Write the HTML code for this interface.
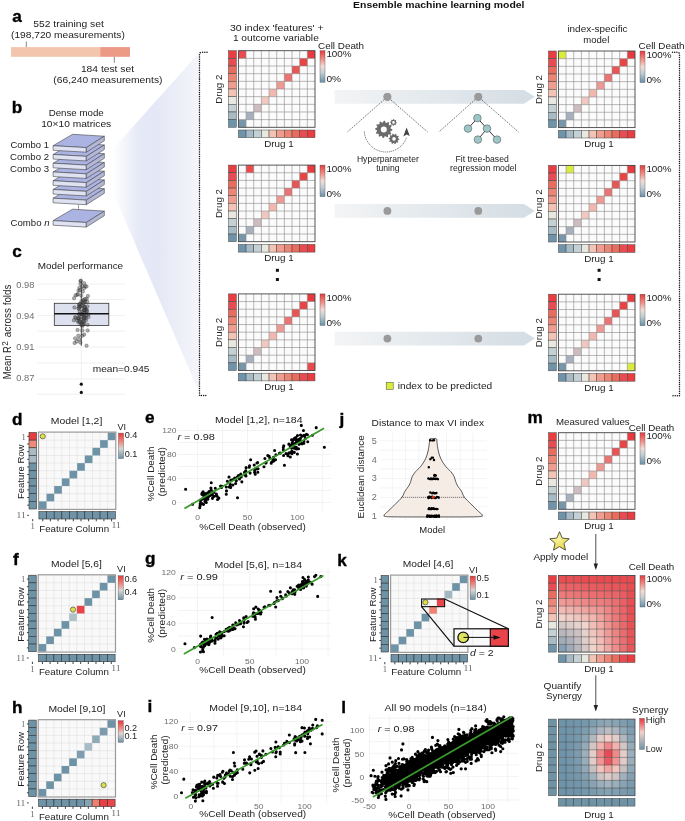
<!DOCTYPE html>
<html><head><meta charset="utf-8"><style>
html,body{margin:0;padding:0;background:#fff;}
svg{display:block;filter:blur(0.35px);}
text{font-family:"Liberation Sans", sans-serif;}
</style></head><body>
<svg width="685" height="821" viewBox="0 0 685 821" font-family="Liberation Sans, sans-serif" fill="#222">
<defs>
<linearGradient id="cbar" x1="0" y1="0" x2="0" y2="1">
<stop offset="0" stop-color="#e8383c"/><stop offset="0.25" stop-color="#ef8a80"/><stop offset="0.5" stop-color="#f1dcd6"/>
<stop offset="0.7" stop-color="#c3ced3"/><stop offset="1" stop-color="#6a91a8"/></linearGradient>
<linearGradient id="vibar" x1="0" y1="0" x2="0" y2="1">
<stop offset="0" stop-color="#e8383c"/><stop offset="0.35" stop-color="#ef8a80"/><stop offset="0.6" stop-color="#d8d6d4"/>
<stop offset="1" stop-color="#6a91a8"/></linearGradient>
<linearGradient id="fan" x1="0" y1="0" x2="1" y2="0">
<stop offset="0" stop-color="#ffffff"/><stop offset="0.12" stop-color="#f6f7fc"/><stop offset="0.3" stop-color="#e6e9f6"/><stop offset="0.5" stop-color="#e4e7f5"/><stop offset="0.75" stop-color="#eceef8"/><stop offset="1" stop-color="#f5f6fb"/></linearGradient>
<linearGradient id="arr" x1="0" y1="0" x2="1" y2="0">
<stop offset="0" stop-color="#f3f4f5"/><stop offset="1" stop-color="#d3dde4"/></linearGradient>
<radialGradient id="star" cx="0.4" cy="0.35" r="0.7">
<stop offset="0" stop-color="#fbf6a8"/><stop offset="1" stop-color="#e4d23a"/></radialGradient>
</defs>
<rect width="685" height="821" fill="#fff"/>
<text x="12.2" y="21.6" font-size="17.2" font-weight="bold" fill="#000" stroke="#000" stroke-width="0.35">a</text>
<text x="11.8" y="113.4" font-size="17.2" font-weight="bold" fill="#000" stroke="#000" stroke-width="0.35">b</text>
<text x="12.2" y="256.9" font-size="17.2" font-weight="bold" fill="#000" stroke="#000" stroke-width="0.35">c</text>
<text x="12" y="424.9" font-size="17.2" font-weight="bold" fill="#000" stroke="#000" stroke-width="0.35">d</text>
<text x="145" y="422.9" font-size="17.2" font-weight="bold" fill="#000" stroke="#000" stroke-width="0.35">e</text>
<text x="13" y="565.3" font-size="17.2" font-weight="bold" fill="#000" stroke="#000" stroke-width="0.35">f</text>
<text x="145" y="564.1" font-size="17.2" font-weight="bold" fill="#000" stroke="#000" stroke-width="0.35">g</text>
<text x="12" y="713.1" font-size="17.2" font-weight="bold" fill="#000" stroke="#000" stroke-width="0.35">h</text>
<text x="147.6" y="712.3" font-size="17.2" font-weight="bold" fill="#000" stroke="#000" stroke-width="0.35">i</text>
<text x="339.6" y="424.7" font-size="17.2" font-weight="bold" fill="#000" stroke="#000" stroke-width="0.35">j</text>
<text x="337.3" y="566.1" font-size="17.2" font-weight="bold" fill="#000" stroke="#000" stroke-width="0.35">k</text>
<text x="341.2" y="712.5" font-size="17.2" font-weight="bold" fill="#000" stroke="#000" stroke-width="0.35">l</text>
<text x="527.6" y="423.2" font-size="17.2" font-weight="bold" fill="#000" stroke="#000" stroke-width="0.35">m</text>
<text x="33.3" y="27.2" font-size="9.8" textLength="70.5" lengthAdjust="spacingAndGlyphs">552 training set</text>
<text x="11" y="38.4" font-size="9.8" textLength="113.8" lengthAdjust="spacingAndGlyphs">(198,720 measurements)</text>
<line x1="26.3" y1="41.5" x2="26.3" y2="47.2" stroke="#555" stroke-width="0.7" />
<rect x="11" y="47.1" width="89.2" height="9.7" fill="#f3c5ad" />
<rect x="100.2" y="47.1" width="29.8" height="9.7" fill="#ec9a86" />
<line x1="114.3" y1="56.8" x2="114.3" y2="62.8" stroke="#555" stroke-width="0.7" />
<text x="80.9" y="72" font-size="9.8" textLength="53.1" lengthAdjust="spacingAndGlyphs">184 test set</text>
<text x="53.3" y="83.3" font-size="9.8" textLength="109.2" lengthAdjust="spacingAndGlyphs">(66,240 measurements)</text>
<polygon points="112,150 199,53 199,392 112,190" fill="url(#fan)"/>
<path d="M207,52.3 H201.5 Q199.5,52.3 199.5,54.3 V395.5 H206" fill="none" stroke="#111" stroke-width="1.5" stroke-dasharray="0.01,2.2" stroke-linecap="round"/>
<path d="M672.5,52.3 H677.5 Q679.5,52.3 679.5,54.3 V395.8 H671.6" fill="none" stroke="#111" stroke-width="1.5" stroke-dasharray="0.01,2.2" stroke-linecap="round"/>
<text x="48.7" y="115.7" font-size="9.8" textLength="55" lengthAdjust="spacingAndGlyphs">Dense mode</text>
<text x="41.2" y="126.7" font-size="9.8" textLength="70" lengthAdjust="spacingAndGlyphs">10×10 matrices</text>
<path d="M53.1,198.2 L72.5,186.8 L104.3,188.7 L86.3,200.1 Z" fill="#abb3e2" stroke="#444" stroke-width="0.6"/>
<path d="M53.1,198.2 L86.3,200.1 L86.3,204.7 L53.1,202.8 Z" fill="#dfe2f3" stroke="#444" stroke-width="0.6"/>
<path d="M86.3,200.1 L104.3,188.7 L104.3,193.3 L86.3,204.7 Z" fill="#b4b8d6" stroke="#444" stroke-width="0.6"/>
<path d="M53.1,189.45 L72.5,178.05 L104.3,179.95 L86.3,191.35 Z" fill="#abb3e2" stroke="#444" stroke-width="0.6"/>
<path d="M53.1,189.45 L86.3,191.35 L86.3,195.95 L53.1,194.05 Z" fill="#dfe2f3" stroke="#444" stroke-width="0.6"/>
<path d="M86.3,191.35 L104.3,179.95 L104.3,184.55 L86.3,195.95 Z" fill="#b4b8d6" stroke="#444" stroke-width="0.6"/>
<path d="M53.1,180.7 L72.5,169.3 L104.3,171.2 L86.3,182.6 Z" fill="#abb3e2" stroke="#444" stroke-width="0.6"/>
<path d="M53.1,180.7 L86.3,182.6 L86.3,187.2 L53.1,185.3 Z" fill="#dfe2f3" stroke="#444" stroke-width="0.6"/>
<path d="M86.3,182.6 L104.3,171.2 L104.3,175.8 L86.3,187.2 Z" fill="#b4b8d6" stroke="#444" stroke-width="0.6"/>
<path d="M53.1,171.95 L72.5,160.55 L104.3,162.45 L86.3,173.85 Z" fill="#abb3e2" stroke="#444" stroke-width="0.6"/>
<path d="M53.1,171.95 L86.3,173.85 L86.3,178.45 L53.1,176.55 Z" fill="#dfe2f3" stroke="#444" stroke-width="0.6"/>
<path d="M86.3,173.85 L104.3,162.45 L104.3,167.05 L86.3,178.45 Z" fill="#b4b8d6" stroke="#444" stroke-width="0.6"/>
<path d="M53.1,163.2 L72.5,151.8 L104.3,153.7 L86.3,165.1 Z" fill="#abb3e2" stroke="#444" stroke-width="0.6"/>
<path d="M53.1,163.2 L86.3,165.1 L86.3,169.7 L53.1,167.8 Z" fill="#dfe2f3" stroke="#444" stroke-width="0.6"/>
<path d="M86.3,165.1 L104.3,153.7 L104.3,158.3 L86.3,169.7 Z" fill="#b4b8d6" stroke="#444" stroke-width="0.6"/>
<path d="M53.1,154.45 L72.5,143.05 L104.3,144.95 L86.3,156.35 Z" fill="#abb3e2" stroke="#444" stroke-width="0.6"/>
<path d="M53.1,154.45 L86.3,156.35 L86.3,160.95 L53.1,159.05 Z" fill="#dfe2f3" stroke="#444" stroke-width="0.6"/>
<path d="M86.3,156.35 L104.3,144.95 L104.3,149.55 L86.3,160.95 Z" fill="#b4b8d6" stroke="#444" stroke-width="0.6"/>
<path d="M53.1,145.7 L72.5,134.3 L104.3,136.2 L86.3,147.6 Z" fill="#abb3e2" stroke="#444" stroke-width="0.6"/>
<path d="M53.1,145.7 L86.3,147.6 L86.3,152.2 L53.1,150.3 Z" fill="#dfe2f3" stroke="#444" stroke-width="0.6"/>
<path d="M86.3,147.6 L104.3,136.2 L104.3,140.8 L86.3,152.2 Z" fill="#b4b8d6" stroke="#444" stroke-width="0.6"/>
<line x1="78.5" y1="205.5" x2="78.5" y2="216" stroke="#222" stroke-width="0.9" stroke-dasharray="1,0.9"/>
<path d="M53.1,220.6 L72.5,209.2 L104.3,211.1 L86.3,222.5 Z" fill="#abb3e2" stroke="#444" stroke-width="0.6"/>
<path d="M53.1,220.6 L86.3,222.5 L86.3,227.1 L53.1,225.2 Z" fill="#dfe2f3" stroke="#444" stroke-width="0.6"/>
<path d="M86.3,222.5 L104.3,211.1 L104.3,215.7 L86.3,227.1 Z" fill="#b4b8d6" stroke="#444" stroke-width="0.6"/>
<text x="10.5" y="148.4" font-size="9.8" textLength="38.5" lengthAdjust="spacingAndGlyphs">Combo 1</text>
<text x="10" y="160.2" font-size="9.8" textLength="39" lengthAdjust="spacingAndGlyphs">Combo 2</text>
<text x="10" y="172" font-size="9.8" textLength="39" lengthAdjust="spacingAndGlyphs">Combo 3</text>
<text x="10.5" y="226.4" font-size="9.8" fill="#222" textLength="39" lengthAdjust="spacingAndGlyphs">Combo <tspan font-style="italic">n</tspan></text>
<text x="37.8" y="268.9" font-size="9.8" textLength="85.3" lengthAdjust="spacingAndGlyphs">Model performance</text>
<line x1="37.4" y1="284.1" x2="125" y2="284.1" stroke="#e6e6e6" stroke-width="0.6" />
<line x1="37.4" y1="299.5" x2="125" y2="299.5" stroke="#e6e6e6" stroke-width="0.6" />
<line x1="37.4" y1="315.6" x2="125" y2="315.6" stroke="#e6e6e6" stroke-width="0.6" />
<line x1="37.4" y1="331.2" x2="125" y2="331.2" stroke="#e6e6e6" stroke-width="0.6" />
<line x1="37.4" y1="347.1" x2="125" y2="347.1" stroke="#e6e6e6" stroke-width="0.6" />
<line x1="37.4" y1="363" x2="125" y2="363" stroke="#e6e6e6" stroke-width="0.6" />
<line x1="37.4" y1="379" x2="125" y2="379" stroke="#e6e6e6" stroke-width="0.6" />
<line x1="37.4" y1="394.2" x2="125" y2="394.2" stroke="#e6e6e6" stroke-width="0.6" />
<line x1="81.3" y1="276" x2="81.3" y2="397" stroke="#e6e6e6" stroke-width="0.6" />
<text x="34.4" y="287.7" font-size="8.2" text-anchor="end" fill="#6e6e6e" textLength="18.07" lengthAdjust="spacingAndGlyphs">0.98</text>
<text x="34.4" y="318.9" font-size="8.2" text-anchor="end" fill="#6e6e6e" textLength="18.07" lengthAdjust="spacingAndGlyphs">0.94</text>
<text x="34.4" y="350.2" font-size="8.2" text-anchor="end" fill="#6e6e6e" textLength="18.07" lengthAdjust="spacingAndGlyphs">0.91</text>
<text x="34.4" y="381" font-size="8.2" text-anchor="end" fill="#6e6e6e" textLength="18.07" lengthAdjust="spacingAndGlyphs">0.87</text>
<line x1="81.3" y1="280.7" x2="81.3" y2="345.7" stroke="#222" stroke-width="0.8" />
<rect x="54.3" y="303.3" width="54.5" height="22.2" fill="#dde0ee" stroke="#333" stroke-width="0.8" />
<circle cx="79.35" cy="314.78" r="1.7" fill="#555" fill-opacity="0.45" stroke="#222" stroke-opacity="0.7" stroke-width="0.45"/>
<circle cx="82.43" cy="330.38" r="1.7" fill="#555" fill-opacity="0.45" stroke="#222" stroke-opacity="0.7" stroke-width="0.45"/>
<circle cx="79.13" cy="339.15" r="1.7" fill="#555" fill-opacity="0.45" stroke="#222" stroke-opacity="0.7" stroke-width="0.45"/>
<circle cx="85.76" cy="315.63" r="1.7" fill="#555" fill-opacity="0.45" stroke="#222" stroke-opacity="0.7" stroke-width="0.45"/>
<circle cx="82.55" cy="321.44" r="1.7" fill="#555" fill-opacity="0.45" stroke="#222" stroke-opacity="0.7" stroke-width="0.45"/>
<circle cx="83.32" cy="300.35" r="1.7" fill="#555" fill-opacity="0.45" stroke="#222" stroke-opacity="0.7" stroke-width="0.45"/>
<circle cx="82.84" cy="291.54" r="1.7" fill="#555" fill-opacity="0.45" stroke="#222" stroke-opacity="0.7" stroke-width="0.45"/>
<circle cx="85.17" cy="310.28" r="1.7" fill="#555" fill-opacity="0.45" stroke="#222" stroke-opacity="0.7" stroke-width="0.45"/>
<circle cx="84.59" cy="312.43" r="1.7" fill="#555" fill-opacity="0.45" stroke="#222" stroke-opacity="0.7" stroke-width="0.45"/>
<circle cx="84.58" cy="316.71" r="1.7" fill="#555" fill-opacity="0.45" stroke="#222" stroke-opacity="0.7" stroke-width="0.45"/>
<circle cx="79.72" cy="306.7" r="1.7" fill="#555" fill-opacity="0.45" stroke="#222" stroke-opacity="0.7" stroke-width="0.45"/>
<circle cx="80.47" cy="283.84" r="1.7" fill="#555" fill-opacity="0.45" stroke="#222" stroke-opacity="0.7" stroke-width="0.45"/>
<circle cx="78.02" cy="317.93" r="1.7" fill="#555" fill-opacity="0.45" stroke="#222" stroke-opacity="0.7" stroke-width="0.45"/>
<circle cx="85.49" cy="309.28" r="1.7" fill="#555" fill-opacity="0.45" stroke="#222" stroke-opacity="0.7" stroke-width="0.45"/>
<circle cx="81.37" cy="305.51" r="1.7" fill="#555" fill-opacity="0.45" stroke="#222" stroke-opacity="0.7" stroke-width="0.45"/>
<circle cx="79.06" cy="305.34" r="1.7" fill="#555" fill-opacity="0.45" stroke="#222" stroke-opacity="0.7" stroke-width="0.45"/>
<circle cx="84.03" cy="288.26" r="1.7" fill="#555" fill-opacity="0.45" stroke="#222" stroke-opacity="0.7" stroke-width="0.45"/>
<circle cx="86.65" cy="298.73" r="1.7" fill="#555" fill-opacity="0.45" stroke="#222" stroke-opacity="0.7" stroke-width="0.45"/>
<circle cx="86.71" cy="309.68" r="1.7" fill="#555" fill-opacity="0.45" stroke="#222" stroke-opacity="0.7" stroke-width="0.45"/>
<circle cx="87.37" cy="306.41" r="1.7" fill="#555" fill-opacity="0.45" stroke="#222" stroke-opacity="0.7" stroke-width="0.45"/>
<circle cx="86.27" cy="311.4" r="1.7" fill="#555" fill-opacity="0.45" stroke="#222" stroke-opacity="0.7" stroke-width="0.45"/>
<circle cx="79.36" cy="304.44" r="1.7" fill="#555" fill-opacity="0.45" stroke="#222" stroke-opacity="0.7" stroke-width="0.45"/>
<circle cx="75.13" cy="338.34" r="1.7" fill="#555" fill-opacity="0.45" stroke="#222" stroke-opacity="0.7" stroke-width="0.45"/>
<circle cx="80.49" cy="281.03" r="1.7" fill="#555" fill-opacity="0.45" stroke="#222" stroke-opacity="0.7" stroke-width="0.45"/>
<circle cx="84.65" cy="307.21" r="1.7" fill="#555" fill-opacity="0.45" stroke="#222" stroke-opacity="0.7" stroke-width="0.45"/>
<circle cx="82.33" cy="335.73" r="1.7" fill="#555" fill-opacity="0.45" stroke="#222" stroke-opacity="0.7" stroke-width="0.45"/>
<circle cx="87.01" cy="311.12" r="1.7" fill="#555" fill-opacity="0.45" stroke="#222" stroke-opacity="0.7" stroke-width="0.45"/>
<circle cx="81.38" cy="301.63" r="1.7" fill="#555" fill-opacity="0.45" stroke="#222" stroke-opacity="0.7" stroke-width="0.45"/>
<circle cx="82.2" cy="311.52" r="1.7" fill="#555" fill-opacity="0.45" stroke="#222" stroke-opacity="0.7" stroke-width="0.45"/>
<circle cx="78.58" cy="318.53" r="1.7" fill="#555" fill-opacity="0.45" stroke="#222" stroke-opacity="0.7" stroke-width="0.45"/>
<circle cx="74.44" cy="307.45" r="1.7" fill="#555" fill-opacity="0.45" stroke="#222" stroke-opacity="0.7" stroke-width="0.45"/>
<circle cx="78.51" cy="308.47" r="1.7" fill="#555" fill-opacity="0.45" stroke="#222" stroke-opacity="0.7" stroke-width="0.45"/>
<circle cx="80.71" cy="323.97" r="1.7" fill="#555" fill-opacity="0.45" stroke="#222" stroke-opacity="0.7" stroke-width="0.45"/>
<circle cx="83.46" cy="305.55" r="1.7" fill="#555" fill-opacity="0.45" stroke="#222" stroke-opacity="0.7" stroke-width="0.45"/>
<circle cx="87.91" cy="296" r="1.7" fill="#555" fill-opacity="0.45" stroke="#222" stroke-opacity="0.7" stroke-width="0.45"/>
<circle cx="80.27" cy="306.67" r="1.7" fill="#555" fill-opacity="0.45" stroke="#222" stroke-opacity="0.7" stroke-width="0.45"/>
<circle cx="88.47" cy="314.39" r="1.7" fill="#555" fill-opacity="0.45" stroke="#222" stroke-opacity="0.7" stroke-width="0.45"/>
<circle cx="81.74" cy="324.89" r="1.7" fill="#555" fill-opacity="0.45" stroke="#222" stroke-opacity="0.7" stroke-width="0.45"/>
<circle cx="74.1" cy="298.18" r="1.7" fill="#555" fill-opacity="0.45" stroke="#222" stroke-opacity="0.7" stroke-width="0.45"/>
<circle cx="82.49" cy="322.53" r="1.7" fill="#555" fill-opacity="0.45" stroke="#222" stroke-opacity="0.7" stroke-width="0.45"/>
<circle cx="82.91" cy="302.96" r="1.7" fill="#555" fill-opacity="0.45" stroke="#222" stroke-opacity="0.7" stroke-width="0.45"/>
<circle cx="84.4" cy="302.65" r="1.7" fill="#555" fill-opacity="0.45" stroke="#222" stroke-opacity="0.7" stroke-width="0.45"/>
<circle cx="83.94" cy="318.23" r="1.7" fill="#555" fill-opacity="0.45" stroke="#222" stroke-opacity="0.7" stroke-width="0.45"/>
<circle cx="79.06" cy="314.16" r="1.7" fill="#555" fill-opacity="0.45" stroke="#222" stroke-opacity="0.7" stroke-width="0.45"/>
<circle cx="80.08" cy="303.6" r="1.7" fill="#555" fill-opacity="0.45" stroke="#222" stroke-opacity="0.7" stroke-width="0.45"/>
<circle cx="79.34" cy="306.98" r="1.7" fill="#555" fill-opacity="0.45" stroke="#222" stroke-opacity="0.7" stroke-width="0.45"/>
<circle cx="83.75" cy="309.41" r="1.7" fill="#555" fill-opacity="0.45" stroke="#222" stroke-opacity="0.7" stroke-width="0.45"/>
<circle cx="82.34" cy="325.98" r="1.7" fill="#555" fill-opacity="0.45" stroke="#222" stroke-opacity="0.7" stroke-width="0.45"/>
<circle cx="84.03" cy="309.97" r="1.7" fill="#555" fill-opacity="0.45" stroke="#222" stroke-opacity="0.7" stroke-width="0.45"/>
<circle cx="78.49" cy="322.41" r="1.7" fill="#555" fill-opacity="0.45" stroke="#222" stroke-opacity="0.7" stroke-width="0.45"/>
<circle cx="79.7" cy="311.49" r="1.7" fill="#555" fill-opacity="0.45" stroke="#222" stroke-opacity="0.7" stroke-width="0.45"/>
<circle cx="84.3" cy="307.57" r="1.7" fill="#555" fill-opacity="0.45" stroke="#222" stroke-opacity="0.7" stroke-width="0.45"/>
<circle cx="78.85" cy="318.56" r="1.7" fill="#555" fill-opacity="0.45" stroke="#222" stroke-opacity="0.7" stroke-width="0.45"/>
<circle cx="84.76" cy="307.02" r="1.7" fill="#555" fill-opacity="0.45" stroke="#222" stroke-opacity="0.7" stroke-width="0.45"/>
<circle cx="81.57" cy="314.57" r="1.7" fill="#555" fill-opacity="0.45" stroke="#222" stroke-opacity="0.7" stroke-width="0.45"/>
<circle cx="85.9" cy="320.27" r="1.7" fill="#555" fill-opacity="0.45" stroke="#222" stroke-opacity="0.7" stroke-width="0.45"/>
<circle cx="85.91" cy="317.92" r="1.7" fill="#555" fill-opacity="0.45" stroke="#222" stroke-opacity="0.7" stroke-width="0.45"/>
<circle cx="84.06" cy="323.47" r="1.7" fill="#555" fill-opacity="0.45" stroke="#222" stroke-opacity="0.7" stroke-width="0.45"/>
<circle cx="83.94" cy="321.19" r="1.7" fill="#555" fill-opacity="0.45" stroke="#222" stroke-opacity="0.7" stroke-width="0.45"/>
<circle cx="79.92" cy="321.66" r="1.7" fill="#555" fill-opacity="0.45" stroke="#222" stroke-opacity="0.7" stroke-width="0.45"/>
<circle cx="85.09" cy="301.37" r="1.7" fill="#555" fill-opacity="0.45" stroke="#222" stroke-opacity="0.7" stroke-width="0.45"/>
<circle cx="73.87" cy="320.19" r="1.7" fill="#555" fill-opacity="0.45" stroke="#222" stroke-opacity="0.7" stroke-width="0.45"/>
<circle cx="80.32" cy="342.48" r="1.7" fill="#555" fill-opacity="0.45" stroke="#222" stroke-opacity="0.7" stroke-width="0.45"/>
<circle cx="85.15" cy="286.28" r="1.7" fill="#555" fill-opacity="0.45" stroke="#222" stroke-opacity="0.7" stroke-width="0.45"/>
<circle cx="83.74" cy="312.78" r="1.7" fill="#555" fill-opacity="0.45" stroke="#222" stroke-opacity="0.7" stroke-width="0.45"/>
<circle cx="79.4" cy="287.81" r="1.7" fill="#555" fill-opacity="0.45" stroke="#222" stroke-opacity="0.7" stroke-width="0.45"/>
<circle cx="82.1" cy="314.22" r="1.7" fill="#555" fill-opacity="0.45" stroke="#222" stroke-opacity="0.7" stroke-width="0.45"/>
<circle cx="84.09" cy="318.52" r="1.7" fill="#555" fill-opacity="0.45" stroke="#222" stroke-opacity="0.7" stroke-width="0.45"/>
<circle cx="87.66" cy="330.57" r="1.7" fill="#555" fill-opacity="0.45" stroke="#222" stroke-opacity="0.7" stroke-width="0.45"/>
<circle cx="87.3" cy="301.68" r="1.7" fill="#555" fill-opacity="0.45" stroke="#222" stroke-opacity="0.7" stroke-width="0.45"/>
<circle cx="78.35" cy="335.75" r="1.7" fill="#555" fill-opacity="0.45" stroke="#222" stroke-opacity="0.7" stroke-width="0.45"/>
<circle cx="83.74" cy="315.34" r="1.7" fill="#555" fill-opacity="0.45" stroke="#222" stroke-opacity="0.7" stroke-width="0.45"/>
<circle cx="82.31" cy="286.14" r="1.7" fill="#555" fill-opacity="0.45" stroke="#222" stroke-opacity="0.7" stroke-width="0.45"/>
<circle cx="77.59" cy="329.97" r="1.7" fill="#555" fill-opacity="0.45" stroke="#222" stroke-opacity="0.7" stroke-width="0.45"/>
<circle cx="79.97" cy="290.17" r="1.7" fill="#555" fill-opacity="0.45" stroke="#222" stroke-opacity="0.7" stroke-width="0.45"/>
<circle cx="81.82" cy="316.87" r="1.7" fill="#555" fill-opacity="0.45" stroke="#222" stroke-opacity="0.7" stroke-width="0.45"/>
<circle cx="87.63" cy="324.85" r="1.7" fill="#555" fill-opacity="0.45" stroke="#222" stroke-opacity="0.7" stroke-width="0.45"/>
<circle cx="84.21" cy="334.55" r="1.7" fill="#555" fill-opacity="0.45" stroke="#222" stroke-opacity="0.7" stroke-width="0.45"/>
<circle cx="77.25" cy="294.92" r="1.7" fill="#555" fill-opacity="0.45" stroke="#222" stroke-opacity="0.7" stroke-width="0.45"/>
<circle cx="77.83" cy="294.06" r="1.7" fill="#555" fill-opacity="0.45" stroke="#222" stroke-opacity="0.7" stroke-width="0.45"/>
<circle cx="83.79" cy="299.98" r="1.7" fill="#555" fill-opacity="0.45" stroke="#222" stroke-opacity="0.7" stroke-width="0.45"/>
<circle cx="77.29" cy="320.61" r="1.7" fill="#555" fill-opacity="0.45" stroke="#222" stroke-opacity="0.7" stroke-width="0.45"/>
<circle cx="88.42" cy="317.1" r="1.7" fill="#555" fill-opacity="0.45" stroke="#222" stroke-opacity="0.7" stroke-width="0.45"/>
<circle cx="75.09" cy="317.09" r="1.7" fill="#555" fill-opacity="0.45" stroke="#222" stroke-opacity="0.7" stroke-width="0.45"/>
<circle cx="79.07" cy="308.78" r="1.7" fill="#555" fill-opacity="0.45" stroke="#222" stroke-opacity="0.7" stroke-width="0.45"/>
<circle cx="82.08" cy="324.24" r="1.7" fill="#555" fill-opacity="0.45" stroke="#222" stroke-opacity="0.7" stroke-width="0.45"/>
<circle cx="75.66" cy="317.86" r="1.7" fill="#555" fill-opacity="0.45" stroke="#222" stroke-opacity="0.7" stroke-width="0.45"/>
<circle cx="83.24" cy="324.74" r="1.7" fill="#555" fill-opacity="0.45" stroke="#222" stroke-opacity="0.7" stroke-width="0.45"/>
<circle cx="79.4" cy="320.92" r="1.7" fill="#555" fill-opacity="0.45" stroke="#222" stroke-opacity="0.7" stroke-width="0.45"/>
<circle cx="83.84" cy="317.57" r="1.7" fill="#555" fill-opacity="0.45" stroke="#222" stroke-opacity="0.7" stroke-width="0.45"/>
<circle cx="80.68" cy="319.46" r="1.7" fill="#555" fill-opacity="0.45" stroke="#222" stroke-opacity="0.7" stroke-width="0.45"/>
<circle cx="81.24" cy="295.61" r="1.7" fill="#555" fill-opacity="0.45" stroke="#222" stroke-opacity="0.7" stroke-width="0.45"/>
<circle cx="81" cy="280.8" r="1.7" fill="#555" fill-opacity="0.45" stroke="#222" stroke-opacity="0.7" stroke-width="0.45"/>
<circle cx="84.2" cy="283.3" r="1.7" fill="#555" fill-opacity="0.45" stroke="#222" stroke-opacity="0.7" stroke-width="0.45"/>
<circle cx="86.5" cy="286.5" r="1.7" fill="#555" fill-opacity="0.45" stroke="#222" stroke-opacity="0.7" stroke-width="0.45"/>
<circle cx="78.5" cy="290.5" r="1.7" fill="#555" fill-opacity="0.45" stroke="#222" stroke-opacity="0.7" stroke-width="0.45"/>
<circle cx="75.6" cy="295.2" r="1.7" fill="#555" fill-opacity="0.45" stroke="#222" stroke-opacity="0.7" stroke-width="0.45"/>
<circle cx="85" cy="299" r="1.7" fill="#555" fill-opacity="0.45" stroke="#222" stroke-opacity="0.7" stroke-width="0.45"/>
<circle cx="74.6" cy="343" r="1.7" fill="#555" fill-opacity="0.45" stroke="#222" stroke-opacity="0.7" stroke-width="0.45"/>
<circle cx="86.6" cy="345.7" r="1.7" fill="#555" fill-opacity="0.45" stroke="#222" stroke-opacity="0.7" stroke-width="0.45"/>
<circle cx="76.7" cy="341.5" r="1.7" fill="#555" fill-opacity="0.45" stroke="#222" stroke-opacity="0.7" stroke-width="0.45"/>
<line x1="54.2" y1="313.7" x2="108.9" y2="313.7" stroke="#111" stroke-width="1.5" />
<circle cx="81.3" cy="384.2" r="1.6" fill="#111"/>
<circle cx="81.3" cy="392.4" r="1.6" fill="#111"/>
<text x="92.7" y="372" font-size="9.8" textLength="56.8" lengthAdjust="spacingAndGlyphs">mean=0.945</text>
<text x="11" y="379.2" font-size="10.2" textLength="33" lengthAdjust="spacingAndGlyphs" transform="rotate(-90 11 379.2)">Mean R</text>
<text x="11" y="337.2" font-size="10.2" textLength="52.7" lengthAdjust="spacingAndGlyphs" transform="rotate(-90 11 337.2)">across folds</text>
<text x="7.6" y="345.8" font-size="9" textLength="4.6" lengthAdjust="spacingAndGlyphs" transform="rotate(-90 7.6 345.8)">2</text>
<rect x="228.5" y="50.7" width="7.8" height="7.66" fill="#e83e42" stroke="#444" stroke-width="0.5" />
<rect x="228.5" y="58.36" width="7.8" height="7.66" fill="#e84c52" stroke="#444" stroke-width="0.5" />
<rect x="228.5" y="66.02" width="7.8" height="7.66" fill="#ea6c5c" stroke="#444" stroke-width="0.5" />
<rect x="228.5" y="73.68" width="7.8" height="7.66" fill="#ee8474" stroke="#444" stroke-width="0.5" />
<rect x="228.5" y="81.34" width="7.8" height="7.66" fill="#f09c8e" stroke="#444" stroke-width="0.5" />
<rect x="228.5" y="89" width="7.8" height="7.66" fill="#f3c4b4" stroke="#444" stroke-width="0.5" />
<rect x="228.5" y="96.66" width="7.8" height="7.66" fill="#e8e8e1" stroke="#444" stroke-width="0.5" />
<rect x="228.5" y="104.32" width="7.8" height="7.66" fill="#c3d0d4" stroke="#444" stroke-width="0.5" />
<rect x="228.5" y="111.98" width="7.8" height="7.66" fill="#a6bbc5" stroke="#444" stroke-width="0.5" />
<rect x="228.5" y="119.64" width="7.8" height="7.66" fill="#6f94aa" stroke="#444" stroke-width="0.5" />
<rect x="238.4" y="130" width="7.66" height="7.7" fill="#6f94aa" stroke="#444" stroke-width="0.5" />
<rect x="246.06" y="130" width="7.66" height="7.7" fill="#a6bbc5" stroke="#444" stroke-width="0.5" />
<rect x="253.72" y="130" width="7.66" height="7.7" fill="#c3d0d4" stroke="#444" stroke-width="0.5" />
<rect x="261.38" y="130" width="7.66" height="7.7" fill="#e8e8e1" stroke="#444" stroke-width="0.5" />
<rect x="269.04" y="130" width="7.66" height="7.7" fill="#f3c4b4" stroke="#444" stroke-width="0.5" />
<rect x="276.7" y="130" width="7.66" height="7.7" fill="#f09c8e" stroke="#444" stroke-width="0.5" />
<rect x="284.36" y="130" width="7.66" height="7.7" fill="#ee8474" stroke="#444" stroke-width="0.5" />
<rect x="292.02" y="130" width="7.66" height="7.7" fill="#ea6c5c" stroke="#444" stroke-width="0.5" />
<rect x="299.68" y="130" width="7.66" height="7.7" fill="#e84c52" stroke="#444" stroke-width="0.5" />
<rect x="307.34" y="130" width="7.66" height="7.7" fill="#e83e42" stroke="#444" stroke-width="0.5" />
<rect x="238.4" y="50.7" width="76.6" height="76.6" fill="#fbfbfb" />
<rect x="238.4" y="50.7" width="7.66" height="7.66" fill="#e84a4e" />
<rect x="307.34" y="50.7" width="7.66" height="7.66" fill="#e83a3e" />
<rect x="299.68" y="58.36" width="7.66" height="7.66" fill="#e84444" />
<rect x="292.02" y="66.02" width="7.66" height="7.66" fill="#e85555" />
<rect x="284.36" y="73.68" width="7.66" height="7.66" fill="#ea7474" />
<rect x="276.7" y="81.34" width="7.66" height="7.66" fill="#ee9a94" />
<rect x="269.04" y="89" width="7.66" height="7.66" fill="#f2b8b0" />
<rect x="261.38" y="96.66" width="7.66" height="7.66" fill="#f0c8c0" />
<rect x="253.72" y="104.32" width="7.66" height="7.66" fill="#cfbcc0" />
<rect x="246.06" y="111.98" width="7.66" height="7.66" fill="#a7b0bd" />
<rect x="238.4" y="119.64" width="7.66" height="7.66" fill="#7896aa" />
<path d="M246.06,50.7v76.6M238.4,58.36h76.6M253.72,50.7v76.6M238.4,66.02h76.6M261.38,50.7v76.6M238.4,73.68h76.6M269.04,50.7v76.6M238.4,81.34h76.6M276.7,50.7v76.6M238.4,89h76.6M284.36,50.7v76.6M238.4,96.66h76.6M292.02,50.7v76.6M238.4,104.32h76.6M299.68,50.7v76.6M238.4,111.98h76.6M307.34,50.7v76.6M238.4,119.64h76.6" stroke="#8a8a8a" stroke-width="0.6" fill="none"/>
<rect x="238.4" y="50.7" width="76.6" height="76.6" fill="none" stroke="#444" stroke-width="0.9" />
<text x="221.9" y="89.2" font-size="9.8" text-anchor="middle" textLength="29" lengthAdjust="spacingAndGlyphs" transform="rotate(-90 221.9 89.2)">Drug 2</text>
<text x="278.9" y="147" font-size="9.8" text-anchor="middle" textLength="29.5" lengthAdjust="spacingAndGlyphs">Drug 1</text>
<rect x="320" y="50.7" width="5" height="31.5" fill="url(#cbar)" stroke="#555" stroke-width="0.4" />
<text x="326.4" y="57.3" font-size="9.8" textLength="25.2" lengthAdjust="spacingAndGlyphs">100%</text>
<text x="326.4" y="82.3" font-size="9.8" textLength="14.7" lengthAdjust="spacingAndGlyphs">0%</text>
<rect x="228.5" y="165.1" width="7.8" height="7.66" fill="#e83e42" stroke="#444" stroke-width="0.5" />
<rect x="228.5" y="172.76" width="7.8" height="7.66" fill="#e84c52" stroke="#444" stroke-width="0.5" />
<rect x="228.5" y="180.42" width="7.8" height="7.66" fill="#ea6c5c" stroke="#444" stroke-width="0.5" />
<rect x="228.5" y="188.08" width="7.8" height="7.66" fill="#ee8474" stroke="#444" stroke-width="0.5" />
<rect x="228.5" y="195.74" width="7.8" height="7.66" fill="#f09c8e" stroke="#444" stroke-width="0.5" />
<rect x="228.5" y="203.4" width="7.8" height="7.66" fill="#f3c4b4" stroke="#444" stroke-width="0.5" />
<rect x="228.5" y="211.06" width="7.8" height="7.66" fill="#e8e8e1" stroke="#444" stroke-width="0.5" />
<rect x="228.5" y="218.72" width="7.8" height="7.66" fill="#c3d0d4" stroke="#444" stroke-width="0.5" />
<rect x="228.5" y="226.38" width="7.8" height="7.66" fill="#a6bbc5" stroke="#444" stroke-width="0.5" />
<rect x="228.5" y="234.04" width="7.8" height="7.66" fill="#6f94aa" stroke="#444" stroke-width="0.5" />
<rect x="238.4" y="244.4" width="7.66" height="7.7" fill="#6f94aa" stroke="#444" stroke-width="0.5" />
<rect x="246.06" y="244.4" width="7.66" height="7.7" fill="#a6bbc5" stroke="#444" stroke-width="0.5" />
<rect x="253.72" y="244.4" width="7.66" height="7.7" fill="#c3d0d4" stroke="#444" stroke-width="0.5" />
<rect x="261.38" y="244.4" width="7.66" height="7.7" fill="#e8e8e1" stroke="#444" stroke-width="0.5" />
<rect x="269.04" y="244.4" width="7.66" height="7.7" fill="#f3c4b4" stroke="#444" stroke-width="0.5" />
<rect x="276.7" y="244.4" width="7.66" height="7.7" fill="#f09c8e" stroke="#444" stroke-width="0.5" />
<rect x="284.36" y="244.4" width="7.66" height="7.7" fill="#ee8474" stroke="#444" stroke-width="0.5" />
<rect x="292.02" y="244.4" width="7.66" height="7.7" fill="#ea6c5c" stroke="#444" stroke-width="0.5" />
<rect x="299.68" y="244.4" width="7.66" height="7.7" fill="#e84c52" stroke="#444" stroke-width="0.5" />
<rect x="307.34" y="244.4" width="7.66" height="7.7" fill="#e83e42" stroke="#444" stroke-width="0.5" />
<rect x="238.4" y="165.1" width="76.6" height="76.6" fill="#fbfbfb" />
<rect x="246.06" y="165.1" width="7.66" height="7.66" fill="#e84a4e" />
<rect x="307.34" y="165.1" width="7.66" height="7.66" fill="#e83a3e" />
<rect x="299.68" y="172.76" width="7.66" height="7.66" fill="#e84444" />
<rect x="292.02" y="180.42" width="7.66" height="7.66" fill="#e85555" />
<rect x="284.36" y="188.08" width="7.66" height="7.66" fill="#ea7474" />
<rect x="276.7" y="195.74" width="7.66" height="7.66" fill="#ee9a94" />
<rect x="269.04" y="203.4" width="7.66" height="7.66" fill="#f2b8b0" />
<rect x="261.38" y="211.06" width="7.66" height="7.66" fill="#f0c8c0" />
<rect x="253.72" y="218.72" width="7.66" height="7.66" fill="#cfbcc0" />
<rect x="246.06" y="226.38" width="7.66" height="7.66" fill="#a7b0bd" />
<rect x="238.4" y="234.04" width="7.66" height="7.66" fill="#7896aa" />
<path d="M246.06,165.1v76.6M238.4,172.76h76.6M253.72,165.1v76.6M238.4,180.42h76.6M261.38,165.1v76.6M238.4,188.08h76.6M269.04,165.1v76.6M238.4,195.74h76.6M276.7,165.1v76.6M238.4,203.4h76.6M284.36,165.1v76.6M238.4,211.06h76.6M292.02,165.1v76.6M238.4,218.72h76.6M299.68,165.1v76.6M238.4,226.38h76.6M307.34,165.1v76.6M238.4,234.04h76.6" stroke="#8a8a8a" stroke-width="0.6" fill="none"/>
<rect x="238.4" y="165.1" width="76.6" height="76.6" fill="none" stroke="#444" stroke-width="0.9" />
<text x="221.9" y="203.6" font-size="9.8" text-anchor="middle" textLength="29" lengthAdjust="spacingAndGlyphs" transform="rotate(-90 221.9 203.6)">Drug 2</text>
<text x="278.9" y="261.4" font-size="9.8" text-anchor="middle" textLength="29.5" lengthAdjust="spacingAndGlyphs">Drug 1</text>
<rect x="320" y="165.1" width="5" height="31.5" fill="url(#cbar)" stroke="#555" stroke-width="0.4" />
<text x="326.4" y="171.7" font-size="9.8" textLength="25.2" lengthAdjust="spacingAndGlyphs">100%</text>
<text x="326.4" y="196.7" font-size="9.8" textLength="14.7" lengthAdjust="spacingAndGlyphs">0%</text>
<rect x="228.5" y="293.9" width="7.8" height="7.66" fill="#e83e42" stroke="#444" stroke-width="0.5" />
<rect x="228.5" y="301.56" width="7.8" height="7.66" fill="#e84c52" stroke="#444" stroke-width="0.5" />
<rect x="228.5" y="309.22" width="7.8" height="7.66" fill="#ea6c5c" stroke="#444" stroke-width="0.5" />
<rect x="228.5" y="316.88" width="7.8" height="7.66" fill="#ee8474" stroke="#444" stroke-width="0.5" />
<rect x="228.5" y="324.54" width="7.8" height="7.66" fill="#f09c8e" stroke="#444" stroke-width="0.5" />
<rect x="228.5" y="332.2" width="7.8" height="7.66" fill="#f3c4b4" stroke="#444" stroke-width="0.5" />
<rect x="228.5" y="339.86" width="7.8" height="7.66" fill="#e8e8e1" stroke="#444" stroke-width="0.5" />
<rect x="228.5" y="347.52" width="7.8" height="7.66" fill="#c3d0d4" stroke="#444" stroke-width="0.5" />
<rect x="228.5" y="355.18" width="7.8" height="7.66" fill="#a6bbc5" stroke="#444" stroke-width="0.5" />
<rect x="228.5" y="362.84" width="7.8" height="7.66" fill="#6f94aa" stroke="#444" stroke-width="0.5" />
<rect x="238.4" y="373.2" width="7.66" height="7.7" fill="#6f94aa" stroke="#444" stroke-width="0.5" />
<rect x="246.06" y="373.2" width="7.66" height="7.7" fill="#a6bbc5" stroke="#444" stroke-width="0.5" />
<rect x="253.72" y="373.2" width="7.66" height="7.7" fill="#c3d0d4" stroke="#444" stroke-width="0.5" />
<rect x="261.38" y="373.2" width="7.66" height="7.7" fill="#e8e8e1" stroke="#444" stroke-width="0.5" />
<rect x="269.04" y="373.2" width="7.66" height="7.7" fill="#f3c4b4" stroke="#444" stroke-width="0.5" />
<rect x="276.7" y="373.2" width="7.66" height="7.7" fill="#f09c8e" stroke="#444" stroke-width="0.5" />
<rect x="284.36" y="373.2" width="7.66" height="7.7" fill="#ee8474" stroke="#444" stroke-width="0.5" />
<rect x="292.02" y="373.2" width="7.66" height="7.7" fill="#ea6c5c" stroke="#444" stroke-width="0.5" />
<rect x="299.68" y="373.2" width="7.66" height="7.7" fill="#e84c52" stroke="#444" stroke-width="0.5" />
<rect x="307.34" y="373.2" width="7.66" height="7.7" fill="#e83e42" stroke="#444" stroke-width="0.5" />
<rect x="238.4" y="293.9" width="76.6" height="76.6" fill="#fbfbfb" />
<rect x="307.34" y="293.9" width="7.66" height="7.66" fill="#e83a3e" />
<rect x="299.68" y="301.56" width="7.66" height="7.66" fill="#e84444" />
<rect x="292.02" y="309.22" width="7.66" height="7.66" fill="#e85555" />
<rect x="284.36" y="316.88" width="7.66" height="7.66" fill="#ea7474" />
<rect x="276.7" y="324.54" width="7.66" height="7.66" fill="#ee9a94" />
<rect x="269.04" y="332.2" width="7.66" height="7.66" fill="#f2b8b0" />
<rect x="261.38" y="339.86" width="7.66" height="7.66" fill="#f0c8c0" />
<rect x="253.72" y="347.52" width="7.66" height="7.66" fill="#cfbcc0" />
<rect x="246.06" y="355.18" width="7.66" height="7.66" fill="#a7b0bd" />
<rect x="238.4" y="362.84" width="7.66" height="7.66" fill="#7896aa" />
<rect x="307.34" y="362.84" width="7.66" height="7.66" fill="#e84a4e" />
<path d="M246.06,293.9v76.6M238.4,301.56h76.6M253.72,293.9v76.6M238.4,309.22h76.6M261.38,293.9v76.6M238.4,316.88h76.6M269.04,293.9v76.6M238.4,324.54h76.6M276.7,293.9v76.6M238.4,332.2h76.6M284.36,293.9v76.6M238.4,339.86h76.6M292.02,293.9v76.6M238.4,347.52h76.6M299.68,293.9v76.6M238.4,355.18h76.6M307.34,293.9v76.6M238.4,362.84h76.6" stroke="#8a8a8a" stroke-width="0.6" fill="none"/>
<rect x="238.4" y="293.9" width="76.6" height="76.6" fill="none" stroke="#444" stroke-width="0.9" />
<text x="221.9" y="332.4" font-size="9.8" text-anchor="middle" textLength="29" lengthAdjust="spacingAndGlyphs" transform="rotate(-90 221.9 332.4)">Drug 2</text>
<text x="278.9" y="390.2" font-size="9.8" text-anchor="middle" textLength="29.5" lengthAdjust="spacingAndGlyphs">Drug 1</text>
<rect x="320" y="293.9" width="5" height="31.5" fill="url(#cbar)" stroke="#555" stroke-width="0.4" />
<text x="326.4" y="300.5" font-size="9.8" textLength="25.2" lengthAdjust="spacingAndGlyphs">100%</text>
<text x="326.4" y="325.5" font-size="9.8" textLength="14.7" lengthAdjust="spacingAndGlyphs">0%</text>
<rect x="548.5" y="51" width="7.8" height="7.66" fill="#e83e42" stroke="#444" stroke-width="0.5" />
<rect x="548.5" y="58.66" width="7.8" height="7.66" fill="#e84c52" stroke="#444" stroke-width="0.5" />
<rect x="548.5" y="66.32" width="7.8" height="7.66" fill="#ea6c5c" stroke="#444" stroke-width="0.5" />
<rect x="548.5" y="73.98" width="7.8" height="7.66" fill="#ee8474" stroke="#444" stroke-width="0.5" />
<rect x="548.5" y="81.64" width="7.8" height="7.66" fill="#f09c8e" stroke="#444" stroke-width="0.5" />
<rect x="548.5" y="89.3" width="7.8" height="7.66" fill="#f3c4b4" stroke="#444" stroke-width="0.5" />
<rect x="548.5" y="96.96" width="7.8" height="7.66" fill="#e8e8e1" stroke="#444" stroke-width="0.5" />
<rect x="548.5" y="104.62" width="7.8" height="7.66" fill="#c3d0d4" stroke="#444" stroke-width="0.5" />
<rect x="548.5" y="112.28" width="7.8" height="7.66" fill="#a6bbc5" stroke="#444" stroke-width="0.5" />
<rect x="548.5" y="119.94" width="7.8" height="7.66" fill="#6f94aa" stroke="#444" stroke-width="0.5" />
<rect x="558.4" y="130.3" width="7.66" height="7.7" fill="#6f94aa" stroke="#444" stroke-width="0.5" />
<rect x="566.06" y="130.3" width="7.66" height="7.7" fill="#a6bbc5" stroke="#444" stroke-width="0.5" />
<rect x="573.72" y="130.3" width="7.66" height="7.7" fill="#c3d0d4" stroke="#444" stroke-width="0.5" />
<rect x="581.38" y="130.3" width="7.66" height="7.7" fill="#e8e8e1" stroke="#444" stroke-width="0.5" />
<rect x="589.04" y="130.3" width="7.66" height="7.7" fill="#f3c4b4" stroke="#444" stroke-width="0.5" />
<rect x="596.7" y="130.3" width="7.66" height="7.7" fill="#f09c8e" stroke="#444" stroke-width="0.5" />
<rect x="604.36" y="130.3" width="7.66" height="7.7" fill="#ee8474" stroke="#444" stroke-width="0.5" />
<rect x="612.02" y="130.3" width="7.66" height="7.7" fill="#ea6c5c" stroke="#444" stroke-width="0.5" />
<rect x="619.68" y="130.3" width="7.66" height="7.7" fill="#e84c52" stroke="#444" stroke-width="0.5" />
<rect x="627.34" y="130.3" width="7.66" height="7.7" fill="#e83e42" stroke="#444" stroke-width="0.5" />
<rect x="558.4" y="51" width="76.6" height="76.6" fill="#fbfbfb" />
<rect x="558.4" y="51" width="7.66" height="7.66" fill="#d9ec3c" />
<rect x="627.34" y="51" width="7.66" height="7.66" fill="#e83a3e" />
<rect x="619.68" y="58.66" width="7.66" height="7.66" fill="#e84444" />
<rect x="612.02" y="66.32" width="7.66" height="7.66" fill="#e85555" />
<rect x="604.36" y="73.98" width="7.66" height="7.66" fill="#ea7474" />
<rect x="596.7" y="81.64" width="7.66" height="7.66" fill="#ee9a94" />
<rect x="589.04" y="89.3" width="7.66" height="7.66" fill="#f2b8b0" />
<rect x="581.38" y="96.96" width="7.66" height="7.66" fill="#f0c8c0" />
<rect x="573.72" y="104.62" width="7.66" height="7.66" fill="#cfbcc0" />
<rect x="566.06" y="112.28" width="7.66" height="7.66" fill="#a7b0bd" />
<rect x="558.4" y="119.94" width="7.66" height="7.66" fill="#7896aa" />
<path d="M566.06,51v76.6M558.4,58.66h76.6M573.72,51v76.6M558.4,66.32h76.6M581.38,51v76.6M558.4,73.98h76.6M589.04,51v76.6M558.4,81.64h76.6M596.7,51v76.6M558.4,89.3h76.6M604.36,51v76.6M558.4,96.96h76.6M612.02,51v76.6M558.4,104.62h76.6M619.68,51v76.6M558.4,112.28h76.6M627.34,51v76.6M558.4,119.94h76.6" stroke="#8a8a8a" stroke-width="0.6" fill="none"/>
<rect x="558.4" y="51" width="76.6" height="76.6" fill="none" stroke="#444" stroke-width="0.9" />
<text x="541.9" y="89.5" font-size="9.8" text-anchor="middle" textLength="29" lengthAdjust="spacingAndGlyphs" transform="rotate(-90 541.9 89.5)">Drug 2</text>
<text x="598.9" y="147.3" font-size="9.8" text-anchor="middle" textLength="29.5" lengthAdjust="spacingAndGlyphs">Drug 1</text>
<rect x="640" y="51" width="5" height="31.5" fill="url(#cbar)" stroke="#555" stroke-width="0.4" />
<text x="646.4" y="57.6" font-size="9.8" textLength="25.2" lengthAdjust="spacingAndGlyphs">100%</text>
<text x="646.4" y="82.6" font-size="9.8" textLength="14.7" lengthAdjust="spacingAndGlyphs">0%</text>
<rect x="548.5" y="165.4" width="7.8" height="7.66" fill="#e83e42" stroke="#444" stroke-width="0.5" />
<rect x="548.5" y="173.06" width="7.8" height="7.66" fill="#e84c52" stroke="#444" stroke-width="0.5" />
<rect x="548.5" y="180.72" width="7.8" height="7.66" fill="#ea6c5c" stroke="#444" stroke-width="0.5" />
<rect x="548.5" y="188.38" width="7.8" height="7.66" fill="#ee8474" stroke="#444" stroke-width="0.5" />
<rect x="548.5" y="196.04" width="7.8" height="7.66" fill="#f09c8e" stroke="#444" stroke-width="0.5" />
<rect x="548.5" y="203.7" width="7.8" height="7.66" fill="#f3c4b4" stroke="#444" stroke-width="0.5" />
<rect x="548.5" y="211.36" width="7.8" height="7.66" fill="#e8e8e1" stroke="#444" stroke-width="0.5" />
<rect x="548.5" y="219.02" width="7.8" height="7.66" fill="#c3d0d4" stroke="#444" stroke-width="0.5" />
<rect x="548.5" y="226.68" width="7.8" height="7.66" fill="#a6bbc5" stroke="#444" stroke-width="0.5" />
<rect x="548.5" y="234.34" width="7.8" height="7.66" fill="#6f94aa" stroke="#444" stroke-width="0.5" />
<rect x="558.4" y="244.7" width="7.66" height="7.7" fill="#6f94aa" stroke="#444" stroke-width="0.5" />
<rect x="566.06" y="244.7" width="7.66" height="7.7" fill="#a6bbc5" stroke="#444" stroke-width="0.5" />
<rect x="573.72" y="244.7" width="7.66" height="7.7" fill="#c3d0d4" stroke="#444" stroke-width="0.5" />
<rect x="581.38" y="244.7" width="7.66" height="7.7" fill="#e8e8e1" stroke="#444" stroke-width="0.5" />
<rect x="589.04" y="244.7" width="7.66" height="7.7" fill="#f3c4b4" stroke="#444" stroke-width="0.5" />
<rect x="596.7" y="244.7" width="7.66" height="7.7" fill="#f09c8e" stroke="#444" stroke-width="0.5" />
<rect x="604.36" y="244.7" width="7.66" height="7.7" fill="#ee8474" stroke="#444" stroke-width="0.5" />
<rect x="612.02" y="244.7" width="7.66" height="7.7" fill="#ea6c5c" stroke="#444" stroke-width="0.5" />
<rect x="619.68" y="244.7" width="7.66" height="7.7" fill="#e84c52" stroke="#444" stroke-width="0.5" />
<rect x="627.34" y="244.7" width="7.66" height="7.7" fill="#e83e42" stroke="#444" stroke-width="0.5" />
<rect x="558.4" y="165.4" width="76.6" height="76.6" fill="#fbfbfb" />
<rect x="566.06" y="165.4" width="7.66" height="7.66" fill="#d9ec3c" />
<rect x="627.34" y="165.4" width="7.66" height="7.66" fill="#e83a3e" />
<rect x="619.68" y="173.06" width="7.66" height="7.66" fill="#e84444" />
<rect x="612.02" y="180.72" width="7.66" height="7.66" fill="#e85555" />
<rect x="604.36" y="188.38" width="7.66" height="7.66" fill="#ea7474" />
<rect x="596.7" y="196.04" width="7.66" height="7.66" fill="#ee9a94" />
<rect x="589.04" y="203.7" width="7.66" height="7.66" fill="#f2b8b0" />
<rect x="581.38" y="211.36" width="7.66" height="7.66" fill="#f0c8c0" />
<rect x="573.72" y="219.02" width="7.66" height="7.66" fill="#cfbcc0" />
<rect x="566.06" y="226.68" width="7.66" height="7.66" fill="#a7b0bd" />
<rect x="558.4" y="234.34" width="7.66" height="7.66" fill="#7896aa" />
<path d="M566.06,165.4v76.6M558.4,173.06h76.6M573.72,165.4v76.6M558.4,180.72h76.6M581.38,165.4v76.6M558.4,188.38h76.6M589.04,165.4v76.6M558.4,196.04h76.6M596.7,165.4v76.6M558.4,203.7h76.6M604.36,165.4v76.6M558.4,211.36h76.6M612.02,165.4v76.6M558.4,219.02h76.6M619.68,165.4v76.6M558.4,226.68h76.6M627.34,165.4v76.6M558.4,234.34h76.6" stroke="#8a8a8a" stroke-width="0.6" fill="none"/>
<rect x="558.4" y="165.4" width="76.6" height="76.6" fill="none" stroke="#444" stroke-width="0.9" />
<text x="541.9" y="203.9" font-size="9.8" text-anchor="middle" textLength="29" lengthAdjust="spacingAndGlyphs" transform="rotate(-90 541.9 203.9)">Drug 2</text>
<text x="598.9" y="261.7" font-size="9.8" text-anchor="middle" textLength="29.5" lengthAdjust="spacingAndGlyphs">Drug 1</text>
<rect x="640" y="165.4" width="5" height="31.5" fill="url(#cbar)" stroke="#555" stroke-width="0.4" />
<text x="646.4" y="172" font-size="9.8" textLength="25.2" lengthAdjust="spacingAndGlyphs">100%</text>
<text x="646.4" y="197" font-size="9.8" textLength="14.7" lengthAdjust="spacingAndGlyphs">0%</text>
<rect x="548.5" y="294.2" width="7.8" height="7.66" fill="#e83e42" stroke="#444" stroke-width="0.5" />
<rect x="548.5" y="301.86" width="7.8" height="7.66" fill="#e84c52" stroke="#444" stroke-width="0.5" />
<rect x="548.5" y="309.52" width="7.8" height="7.66" fill="#ea6c5c" stroke="#444" stroke-width="0.5" />
<rect x="548.5" y="317.18" width="7.8" height="7.66" fill="#ee8474" stroke="#444" stroke-width="0.5" />
<rect x="548.5" y="324.84" width="7.8" height="7.66" fill="#f09c8e" stroke="#444" stroke-width="0.5" />
<rect x="548.5" y="332.5" width="7.8" height="7.66" fill="#f3c4b4" stroke="#444" stroke-width="0.5" />
<rect x="548.5" y="340.16" width="7.8" height="7.66" fill="#e8e8e1" stroke="#444" stroke-width="0.5" />
<rect x="548.5" y="347.82" width="7.8" height="7.66" fill="#c3d0d4" stroke="#444" stroke-width="0.5" />
<rect x="548.5" y="355.48" width="7.8" height="7.66" fill="#a6bbc5" stroke="#444" stroke-width="0.5" />
<rect x="548.5" y="363.14" width="7.8" height="7.66" fill="#6f94aa" stroke="#444" stroke-width="0.5" />
<rect x="558.4" y="373.5" width="7.66" height="7.7" fill="#6f94aa" stroke="#444" stroke-width="0.5" />
<rect x="566.06" y="373.5" width="7.66" height="7.7" fill="#a6bbc5" stroke="#444" stroke-width="0.5" />
<rect x="573.72" y="373.5" width="7.66" height="7.7" fill="#c3d0d4" stroke="#444" stroke-width="0.5" />
<rect x="581.38" y="373.5" width="7.66" height="7.7" fill="#e8e8e1" stroke="#444" stroke-width="0.5" />
<rect x="589.04" y="373.5" width="7.66" height="7.7" fill="#f3c4b4" stroke="#444" stroke-width="0.5" />
<rect x="596.7" y="373.5" width="7.66" height="7.7" fill="#f09c8e" stroke="#444" stroke-width="0.5" />
<rect x="604.36" y="373.5" width="7.66" height="7.7" fill="#ee8474" stroke="#444" stroke-width="0.5" />
<rect x="612.02" y="373.5" width="7.66" height="7.7" fill="#ea6c5c" stroke="#444" stroke-width="0.5" />
<rect x="619.68" y="373.5" width="7.66" height="7.7" fill="#e84c52" stroke="#444" stroke-width="0.5" />
<rect x="627.34" y="373.5" width="7.66" height="7.7" fill="#e83e42" stroke="#444" stroke-width="0.5" />
<rect x="558.4" y="294.2" width="76.6" height="76.6" fill="#fbfbfb" />
<rect x="627.34" y="294.2" width="7.66" height="7.66" fill="#e83a3e" />
<rect x="619.68" y="301.86" width="7.66" height="7.66" fill="#e84444" />
<rect x="612.02" y="309.52" width="7.66" height="7.66" fill="#e85555" />
<rect x="604.36" y="317.18" width="7.66" height="7.66" fill="#ea7474" />
<rect x="596.7" y="324.84" width="7.66" height="7.66" fill="#ee9a94" />
<rect x="589.04" y="332.5" width="7.66" height="7.66" fill="#f2b8b0" />
<rect x="581.38" y="340.16" width="7.66" height="7.66" fill="#f0c8c0" />
<rect x="573.72" y="347.82" width="7.66" height="7.66" fill="#cfbcc0" />
<rect x="566.06" y="355.48" width="7.66" height="7.66" fill="#a7b0bd" />
<rect x="558.4" y="363.14" width="7.66" height="7.66" fill="#7896aa" />
<rect x="627.34" y="363.14" width="7.66" height="7.66" fill="#d9ec3c" />
<path d="M566.06,294.2v76.6M558.4,301.86h76.6M573.72,294.2v76.6M558.4,309.52h76.6M581.38,294.2v76.6M558.4,317.18h76.6M589.04,294.2v76.6M558.4,324.84h76.6M596.7,294.2v76.6M558.4,332.5h76.6M604.36,294.2v76.6M558.4,340.16h76.6M612.02,294.2v76.6M558.4,347.82h76.6M619.68,294.2v76.6M558.4,355.48h76.6M627.34,294.2v76.6M558.4,363.14h76.6" stroke="#8a8a8a" stroke-width="0.6" fill="none"/>
<rect x="558.4" y="294.2" width="76.6" height="76.6" fill="none" stroke="#444" stroke-width="0.9" />
<text x="541.9" y="332.7" font-size="9.8" text-anchor="middle" textLength="29" lengthAdjust="spacingAndGlyphs" transform="rotate(-90 541.9 332.7)">Drug 2</text>
<text x="598.9" y="390.5" font-size="9.8" text-anchor="middle" textLength="29.5" lengthAdjust="spacingAndGlyphs">Drug 1</text>
<rect x="640" y="294.2" width="5" height="31.5" fill="url(#cbar)" stroke="#555" stroke-width="0.4" />
<text x="646.4" y="300.8" font-size="9.8" textLength="25.2" lengthAdjust="spacingAndGlyphs">100%</text>
<text x="646.4" y="325.8" font-size="9.8" textLength="14.7" lengthAdjust="spacingAndGlyphs">0%</text>
<text x="318.1" y="49" font-size="9.8" textLength="46" lengthAdjust="spacingAndGlyphs">Cell Death</text>
<text x="638.6" y="48.5" font-size="9.8" textLength="46" lengthAdjust="spacingAndGlyphs">Cell Death</text>
<text x="229.9" y="30.7" font-size="9.8" textLength="93.8" lengthAdjust="spacingAndGlyphs">30 index 'features' +</text>
<text x="232.9" y="41.4" font-size="9.8" textLength="85.9" lengthAdjust="spacingAndGlyphs">1 outcome variable</text>
<text x="567.4" y="32.3" font-size="9.8" textLength="60.2" lengthAdjust="spacingAndGlyphs">index-specific</text>
<text x="583.3" y="42.5" font-size="9.8" textLength="26" lengthAdjust="spacingAndGlyphs">model</text>
<text x="353.1" y="7.5" font-size="9" font-weight="bold" fill="#111" textLength="171.4" lengthAdjust="spacingAndGlyphs">Ensemble machine learning model</text>
<rect x="275.9" y="268.8" width="3" height="3" fill="#111" />
<rect x="275.9" y="278" width="3" height="3" fill="#111" />
<rect x="597.6" y="268.8" width="3" height="3" fill="#111" />
<rect x="597.6" y="278" width="3" height="3" fill="#111" />
<path d="M334.5,89.9 H524 L534.8,96.8 L524,103.7 H334.5 Z" fill="url(#arr)"/>
<circle cx="387.4" cy="96.8" r="3.9" fill="#9a9a9a"/>
<circle cx="478.3" cy="96.8" r="3.9" fill="#9a9a9a"/>
<path d="M334.5,204 H524 L534.8,210.9 L524,217.8 H334.5 Z" fill="url(#arr)"/>
<circle cx="387.4" cy="210.9" r="3.9" fill="#9a9a9a"/>
<circle cx="478.3" cy="210.9" r="3.9" fill="#9a9a9a"/>
<path d="M334.5,331.7 H524 L534.8,338.6 L524,345.5 H334.5 Z" fill="url(#arr)"/>
<circle cx="387.4" cy="338.6" r="3.9" fill="#9a9a9a"/>
<circle cx="478.3" cy="338.6" r="3.9" fill="#9a9a9a"/>
<line x1="387.4" y1="96.8" x2="347.3" y2="132" stroke="#444" stroke-width="0.85" stroke-dasharray="1.2,1.2"/>
<line x1="387.4" y1="96.8" x2="427.6" y2="132" stroke="#444" stroke-width="0.85" stroke-dasharray="1.2,1.2"/>
<line x1="478.3" y1="96.8" x2="438.8" y2="132" stroke="#444" stroke-width="0.85" stroke-dasharray="1.2,1.2"/>
<line x1="478.3" y1="96.8" x2="518.5" y2="132" stroke="#444" stroke-width="0.85" stroke-dasharray="1.2,1.2"/>
<circle cx="387.4" cy="96.8" r="3.9" fill="#9a9a9a"/>
<circle cx="478.3" cy="96.8" r="3.9" fill="#9a9a9a"/>
<path d="M392.4,129.4 L392.33,130.52 L390.56,131.21 L390.27,132.08 L391.25,133.7 L390.62,134.64 L388.75,134.35 L388.06,134.95 L388.1,136.85 L387.09,137.35 L385.61,136.16 L384.71,136.34 L383.8,138 L382.68,137.93 L381.99,136.16 L381.12,135.87 L379.5,136.85 L378.56,136.22 L378.85,134.35 L378.25,133.66 L376.35,133.7 L375.85,132.69 L377.04,131.21 L376.86,130.31 L375.2,129.4 L375.27,128.28 L377.04,127.59 L377.33,126.72 L376.35,125.1 L376.98,124.16 L378.85,124.45 L379.54,123.85 L379.5,121.95 L380.51,121.45 L381.99,122.64 L382.89,122.46 L383.8,120.8 L384.92,120.87 L385.61,122.64 L386.48,122.93 L388.1,121.95 L389.04,122.58 L388.75,124.45 L389.35,125.14 L391.25,125.1 L391.75,126.11 L390.56,127.59 L390.74,128.49Z M380.8,129.4 a3,3 0 1,0 6,0 a3,3 0 1,0 -6,0Z" fill="#6b6b6b" fill-rule="evenodd"/>
<path d="M399.3,138.9 L399.23,139.73 L397.99,140.2 L397.74,140.81 L398.29,142.02 L397.75,142.65 L396.47,142.3 L395.91,142.64 L395.64,143.94 L394.83,144.13 L394,143.1 L393.34,143.05 L392.36,143.94 L391.59,143.62 L391.53,142.3 L391.03,141.87 L389.71,142.02 L389.28,141.31 L390.01,140.2 L389.85,139.56 L388.7,138.9 L388.77,138.07 L390.01,137.6 L390.26,136.99 L389.71,135.78 L390.25,135.15 L391.53,135.5 L392.09,135.16 L392.36,133.86 L393.17,133.67 L394,134.7 L394.66,134.75 L395.64,133.86 L396.41,134.18 L396.47,135.5 L396.97,135.93 L398.29,135.78 L398.72,136.49 L397.99,137.6 L398.15,138.24Z M392.2,138.9 a1.8,1.8 0 1,0 3.6,0 a1.8,1.8 0 1,0 -3.6,0Z" fill="#6b6b6b" fill-rule="evenodd"/>
<path d="M396.8,122.4 L396.74,123.04 L395.9,123.39 L395.66,123.84 L395.83,124.73 L395.33,125.14 L394.49,124.8 L394.01,124.95 L393.5,125.7 L392.86,125.64 L392.51,124.8 L392.06,124.56 L391.17,124.73 L390.76,124.23 L391.1,123.39 L390.95,122.91 L390.2,122.4 L390.26,121.76 L391.1,121.41 L391.34,120.96 L391.17,120.07 L391.67,119.66 L392.51,120 L392.99,119.85 L393.5,119.1 L394.14,119.16 L394.49,120 L394.94,120.24 L395.83,120.07 L396.24,120.57 L395.9,121.41 L396.05,121.89Z M392.2,122.4 a1.3,1.3 0 1,0 2.6,0 a1.3,1.3 0 1,0 -2.6,0Z" fill="#6b6b6b" fill-rule="evenodd"/>
<path d="M364.3,131.5 A21.8,21.8 0 0,0 406.6,137.5" fill="none" stroke="#444" stroke-width="0.9" stroke-dasharray="1,1"/>
<path d="M406.6,127.6 L409.8,136.0 L406.6,134.4 L403.3,136.4 Z" fill="#444"/>
<line x1="477.4" y1="118.1" x2="468" y2="128.6" stroke="#333" stroke-width="1" />
<line x1="477.4" y1="118.1" x2="487" y2="128.6" stroke="#333" stroke-width="1" />
<line x1="487" y1="128.6" x2="477.9" y2="139.6" stroke="#333" stroke-width="1" />
<line x1="487" y1="128.6" x2="497" y2="139.6" stroke="#333" stroke-width="1" />
<circle cx="477.4" cy="118.1" r="3.8" fill="#9dc6c8" stroke="#444" stroke-width="0.5"/>
<circle cx="468" cy="128.6" r="3.8" fill="#9dc6c8" stroke="#444" stroke-width="0.5"/>
<circle cx="487" cy="128.6" r="3.8" fill="#9dc6c8" stroke="#444" stroke-width="0.5"/>
<circle cx="477.9" cy="139.6" r="3.8" fill="#9dc6c8" stroke="#444" stroke-width="0.5"/>
<circle cx="497" cy="139.6" r="3.8" fill="#9dc6c8" stroke="#444" stroke-width="0.5"/>
<text x="356.9" y="162" font-size="9.8" textLength="62" lengthAdjust="spacingAndGlyphs">Hyperparameter</text>
<text x="376.2" y="170.9" font-size="9.8" textLength="23.4" lengthAdjust="spacingAndGlyphs">tuning</text>
<text x="455.5" y="162" font-size="9.8" textLength="53.3" lengthAdjust="spacingAndGlyphs">Fit tree-based</text>
<text x="450" y="170.9" font-size="9.8" textLength="66.5" lengthAdjust="spacingAndGlyphs">regression model</text>
<rect x="386.2" y="382.4" width="7" height="7" fill="#d9ec3c" stroke="#444" stroke-width="0.5" />
<text x="397.8" y="389.1" font-size="9.8" textLength="94.4" lengthAdjust="spacingAndGlyphs">index to be predicted</text>
<rect x="29" y="432.5" width="7.5" height="7.65" fill="#e83e42" stroke="#333" stroke-width="0.6" />
<rect x="29" y="440.15" width="7.5" height="7.65" fill="#ef8a7a" stroke="#333" stroke-width="0.6" />
<rect x="29" y="447.8" width="7.5" height="7.65" fill="#a9bcc6" stroke="#333" stroke-width="0.6" />
<rect x="29" y="455.45" width="7.5" height="7.65" fill="#a9bcc6" stroke="#333" stroke-width="0.6" />
<rect x="29" y="463.1" width="7.5" height="7.65" fill="#6e93a7" stroke="#333" stroke-width="0.6" />
<rect x="29" y="470.75" width="7.5" height="7.65" fill="#6e93a7" stroke="#333" stroke-width="0.6" />
<rect x="29" y="478.4" width="7.5" height="7.65" fill="#6e93a7" stroke="#333" stroke-width="0.6" />
<rect x="29" y="486.05" width="7.5" height="7.65" fill="#6e93a7" stroke="#333" stroke-width="0.6" />
<rect x="29" y="493.7" width="7.5" height="7.65" fill="#6e93a7" stroke="#333" stroke-width="0.6" />
<rect x="29" y="501.35" width="7.5" height="7.65" fill="#6e93a7" stroke="#333" stroke-width="0.6" />
<rect x="38.9" y="511.6" width="7.65" height="7.4" fill="#6e93a7" stroke="#333" stroke-width="0.6" />
<rect x="46.55" y="511.6" width="7.65" height="7.4" fill="#6e93a7" stroke="#333" stroke-width="0.6" />
<rect x="54.2" y="511.6" width="7.65" height="7.4" fill="#6e93a7" stroke="#333" stroke-width="0.6" />
<rect x="61.85" y="511.6" width="7.65" height="7.4" fill="#6e93a7" stroke="#333" stroke-width="0.6" />
<rect x="69.5" y="511.6" width="7.65" height="7.4" fill="#6e93a7" stroke="#333" stroke-width="0.6" />
<rect x="77.15" y="511.6" width="7.65" height="7.4" fill="#6e93a7" stroke="#333" stroke-width="0.6" />
<rect x="84.8" y="511.6" width="7.65" height="7.4" fill="#6e93a7" stroke="#333" stroke-width="0.6" />
<rect x="92.45" y="511.6" width="7.65" height="7.4" fill="#6e93a7" stroke="#333" stroke-width="0.6" />
<rect x="100.1" y="511.6" width="7.65" height="7.4" fill="#6e93a7" stroke="#333" stroke-width="0.6" />
<rect x="107.75" y="511.6" width="7.65" height="7.4" fill="#6e93a7" stroke="#333" stroke-width="0.6" />
<rect x="38.9" y="432.5" width="76.5" height="76.5" fill="#f9f9f9" />
<path d="M46.55,432.5v76.5M38.9,440.15h76.5M54.2,432.5v76.5M38.9,447.8h76.5M61.85,432.5v76.5M38.9,455.45h76.5M69.5,432.5v76.5M38.9,463.1h76.5M77.15,432.5v76.5M38.9,470.75h76.5M84.8,432.5v76.5M38.9,478.4h76.5M92.45,432.5v76.5M38.9,486.05h76.5M100.1,432.5v76.5M38.9,493.7h76.5M107.75,432.5v76.5M38.9,501.35h76.5" stroke="#e0e0e0" stroke-width="0.6" fill="none"/>
<rect x="107.75" y="432.5" width="7.65" height="7.65" fill="#6e93a7" />
<rect x="100.1" y="440.15" width="7.65" height="7.65" fill="#6e93a7" />
<rect x="92.45" y="447.8" width="7.65" height="7.65" fill="#6e93a7" />
<rect x="84.8" y="455.45" width="7.65" height="7.65" fill="#6e93a7" />
<rect x="77.15" y="463.1" width="7.65" height="7.65" fill="#6e93a7" />
<rect x="69.5" y="470.75" width="7.65" height="7.65" fill="#6e93a7" />
<rect x="61.85" y="478.4" width="7.65" height="7.65" fill="#6e93a7" />
<rect x="54.2" y="486.05" width="7.65" height="7.65" fill="#6e93a7" />
<rect x="46.55" y="493.7" width="7.65" height="7.65" fill="#6e93a7" />
<rect x="38.9" y="501.35" width="7.65" height="7.65" fill="#6e93a7" />
<rect x="38.5" y="432.1" width="77.3" height="77.3" fill="none" stroke="#9a9a9a" stroke-width="1.2" />
<circle cx="42.73" cy="436.32" r="2.6" fill="#dde04a" stroke="#333" stroke-width="0.6"/>
<path d="M27.2,443.98h1.8M27.2,451.62h1.8M27.2,459.27h1.8M27.2,466.93h1.8M27.2,474.57h1.8M27.2,482.23h1.8M27.2,489.88h1.8M27.2,497.52h1.8M27.2,505.18h1.8M42.73,519v2.3M50.38,519v2.3M58.02,519v2.3M65.67,519v2.3M73.33,519v2.3M80.97,519v2.3M88.62,519v2.3M96.28,519v2.3M103.93,519v2.3M111.57,519v2.3M32.7,519v2.3M27.2,515.3h1.8M27.2,436.32h1.8" stroke="#222" stroke-width="0.85" fill="none"/>
<text x="25.7" y="439.7" font-size="8.6" text-anchor="end" fill="#666" style='font-family:"Liberation Serif", serif'>1</text>
<text x="25.7" y="518.2" font-size="8.6" text-anchor="end" fill="#666" textLength="9.2" lengthAdjust="spacingAndGlyphs" style='font-family:"Liberation Serif", serif'>11</text>
<text x="32.7" y="529" font-size="8.6" text-anchor="middle" fill="#666" style='font-family:"Liberation Serif", serif'>1</text>
<text x="116.2" y="528" font-size="8.6" text-anchor="middle" fill="#666" textLength="9.4" lengthAdjust="spacingAndGlyphs" style='font-family:"Liberation Serif", serif'>11</text>
<text x="39.2" y="532" font-size="9.8" textLength="70" lengthAdjust="spacingAndGlyphs">Feature Column</text>
<text x="24.3" y="471.8" font-size="9.8" text-anchor="middle" textLength="54.5" lengthAdjust="spacingAndGlyphs" transform="rotate(-90 24.3 471.8)">Feature Row</text>
<text x="50.8" y="424.3" font-size="9.8" textLength="51.5" lengthAdjust="spacingAndGlyphs">Model [1,2]</text>
<text x="117.4" y="429.5" font-size="9.8" textLength="8.6" lengthAdjust="spacingAndGlyphs">VI</text>
<rect x="118.4" y="433.1" width="5.2" height="25.5" fill="url(#vibar)" stroke="#555" stroke-width="0.4" />
<text x="124.7" y="438.4" font-size="9.8" textLength="12.7" lengthAdjust="spacingAndGlyphs">0.4</text>
<text x="124.7" y="457.1" font-size="9.8" textLength="12.7" lengthAdjust="spacingAndGlyphs">0.1</text>
<rect x="28.7" y="575.2" width="7.5" height="7.65" fill="#6e93a7" stroke="#333" stroke-width="0.6" />
<rect x="28.7" y="582.85" width="7.5" height="7.65" fill="#6e93a7" stroke="#333" stroke-width="0.6" />
<rect x="28.7" y="590.5" width="7.5" height="7.65" fill="#6e93a7" stroke="#333" stroke-width="0.6" />
<rect x="28.7" y="598.15" width="7.5" height="7.65" fill="#6e93a7" stroke="#333" stroke-width="0.6" />
<rect x="28.7" y="605.8" width="7.5" height="7.65" fill="#6e93a7" stroke="#333" stroke-width="0.6" />
<rect x="28.7" y="613.45" width="7.5" height="7.65" fill="#6e93a7" stroke="#333" stroke-width="0.6" />
<rect x="28.7" y="621.1" width="7.5" height="7.65" fill="#6e93a7" stroke="#333" stroke-width="0.6" />
<rect x="28.7" y="628.75" width="7.5" height="7.65" fill="#6e93a7" stroke="#333" stroke-width="0.6" />
<rect x="28.7" y="636.4" width="7.5" height="7.65" fill="#6e93a7" stroke="#333" stroke-width="0.6" />
<rect x="28.7" y="644.05" width="7.5" height="7.65" fill="#6e93a7" stroke="#333" stroke-width="0.6" />
<rect x="38.6" y="654.3" width="7.65" height="7.4" fill="#6e93a7" stroke="#333" stroke-width="0.6" />
<rect x="46.25" y="654.3" width="7.65" height="7.4" fill="#6e93a7" stroke="#333" stroke-width="0.6" />
<rect x="53.9" y="654.3" width="7.65" height="7.4" fill="#6e93a7" stroke="#333" stroke-width="0.6" />
<rect x="61.55" y="654.3" width="7.65" height="7.4" fill="#6e93a7" stroke="#333" stroke-width="0.6" />
<rect x="69.2" y="654.3" width="7.65" height="7.4" fill="#6e93a7" stroke="#333" stroke-width="0.6" />
<rect x="76.85" y="654.3" width="7.65" height="7.4" fill="#6e93a7" stroke="#333" stroke-width="0.6" />
<rect x="84.5" y="654.3" width="7.65" height="7.4" fill="#6e93a7" stroke="#333" stroke-width="0.6" />
<rect x="92.15" y="654.3" width="7.65" height="7.4" fill="#6e93a7" stroke="#333" stroke-width="0.6" />
<rect x="99.8" y="654.3" width="7.65" height="7.4" fill="#6e93a7" stroke="#333" stroke-width="0.6" />
<rect x="107.45" y="654.3" width="7.65" height="7.4" fill="#6e93a7" stroke="#333" stroke-width="0.6" />
<rect x="38.6" y="575.2" width="76.5" height="76.5" fill="#f9f9f9" />
<path d="M46.25,575.2v76.5M38.6,582.85h76.5M53.9,575.2v76.5M38.6,590.5h76.5M61.55,575.2v76.5M38.6,598.15h76.5M69.2,575.2v76.5M38.6,605.8h76.5M76.85,575.2v76.5M38.6,613.45h76.5M84.5,575.2v76.5M38.6,621.1h76.5M92.15,575.2v76.5M38.6,628.75h76.5M99.8,575.2v76.5M38.6,636.4h76.5M107.45,575.2v76.5M38.6,644.05h76.5" stroke="#e0e0e0" stroke-width="0.6" fill="none"/>
<rect x="107.45" y="575.2" width="7.65" height="7.65" fill="#6e93a7" />
<rect x="99.8" y="582.85" width="7.65" height="7.65" fill="#6e93a7" />
<rect x="92.15" y="590.5" width="7.65" height="7.65" fill="#6e93a7" />
<rect x="84.5" y="598.15" width="7.65" height="7.65" fill="#6e93a7" />
<rect x="76.85" y="605.8" width="7.65" height="7.65" fill="#e8444a" />
<rect x="69.2" y="613.45" width="7.65" height="7.65" fill="#b1c1c9" />
<rect x="61.55" y="621.1" width="7.65" height="7.65" fill="#6e93a7" />
<rect x="53.9" y="628.75" width="7.65" height="7.65" fill="#6e93a7" />
<rect x="46.25" y="636.4" width="7.65" height="7.65" fill="#6e93a7" />
<rect x="38.6" y="644.05" width="7.65" height="7.65" fill="#6e93a7" />
<rect x="38.2" y="574.8" width="77.3" height="77.3" fill="none" stroke="#9a9a9a" stroke-width="1.2" />
<circle cx="73.03" cy="609.62" r="2.6" fill="#dde04a" stroke="#333" stroke-width="0.6"/>
<path d="M26.9,586.68h1.8M26.9,594.33h1.8M26.9,601.98h1.8M26.9,609.62h1.8M26.9,617.28h1.8M26.9,624.93h1.8M26.9,632.58h1.8M26.9,640.23h1.8M26.9,647.88h1.8M42.43,661.7v2.3M50.08,661.7v2.3M57.73,661.7v2.3M65.38,661.7v2.3M73.03,661.7v2.3M80.68,661.7v2.3M88.33,661.7v2.3M95.97,661.7v2.3M103.62,661.7v2.3M111.28,661.7v2.3M32.4,661.7v2.3M26.9,658h1.8M26.9,579.03h1.8" stroke="#222" stroke-width="0.85" fill="none"/>
<text x="25.4" y="582.4" font-size="8.6" text-anchor="end" fill="#666" style='font-family:"Liberation Serif", serif'>1</text>
<text x="25.4" y="660.9" font-size="8.6" text-anchor="end" fill="#666" textLength="9.2" lengthAdjust="spacingAndGlyphs" style='font-family:"Liberation Serif", serif'>11</text>
<text x="32.4" y="671.7" font-size="8.6" text-anchor="middle" fill="#666" style='font-family:"Liberation Serif", serif'>1</text>
<text x="115.9" y="670.7" font-size="8.6" text-anchor="middle" fill="#666" textLength="9.4" lengthAdjust="spacingAndGlyphs" style='font-family:"Liberation Serif", serif'>11</text>
<text x="38.9" y="674.7" font-size="9.8" textLength="70" lengthAdjust="spacingAndGlyphs">Feature Column</text>
<text x="24" y="614.5" font-size="9.8" text-anchor="middle" textLength="54.5" lengthAdjust="spacingAndGlyphs" transform="rotate(-90 24 614.5)">Feature Row</text>
<text x="50.9" y="567" font-size="9.8" textLength="50.9" lengthAdjust="spacingAndGlyphs">Model [5,6]</text>
<text x="117.1" y="572.2" font-size="9.8" textLength="8.6" lengthAdjust="spacingAndGlyphs">VI</text>
<rect x="118.1" y="575.8" width="5.2" height="24" fill="url(#vibar)" stroke="#555" stroke-width="0.4" />
<text x="124.4" y="582.1" font-size="9.8" textLength="12.7" lengthAdjust="spacingAndGlyphs">0.6</text>
<text x="124.4" y="594.5" font-size="9.8" textLength="12.7" lengthAdjust="spacingAndGlyphs">0.4</text>
<rect x="28.7" y="720.1" width="7.5" height="7.65" fill="#6e93a7" stroke="#333" stroke-width="0.6" />
<rect x="28.7" y="727.75" width="7.5" height="7.65" fill="#6e93a7" stroke="#333" stroke-width="0.6" />
<rect x="28.7" y="735.4" width="7.5" height="7.65" fill="#6e93a7" stroke="#333" stroke-width="0.6" />
<rect x="28.7" y="743.05" width="7.5" height="7.65" fill="#6e93a7" stroke="#333" stroke-width="0.6" />
<rect x="28.7" y="750.7" width="7.5" height="7.65" fill="#6e93a7" stroke="#333" stroke-width="0.6" />
<rect x="28.7" y="758.35" width="7.5" height="7.65" fill="#6e93a7" stroke="#333" stroke-width="0.6" />
<rect x="28.7" y="766" width="7.5" height="7.65" fill="#6e93a7" stroke="#333" stroke-width="0.6" />
<rect x="28.7" y="773.65" width="7.5" height="7.65" fill="#6e93a7" stroke="#333" stroke-width="0.6" />
<rect x="28.7" y="781.3" width="7.5" height="7.65" fill="#6e93a7" stroke="#333" stroke-width="0.6" />
<rect x="28.7" y="788.95" width="7.5" height="7.65" fill="#6e93a7" stroke="#333" stroke-width="0.6" />
<rect x="38.6" y="799.2" width="7.65" height="7.4" fill="#6e93a7" stroke="#333" stroke-width="0.6" />
<rect x="46.25" y="799.2" width="7.65" height="7.4" fill="#6e93a7" stroke="#333" stroke-width="0.6" />
<rect x="53.9" y="799.2" width="7.65" height="7.4" fill="#6e93a7" stroke="#333" stroke-width="0.6" />
<rect x="61.55" y="799.2" width="7.65" height="7.4" fill="#6e93a7" stroke="#333" stroke-width="0.6" />
<rect x="69.2" y="799.2" width="7.65" height="7.4" fill="#6e93a7" stroke="#333" stroke-width="0.6" />
<rect x="76.85" y="799.2" width="7.65" height="7.4" fill="#6e93a7" stroke="#333" stroke-width="0.6" />
<rect x="84.5" y="799.2" width="7.65" height="7.4" fill="#88a2b2" stroke="#333" stroke-width="0.6" />
<rect x="92.15" y="799.2" width="7.65" height="7.4" fill="#ee7f6e" stroke="#333" stroke-width="0.6" />
<rect x="99.8" y="799.2" width="7.65" height="7.4" fill="#e83e42" stroke="#333" stroke-width="0.6" />
<rect x="107.45" y="799.2" width="7.65" height="7.4" fill="#e8464a" stroke="#333" stroke-width="0.6" />
<rect x="38.6" y="720.1" width="76.5" height="76.5" fill="#f9f9f9" />
<path d="M46.25,720.1v76.5M38.6,727.75h76.5M53.9,720.1v76.5M38.6,735.4h76.5M61.55,720.1v76.5M38.6,743.05h76.5M69.2,720.1v76.5M38.6,750.7h76.5M76.85,720.1v76.5M38.6,758.35h76.5M84.5,720.1v76.5M38.6,766h76.5M92.15,720.1v76.5M38.6,773.65h76.5M99.8,720.1v76.5M38.6,781.3h76.5M107.45,720.1v76.5M38.6,788.95h76.5" stroke="#e0e0e0" stroke-width="0.6" fill="none"/>
<rect x="107.45" y="720.1" width="7.65" height="7.65" fill="#6e93a7" />
<rect x="99.8" y="727.75" width="7.65" height="7.65" fill="#7b9bae" />
<rect x="92.15" y="735.4" width="7.65" height="7.65" fill="#8eaab8" />
<rect x="84.5" y="743.05" width="7.65" height="7.65" fill="#a8bcc6" />
<rect x="76.85" y="750.7" width="7.65" height="7.65" fill="#7e9db0" />
<rect x="69.2" y="758.35" width="7.65" height="7.65" fill="#6e93a7" />
<rect x="61.55" y="766" width="7.65" height="7.65" fill="#6e93a7" />
<rect x="53.9" y="773.65" width="7.65" height="7.65" fill="#6e93a7" />
<rect x="46.25" y="781.3" width="7.65" height="7.65" fill="#6e93a7" />
<rect x="38.6" y="788.95" width="7.65" height="7.65" fill="#6e93a7" />
<rect x="38.2" y="719.7" width="77.3" height="77.3" fill="none" stroke="#9a9a9a" stroke-width="1.2" />
<circle cx="103.62" cy="785.12" r="2.6" fill="#dde04a" stroke="#333" stroke-width="0.6"/>
<path d="M26.9,731.58h1.8M26.9,739.23h1.8M26.9,746.88h1.8M26.9,754.52h1.8M26.9,762.18h1.8M26.9,769.83h1.8M26.9,777.48h1.8M26.9,785.12h1.8M26.9,792.77h1.8M42.43,806.6v2.3M50.08,806.6v2.3M57.73,806.6v2.3M65.38,806.6v2.3M73.03,806.6v2.3M80.68,806.6v2.3M88.33,806.6v2.3M95.97,806.6v2.3M103.62,806.6v2.3M111.28,806.6v2.3M32.4,806.6v2.3M26.9,802.9h1.8M26.9,723.93h1.8" stroke="#222" stroke-width="0.85" fill="none"/>
<text x="25.4" y="727.3" font-size="8.6" text-anchor="end" fill="#666" style='font-family:"Liberation Serif", serif'>1</text>
<text x="25.4" y="805.8" font-size="8.6" text-anchor="end" fill="#666" textLength="9.2" lengthAdjust="spacingAndGlyphs" style='font-family:"Liberation Serif", serif'>11</text>
<text x="32.4" y="816.6" font-size="8.6" text-anchor="middle" fill="#666" style='font-family:"Liberation Serif", serif'>1</text>
<text x="115.9" y="815.6" font-size="8.6" text-anchor="middle" fill="#666" textLength="9.4" lengthAdjust="spacingAndGlyphs" style='font-family:"Liberation Serif", serif'>11</text>
<text x="38.9" y="819.6" font-size="9.8" textLength="70" lengthAdjust="spacingAndGlyphs">Feature Column</text>
<text x="24" y="759.4" font-size="9.8" text-anchor="middle" textLength="54.5" lengthAdjust="spacingAndGlyphs" transform="rotate(-90 24 759.4)">Feature Row</text>
<text x="48.4" y="711.9" font-size="9.8" textLength="57.1" lengthAdjust="spacingAndGlyphs">Model [9,10]</text>
<text x="117.1" y="717.1" font-size="9.8" textLength="8.6" lengthAdjust="spacingAndGlyphs">VI</text>
<rect x="118.1" y="720.7" width="5.2" height="21.6" fill="url(#vibar)" stroke="#555" stroke-width="0.4" />
<text x="124.4" y="730.8" font-size="9.8" textLength="12.7" lengthAdjust="spacingAndGlyphs">0.2</text>
<text x="124.4" y="738.8" font-size="9.8" textLength="12.7" lengthAdjust="spacingAndGlyphs">0.1</text>
<rect x="381.1" y="575.5" width="7.5" height="7.65" fill="#6e93a7" stroke="#333" stroke-width="0.6" />
<rect x="381.1" y="583.15" width="7.5" height="7.65" fill="#6e93a7" stroke="#333" stroke-width="0.6" />
<rect x="381.1" y="590.8" width="7.5" height="7.65" fill="#6e93a7" stroke="#333" stroke-width="0.6" />
<rect x="381.1" y="598.45" width="7.5" height="7.65" fill="#6e93a7" stroke="#333" stroke-width="0.6" />
<rect x="381.1" y="606.1" width="7.5" height="7.65" fill="#6e93a7" stroke="#333" stroke-width="0.6" />
<rect x="381.1" y="613.75" width="7.5" height="7.65" fill="#6e93a7" stroke="#333" stroke-width="0.6" />
<rect x="381.1" y="621.4" width="7.5" height="7.65" fill="#6e93a7" stroke="#333" stroke-width="0.6" />
<rect x="381.1" y="629.05" width="7.5" height="7.65" fill="#6e93a7" stroke="#333" stroke-width="0.6" />
<rect x="381.1" y="636.7" width="7.5" height="7.65" fill="#6e93a7" stroke="#333" stroke-width="0.6" />
<rect x="381.1" y="644.35" width="7.5" height="7.65" fill="#6e93a7" stroke="#333" stroke-width="0.6" />
<rect x="391" y="654.6" width="7.65" height="7.4" fill="#6e93a7" stroke="#333" stroke-width="0.6" />
<rect x="398.65" y="654.6" width="7.65" height="7.4" fill="#6e93a7" stroke="#333" stroke-width="0.6" />
<rect x="406.3" y="654.6" width="7.65" height="7.4" fill="#6e93a7" stroke="#333" stroke-width="0.6" />
<rect x="413.95" y="654.6" width="7.65" height="7.4" fill="#6e93a7" stroke="#333" stroke-width="0.6" />
<rect x="421.6" y="654.6" width="7.65" height="7.4" fill="#6e93a7" stroke="#333" stroke-width="0.6" />
<rect x="429.25" y="654.6" width="7.65" height="7.4" fill="#6e93a7" stroke="#333" stroke-width="0.6" />
<rect x="436.9" y="654.6" width="7.65" height="7.4" fill="#6e93a7" stroke="#333" stroke-width="0.6" />
<rect x="444.55" y="654.6" width="7.65" height="7.4" fill="#6e93a7" stroke="#333" stroke-width="0.6" />
<rect x="452.2" y="654.6" width="7.65" height="7.4" fill="#6e93a7" stroke="#333" stroke-width="0.6" />
<rect x="459.85" y="654.6" width="7.65" height="7.4" fill="#6e93a7" stroke="#333" stroke-width="0.6" />
<rect x="391" y="575.5" width="76.5" height="76.5" fill="#f9f9f9" />
<path d="M398.65,575.5v76.5M391,583.15h76.5M406.3,575.5v76.5M391,590.8h76.5M413.95,575.5v76.5M391,598.45h76.5M421.6,575.5v76.5M391,606.1h76.5M429.25,575.5v76.5M391,613.75h76.5M436.9,575.5v76.5M391,621.4h76.5M444.55,575.5v76.5M391,629.05h76.5M452.2,575.5v76.5M391,636.7h76.5M459.85,575.5v76.5M391,644.35h76.5" stroke="#e0e0e0" stroke-width="0.6" fill="none"/>
<rect x="459.85" y="575.5" width="7.65" height="7.65" fill="#6e93a7" />
<rect x="452.2" y="583.15" width="7.65" height="7.65" fill="#6e93a7" />
<rect x="444.55" y="590.8" width="7.65" height="7.65" fill="#a3b7c2" />
<rect x="436.9" y="598.45" width="7.65" height="7.65" fill="#e8444a" />
<rect x="429.25" y="606.1" width="7.65" height="7.65" fill="#f08273" />
<rect x="421.6" y="613.75" width="7.65" height="7.65" fill="#6e93a7" />
<rect x="413.95" y="621.4" width="7.65" height="7.65" fill="#6e93a7" />
<rect x="406.3" y="629.05" width="7.65" height="7.65" fill="#6e93a7" />
<rect x="398.65" y="636.7" width="7.65" height="7.65" fill="#6e93a7" />
<rect x="391" y="644.35" width="7.65" height="7.65" fill="#6e93a7" />
<rect x="390.6" y="575.1" width="77.3" height="77.3" fill="none" stroke="#9a9a9a" stroke-width="1.2" />
<circle cx="425.43" cy="602.27" r="2.6" fill="#dde04a" stroke="#333" stroke-width="0.6"/>
<path d="M379.3,586.98h1.8M379.3,594.62h1.8M379.3,602.27h1.8M379.3,609.92h1.8M379.3,617.58h1.8M379.3,625.23h1.8M379.3,632.88h1.8M379.3,640.52h1.8M379.3,648.17h1.8M394.82,662v2.3M402.48,662v2.3M410.12,662v2.3M417.77,662v2.3M425.43,662v2.3M433.07,662v2.3M440.73,662v2.3M448.38,662v2.3M456.02,662v2.3M463.68,662v2.3M384.8,662v2.3M379.3,658.3h1.8M379.3,579.33h1.8" stroke="#222" stroke-width="0.85" fill="none"/>
<text x="377.8" y="582.7" font-size="8.6" text-anchor="end" fill="#666" style='font-family:"Liberation Serif", serif'>1</text>
<text x="377.8" y="661.2" font-size="8.6" text-anchor="end" fill="#666" textLength="9.2" lengthAdjust="spacingAndGlyphs" style='font-family:"Liberation Serif", serif'>11</text>
<text x="384.8" y="672" font-size="8.6" text-anchor="middle" fill="#666" style='font-family:"Liberation Serif", serif'>1</text>
<text x="468.3" y="671" font-size="8.6" text-anchor="middle" fill="#666" textLength="9.4" lengthAdjust="spacingAndGlyphs" style='font-family:"Liberation Serif", serif'>11</text>
<text x="391.3" y="675" font-size="9.8" textLength="70" lengthAdjust="spacingAndGlyphs">Feature Column</text>
<text x="376.4" y="614.8" font-size="9.8" text-anchor="middle" textLength="54.5" lengthAdjust="spacingAndGlyphs" transform="rotate(-90 376.4 614.8)">Feature Row</text>
<text x="402.7" y="567.3" font-size="9.8" textLength="50.7" lengthAdjust="spacingAndGlyphs">Model [4,6]</text>
<text x="469.1" y="572.5" font-size="9.8" textLength="8.6" lengthAdjust="spacingAndGlyphs">VI</text>
<rect x="470.1" y="576.1" width="5.2" height="23.5" fill="url(#vibar)" stroke="#555" stroke-width="0.4" />
<text x="476.4" y="581" font-size="9.8" textLength="12.7" lengthAdjust="spacingAndGlyphs">0.5</text>
<text x="476.4" y="598.3" font-size="9.8" textLength="12.7" lengthAdjust="spacingAndGlyphs">0.1</text>
<rect x="421.6" y="599" width="23" height="7.65" fill="none" stroke="#111" stroke-width="1.1" />
<line x1="421.6" y1="606.65" x2="454" y2="646.2" stroke="#111" stroke-width="1.2" />
<line x1="444.6" y1="599" x2="508.4" y2="628.8" stroke="#111" stroke-width="1.2" />
<rect x="454" y="628.8" width="54.4" height="17.4" fill="#fafafa" stroke="#111" stroke-width="1.2" />
<line x1="472.7" y1="629.5" x2="472.7" y2="645.5" stroke="#ccc" stroke-width="0.6" stroke-dasharray="1,1"/>
<rect x="490.3" y="628.8" width="18.1" height="17.4" fill="#e8444a" stroke="#111" stroke-width="1.2" />
<circle cx="463.2" cy="637.4" r="5.3" fill="#dfe55a" stroke="#111" stroke-width="1.3"/>
<line x1="463.5" y1="637.4" x2="495" y2="637.4" stroke="#111" stroke-width="1" />
<path d="M500.6,637.4 L493.5,635.0 L493.5,639.8 Z" fill="#111"/>
<text x="470.1" y="656" font-size="8.6" fill="#222" textLength="23.6" lengthAdjust="spacingAndGlyphs"><tspan font-style="italic">d</tspan> = 2</text>
<path d="M197.6,426V511M222.6,426V511M247.5,426V511M272.5,426V511M297.4,426V511M322.4,426V511M178,430.5H331M178,442.5H331M178,454.5H331M178,466.5H331M178,478.5H331M178,490.5H331M178,502.5H331" stroke="#ebebeb" stroke-width="0.6" fill="none"/>
<path d="M249.29 467.25h0M250.12 473.08h0M206.24 502.41h0M203.53 504.36h0M210.1 495.41h0M295.89 437.44h0M266.09 462.67h0M206.45 494.64h0M213.17 492.14h0M245.72 470.78h0M273.94 460.85h0M272.97 459.76h0M316.2 427.66h0M217.15 496.3h0M213.97 492.22h0M291.88 453.82h0M306.44 434.18h0M297.41 454.06h0M234.72 477.98h0M280.34 452.98h0M231.81 480.15h0M300.45 438.54h0M200.37 500.07h0M245.93 475.96h0M209.09 491.49h0M205.05 493.59h0M203.1 491.75h0M230.23 484.26h0M204.71 494.55h0M212.43 498.35h0M202.95 498.75h0M214.04 496.33h0M207.16 496.5h0M246.1 467.65h0M290.26 446.23h0M298.7 439.5h0M299.12 444.36h0M209.19 492.95h0M296.07 439.08h0M235.64 483.48h0M212.09 493.31h0M229.01 477.07h0M269.21 456.42h0M202.56 493.54h0M258.05 468.72h0M294.47 444.04h0M221.47 487.42h0M201.88 503.64h0M204.29 494.46h0M305.37 438.46h0M275.89 454.72h0M211.41 493.33h0M298.51 442.04h0M273.54 457.3h0M292.63 440.67h0M300.54 435.05h0M292.14 443.16h0M226.25 494.26h0M301.33 443.3h0M302.08 443.83h0M271.25 463.22h0M207.89 499.17h0M303.85 443.27h0M254.54 472.22h0M294.52 438.18h0M207.4 493.1h0M239.42 478.93h0M283.6 455.47h0M212.8 495.36h0M201.8 493.98h0M294.22 448.24h0M293.62 439.27h0M205.19 494.73h0M285.98 453.52h0M215.29 488.18h0M257.59 462.58h0M290.36 447.16h0M240.77 474.03h0M204.97 501.52h0M229.32 486.91h0M295.33 443.26h0M210.92 488.12h0M269.56 457.54h0M300.35 440.46h0M233.27 479.57h0M200.21 503.65h0M272.72 461.53h0M291.56 439.85h0M205.76 499.24h0M199.74 507.76h0M203.13 498.02h0M226.49 490.88h0M296.43 448.92h0M303.43 430.55h0M304.04 435.34h0M283.36 447.58h0M249.56 465.82h0M290.66 452.49h0M208.96 494.29h0M291.9 450.99h0M211.27 482.81h0M256.21 468.68h0M230.73 480.18h0M205.32 500.92h0M255.53 468.68h0M297.5 435.51h0M203.94 495.74h0M299.38 439.47h0M254.19 465.04h0M290.31 457h0M202.47 499.1h0M241.22 477.07h0M257.79 472.26h0M241.86 481.85h0M304.6 436.05h0M307.74 441.7h0M206.55 497.95h0M250.65 459.68h0M244.52 472.37h0M291.51 447.92h0M263.98 466.8h0M296.03 440.37h0M236.33 480.75h0M256.95 462.94h0M216.39 494h0M283.71 445.72h0M202.11 494.48h0M226.28 486.98h0M264.88 458.51h0M302.1 436.17h0M216.52 495.55h0M244.91 474.91h0M237.31 476.94h0M274.63 450.5h0M289.14 452.81h0M227.36 481.25h0M218.86 498.14h0M301.31 425.41h0M300.11 438.56h0M297.25 440.69h0M288.86 444.13h0M204.82 498.47h0M208.45 496.71h0M300.06 441.31h0M255.23 474.24h0M200.51 500.86h0M200.08 505.8h0M265.83 463.09h0M202.24 492.84h0M283.3 449.74h0M298.51 448.78h0M221.89 486.21h0M245.41 474.31h0M296.87 441.34h0M254.67 470.4h0M238.37 475.43h0M211.18 490h0M294.34 452.34h0M271.76 461.95h0M293.59 443.69h0M293.41 445.16h0M287.88 455.64h0M303.93 441.01h0M288.59 453.38h0M204.03 494.88h0M232.85 485h0M267.8 455.58h0M294.89 447.3h0M275.54 459.72h0M296.27 447.27h0M290.75 445.6h0M279.43 453.42h0M220.59 486.05h0M235.48 478.86h0M230.65 487.39h0M185.62 489.3h0M324.35 447.3h0M284.43 465.3h0M237.52 497.7h0M217.56 499.5h0M192.61 504.3h0M307.38 434.7h0M312.37 435.3h0" stroke="#000" stroke-width="3.1" stroke-linecap="round" fill="none"/>
<line x1="184.4" y1="508.6" x2="324" y2="428.3" stroke="#3a9a2c" stroke-width="1.7" />
<text x="197.6" y="519.9" font-size="7.7" text-anchor="middle" fill="#6e6e6e" textLength="4.75" lengthAdjust="spacingAndGlyphs">0</text>
<text x="247.5" y="519.9" font-size="7.7" text-anchor="middle" fill="#6e6e6e" textLength="9.5" lengthAdjust="spacingAndGlyphs">50</text>
<text x="297.4" y="519.9" font-size="7.7" text-anchor="middle" fill="#6e6e6e" textLength="14.25" lengthAdjust="spacingAndGlyphs">100</text>
<text x="176.4" y="433.2" font-size="7.7" text-anchor="end" fill="#6e6e6e" textLength="14.25" lengthAdjust="spacingAndGlyphs">120</text>
<text x="176.4" y="457.2" font-size="7.7" text-anchor="end" fill="#6e6e6e" textLength="9.5" lengthAdjust="spacingAndGlyphs">80</text>
<text x="176.4" y="481.2" font-size="7.7" text-anchor="end" fill="#6e6e6e" textLength="9.5" lengthAdjust="spacingAndGlyphs">40</text>
<text x="176.4" y="505.2" font-size="7.7" text-anchor="end" fill="#6e6e6e" textLength="4.75" lengthAdjust="spacingAndGlyphs">0</text>
<text x="215" y="423.4" font-size="9.8" textLength="87.6" lengthAdjust="spacingAndGlyphs">Model [1,2], n=184</text>
<text x="177.4" y="440.1" font-size="9.3" fill="#222" textLength="37.6" lengthAdjust="spacingAndGlyphs"><tspan font-style="italic">r</tspan> = 0.98</text>
<text x="199.3" y="529.9" font-size="9.8" textLength="106.5" lengthAdjust="spacingAndGlyphs">%Cell Death (observed)</text>
<text x="153.7" y="473.9" font-size="9.8" text-anchor="middle" textLength="54.8" lengthAdjust="spacingAndGlyphs" transform="rotate(-90 153.7 473.9)">%Cell Death</text>
<text x="165" y="471.7" font-size="9.8" text-anchor="middle" textLength="49.4" lengthAdjust="spacingAndGlyphs" transform="rotate(-90 165 471.7)">(predicted)</text>
<path d="M197.5,567V656M223.6,567V656M249.75,567V656M275.9,567V656M302,567V656M328.1,567V656M178,572.1H331M178,584.9H331M178,597.7H331M178,610.5H331M178,623.3H331M178,636.1H331M178,648.9H331" stroke="#ebebeb" stroke-width="0.6" fill="none"/>
<path d="M254.69 614.59h0M204.68 645.73h0M230.11 630.19h0M254.81 617.04h0M205.57 641.04h0M210.71 636.07h0M208.92 643.26h0M307 580.94h0M302.24 585.87h0M301.86 583.8h0M238.31 624.32h0M226.16 629.3h0M201.92 642.81h0M297.14 586.31h0M276.88 600.76h0M302.95 577.46h0M273.99 603.48h0M255.71 613.83h0M220.77 635.77h0M259.47 611.56h0M302 587.7h0M222.1 632.52h0M258.27 609.09h0M209.04 639.89h0M203.35 647.35h0M205.83 640.77h0M203.42 651.67h0M264.04 607.19h0M212.15 641.02h0M304.8 582.93h0M229.28 629.59h0M218.22 635.48h0M289.07 592.78h0M300.74 585.69h0M229.63 627.42h0M224.19 635.73h0M253.73 614.95h0M315.87 575.29h0M306.06 583.5h0M255.89 607.09h0M303.05 582.21h0M227.46 631.02h0M299.13 588.33h0M264.78 606.78h0M253.66 608.77h0M294.91 592.2h0M305.79 581.76h0M220.88 637.85h0M301.02 585.69h0M310.46 582.32h0M308.02 582.9h0M300.1 585.26h0M219.7 631.72h0M253.58 616.13h0M206.85 643.96h0M221.68 636.53h0M227.5 629.83h0M227.72 629.53h0M294.76 594.37h0M235.01 628.69h0M208.66 641.86h0M218.16 639.12h0M204.48 639.19h0M217.38 638.37h0M303.67 587.84h0M205.9 643.78h0M285.68 594.89h0M308.38 580.09h0M257.94 613.49h0M255.19 617.13h0M255.42 619.3h0M228.48 631.25h0M243.71 617.89h0M202.66 647.62h0M210.51 641.47h0M232.74 629.38h0M298.68 585.13h0M208.3 643.64h0M294.18 592.51h0M253.44 614.85h0M246.13 616.51h0M259.38 610.16h0M233.47 625.35h0M235.73 622.82h0M291.95 593.69h0M216.04 634.31h0M303.97 585.22h0M306.88 581.57h0M201.91 644.09h0M217.15 633.39h0M203.83 642.76h0M208.9 644.59h0M248.13 621.55h0M300.56 589.42h0M253.95 614.45h0M247.08 622.57h0M232.5 627.89h0M260.9 612.42h0M275.68 606.98h0M253.13 614.71h0M200.44 651.99h0M200.73 646.61h0M215.54 637.74h0M280.23 591.88h0M298.87 586.24h0M232.53 627.64h0M240.55 622.42h0M243.98 623.12h0M215 643.14h0M293.17 589.74h0M243.42 626.71h0M295.09 591.37h0M202.69 649.84h0M303.03 584.16h0M261.11 612.27h0M298.23 587.05h0M278.31 600.61h0M253.27 613.33h0M206.94 639.08h0M221.92 635.19h0M209.6 642.55h0M252.76 616.22h0M274.52 602.61h0M307.01 583.3h0M239.5 620.53h0M240.5 623.64h0M232.78 625.09h0M220.12 636.46h0M254.38 616.22h0M208.71 640.47h0M304.59 579.49h0M205.54 644.23h0M230.76 628.35h0M280.74 596.24h0M276.93 597.51h0M300.38 588.12h0M228.12 628.34h0M302.48 581.49h0M293.53 590.12h0M282.59 598.13h0M211.69 638.48h0M290.41 587.74h0M308.35 577.04h0M243.93 620.62h0M200.28 644.56h0M203.76 644.35h0M304.46 585.56h0M287.85 591.53h0M202.69 642.13h0M292.31 593.25h0M211.96 640.48h0M292.36 592.25h0M224.33 631.45h0M269.88 605.25h0M306.39 585.32h0M234.75 628.5h0M236.51 624.92h0M294.69 589.83h0M307.77 583.32h0M260.63 614.06h0M210.41 637.05h0M253.59 612.75h0M259.14 611.26h0M292.16 591.6h0M286.32 595.93h0M214.89 640.22h0M200.17 645.87h0M268.65 605.54h0M298.49 587.38h0M312.12 584.14h0M221.59 635.26h0M282.28 598.75h0M306.29 586.09h0M228.97 631.06h0M208.04 641.81h0M215.14 640.74h0M184.96 643.78h0M212.13 617.54h0M270.65 591.3h0M317.68 596.42h0M200.63 636.1h0M194.37 647.62h0M320.81 576.58h0M314.54 576.58h0" stroke="#000" stroke-width="3.1" stroke-linecap="round" fill="none"/>
<line x1="183.8" y1="653.9" x2="323.4" y2="575.6" stroke="#3a9a2c" stroke-width="1.7" />
<text x="197.5" y="664.1" font-size="7.7" text-anchor="middle" fill="#6e6e6e" textLength="4.75" lengthAdjust="spacingAndGlyphs">0</text>
<text x="249.75" y="664.1" font-size="7.7" text-anchor="middle" fill="#6e6e6e" textLength="9.5" lengthAdjust="spacingAndGlyphs">50</text>
<text x="302" y="664.1" font-size="7.7" text-anchor="middle" fill="#6e6e6e" textLength="14.25" lengthAdjust="spacingAndGlyphs">100</text>
<text x="175.8" y="574.9" font-size="7.7" text-anchor="end" fill="#6e6e6e" textLength="14.25" lengthAdjust="spacingAndGlyphs">120</text>
<text x="175.8" y="600.1" font-size="7.7" text-anchor="end" fill="#6e6e6e" textLength="9.5" lengthAdjust="spacingAndGlyphs">80</text>
<text x="175.8" y="626.3" font-size="7.7" text-anchor="end" fill="#6e6e6e" textLength="9.5" lengthAdjust="spacingAndGlyphs">40</text>
<text x="175.8" y="651.5" font-size="7.7" text-anchor="end" fill="#6e6e6e" textLength="4.75" lengthAdjust="spacingAndGlyphs">0</text>
<text x="214.5" y="567.7" font-size="9.8" textLength="87.5" lengthAdjust="spacingAndGlyphs">Model [5,6], n=184</text>
<text x="180.3" y="579.9" font-size="9.3" fill="#222" textLength="37.6" lengthAdjust="spacingAndGlyphs"><tspan font-style="italic">r</tspan> = 0.99</text>
<text x="199.3" y="672.8" font-size="9.8" textLength="106.5" lengthAdjust="spacingAndGlyphs">%Cell Death (observed)</text>
<text x="154" y="615.3" font-size="9.8" text-anchor="middle" textLength="54.8" lengthAdjust="spacingAndGlyphs" transform="rotate(-90 154 615.3)">%Cell Death</text>
<text x="165.3" y="613.4" font-size="9.8" text-anchor="middle" textLength="49.4" lengthAdjust="spacingAndGlyphs" transform="rotate(-90 165.3 613.4)">(predicted)</text>
<path d="M190.4,713V803M213.9,713V803M236.9,713V803M258.5,713V803M281.2,713V803M303.7,713V803M326.5,713V803M178,721.5H331M178,733.9H331M178,746.3H331M178,758.7H331M178,771.1H331M178,783.5H331M178,795.9H331" stroke="#ebebeb" stroke-width="0.6" fill="none"/>
<path d="M222.7 781.74h0M195.36 801.08h0M195.28 793.09h0M237.35 772.67h0M216.85 777.92h0M196.04 797.86h0M204.97 784.55h0M294.21 740.02h0M289.42 742.61h0M256.07 751.11h0M275.94 752.72h0M209.6 781.43h0M310.42 743.87h0M279.24 747.72h0M276.3 751.78h0M194.94 796.54h0M250.9 763.44h0M234.48 775.17h0M211.38 783.99h0M232.49 779.54h0M254.82 770.21h0M308.28 731.39h0M309.66 736.99h0M198.1 784.77h0M295.16 736.49h0M254.74 752.15h0M206.46 792.76h0M201.16 794.19h0M280.22 751.93h0M213.71 777.14h0M202.16 786.62h0M201.55 787.32h0M248.75 759.24h0M209.03 784.24h0M206.86 783.77h0M220.67 776.47h0M198.95 796.78h0M196.92 785.41h0M263.5 761.41h0M272.41 751.92h0M199.42 784.18h0M222.67 782.18h0M304.45 727.96h0M212.53 784.3h0M207.77 783.07h0M232.96 772.26h0M203.51 794.71h0M199.11 794.73h0M216.93 782.61h0M204.85 781.09h0M196.45 786.61h0M231.11 770.53h0M260.27 754.72h0M312.46 728.28h0M203.95 792.52h0M234.3 763.04h0M195.63 790.87h0M242.81 769.24h0M225.38 774.99h0M289.35 735.05h0M261.79 762.73h0M286.81 741.41h0M307.48 730.84h0M258.06 762.93h0M303.78 735.09h0M192.36 792.52h0M312.77 725.07h0M316.44 727.71h0M251.47 758.95h0M224.47 783.54h0M196.53 786.93h0M224.99 777h0M230.08 770.59h0M228.51 774.32h0M226.5 773.14h0M299.66 736.32h0M217.53 786.22h0M300.85 736.78h0M246.42 763.14h0M204.22 782.39h0M193.45 797.21h0M302.02 741.09h0M305.05 732.11h0M275.91 741.99h0M317.41 725.9h0M204.49 787.01h0M261.98 755.71h0M218.11 783.27h0M230.29 776.2h0M256.24 761.83h0M202.41 786.24h0M261.57 757.33h0M301.99 727.67h0M300.05 739.61h0M280.21 753.92h0M209.97 785.88h0M201.52 795.68h0M278.11 746.82h0M258.14 768.44h0M249.74 772.83h0M262.9 750.92h0M222.4 772.24h0M232.64 776.43h0M244.29 763.3h0M294.68 743.92h0M284.43 743.37h0M195.14 790.41h0M229.22 771.33h0M205.9 788h0M309.01 729.76h0M192.91 792.91h0M237.3 769.8h0M265.85 754.2h0M219.93 774.51h0M298.68 739.78h0M294.12 738.83h0M278.3 746.92h0M257 756.32h0M244.54 759.89h0M213.39 788.31h0M301.06 737.35h0M201.68 782.16h0M204.76 784.27h0M303.85 733.71h0M198.52 787.2h0M202.46 793.3h0M301.88 735.09h0M230.03 770.01h0M307.39 731.43h0M307.78 736.96h0M234.77 765.97h0M210.38 784.68h0M310.87 730.16h0M304.84 736.14h0M296.66 740.88h0M307.48 738.51h0M296.88 737.91h0M300.39 739.41h0M203.74 790.94h0M219.7 775.56h0M258.8 763.62h0M300.38 741.7h0M307.77 733.67h0M294.59 744.97h0M195.52 794.83h0M247.21 763.82h0M223.96 778.23h0M259.3 754.13h0M249.59 756.91h0M197.94 788.94h0M275.76 756.74h0M202.39 796.07h0M275.21 747.4h0M315.72 719.41h0M206.43 791.18h0M301.31 741.35h0M203.86 788.66h0M270.9 748.52h0M309.24 727.99h0M204.33 791.76h0M202.86 800.74h0M203.8 788.22h0M313.04 728.87h0M222.93 771.29h0M250.84 764.63h0M217.68 775.28h0M199.81 785.45h0M200.35 789.09h0M283.62 744.96h0M295.67 752.63h0M201.33 791.48h0M195.51 794.9h0M257.18 761.03h0M202.73 794.72h0M235.82 773.62h0M217.3 783.37h0M183.83 779.16h0M181.53 792.8h0M322.19 720.26h0M322.19 733.9h0M304.9 752.5h0M233.41 752.5h0M193.06 789.7h0" stroke="#000" stroke-width="3.1" stroke-linecap="round" fill="none"/>
<line x1="185.3" y1="798.2" x2="322.5" y2="724.4" stroke="#3a9a2c" stroke-width="1.7" />
<text x="190.9" y="808.5" font-size="7.7" text-anchor="middle" fill="#6e6e6e" textLength="4.75" lengthAdjust="spacingAndGlyphs">0</text>
<text x="258.7" y="808.5" font-size="7.7" text-anchor="middle" fill="#6e6e6e" textLength="9.5" lengthAdjust="spacingAndGlyphs">50</text>
<text x="304.6" y="808.5" font-size="7.7" text-anchor="middle" fill="#6e6e6e" textLength="14.25" lengthAdjust="spacingAndGlyphs">100</text>
<text x="178.2" y="723.7" font-size="7.7" text-anchor="end" fill="#6e6e6e" textLength="14.25" lengthAdjust="spacingAndGlyphs">120</text>
<text x="178.2" y="749" font-size="7.7" text-anchor="end" fill="#6e6e6e" textLength="9.5" lengthAdjust="spacingAndGlyphs">80</text>
<text x="178.2" y="774.2" font-size="7.7" text-anchor="end" fill="#6e6e6e" textLength="9.5" lengthAdjust="spacingAndGlyphs">40</text>
<text x="178.2" y="798.9" font-size="7.7" text-anchor="end" fill="#6e6e6e" textLength="4.75" lengthAdjust="spacingAndGlyphs">0</text>
<text x="209.2" y="711.2" font-size="9.8" textLength="92.8" lengthAdjust="spacingAndGlyphs">Model [9,10], n=184</text>
<text x="181.2" y="730.9" font-size="9.3" fill="#222" textLength="36.7" lengthAdjust="spacingAndGlyphs"><tspan font-style="italic">r</tspan> = 0.97</text>
<text x="199.2" y="817" font-size="9.8" textLength="107" lengthAdjust="spacingAndGlyphs">%Cell Death (observed)</text>
<text x="156.7" y="761.9" font-size="9.8" text-anchor="middle" textLength="54.8" lengthAdjust="spacingAndGlyphs" transform="rotate(-90 156.7 761.9)">%Cell Death</text>
<text x="168" y="760" font-size="9.8" text-anchor="middle" textLength="49.4" lengthAdjust="spacingAndGlyphs" transform="rotate(-90 168 760)">(predicted)</text>
<path d="M369.5,714.7V803M389.25,714.7V803M409,714.7V803M428.75,714.7V803M448.5,714.7V803M468.25,714.7V803M488,714.7V803M507.75,714.7V803M368.8,718.2H518.6M368.8,729.9H518.6M368.8,741.6H518.6M368.8,753.25H518.6M368.8,764.9H518.6M368.8,776.6H518.6M368.8,788.3H518.6M368.8,799.95H518.6" stroke="#ebebeb" stroke-width="0.6" fill="none"/>
<path d="M471.07 748.45h0M484.13 743.18h0M420.89 760.97h0M392.82 779.08h0M399.46 766.65h0M398.55 776.77h0M407.59 767.22h0M408.59 773.78h0M455.83 754.6h0M393.51 773.28h0M417.85 755.83h0M459.01 751.87h0M447.46 752.83h0M440.08 761.43h0M437.45 753.61h0M474.2 735.81h0M477.53 741.45h0M456.33 753.31h0M497.31 734.82h0M428.69 761.37h0M436.24 758.39h0M494.18 727.9h0M460.09 750.52h0M436.32 759.45h0M392.93 767.22h0M487.35 732.46h0M413.65 776.27h0M500.83 741.79h0M487.49 733.29h0M459.05 761.01h0M453.88 741.57h0M500.29 723.17h0M459.41 748.13h0M500.81 730.19h0M397.58 780.1h0M408.77 770.98h0M449.4 753.11h0M473.3 739.59h0M392.04 772.48h0M378.1 792.6h0M422.75 769.36h0M399.42 780.08h0M450.43 750.09h0M405.68 779.02h0M507.83 731.66h0M456.79 740.59h0M429.96 758.33h0M403.2 764.94h0M463.51 747.33h0M437.85 763.95h0M400.18 779.92h0M474.83 740.58h0M437.41 767.39h0M447.84 753.8h0M493.27 732.56h0M489.77 743.7h0M421.91 761.14h0M501.37 733.32h0M376.07 782.46h0M403.57 778.91h0M406.75 759.7h0M417.54 772.36h0M499.99 723.86h0M488.28 731.28h0M425.46 757.28h0M446.43 762.58h0M437.32 756.08h0M501.04 720.18h0M396.88 775.09h0M391.06 786.26h0M405.23 775.95h0M409.71 765.63h0M453.33 748.43h0M419.68 765.99h0M497.1 731.53h0M494.28 734.35h0M415.61 758.98h0M446.88 750.98h0M424.61 767.88h0M402.63 781.39h0M424.63 757.59h0M467.02 744.28h0M497.73 737.87h0M452.8 751.42h0M388.64 784.66h0M414.03 771.38h0M484.01 744.83h0M418.81 765.34h0M502.08 742.52h0M498.39 731.53h0M461.94 748.99h0M412.64 763.73h0M505.17 731.77h0M476.62 741.91h0M414.5 779.85h0M397.77 779.63h0M397.69 783.2h0M452.63 751.94h0M441.7 763.58h0M422.76 773.51h0M448.93 754.7h0M393.1 771.85h0M476.24 743.94h0M395.19 796.51h0M458.53 745.81h0M484.63 738.01h0M388.81 777.83h0M464.29 753.19h0M490.48 735.28h0M482.48 744.58h0M488.53 734.39h0M410.95 772.54h0M470.25 745.58h0M473.64 738.96h0M431.84 764.98h0M401.17 779.96h0M408.41 772.94h0M460.55 755.23h0M465.15 744.32h0M433.09 760.85h0M419.5 775.51h0M391.4 783.8h0M404.38 772.85h0M483.16 741.03h0M387.07 777.17h0M488.5 735.7h0M439.6 755.39h0M472.16 745.94h0M405.43 774.13h0M485.26 747.54h0M429.97 757.81h0M390.03 783.3h0M458.89 729.44h0M480.63 741.11h0M468.21 752.38h0M483.39 732.07h0M482.48 738.85h0M467.99 748.75h0M436.16 755.66h0M447.16 759.39h0M416.72 773.43h0M495.8 732.76h0M398.29 774.12h0M420.27 755.4h0M476.22 747.3h0M486.79 737.99h0M431.11 761.77h0M480.17 746.73h0M505.02 742.26h0M502.77 726.89h0M424.31 759.97h0M477.05 738.42h0M503 741.17h0M451.61 744.43h0M427.39 768.17h0M373.11 785.98h0M400.15 777.76h0M444.1 758.31h0M438.11 759.24h0M487.12 739.7h0M463.93 750.73h0M432.94 752.79h0M464.7 744.94h0M376.44 790.85h0M418.35 757.34h0M456.07 749.11h0M463.53 732.27h0M428.89 763.07h0M489.33 731.76h0M421.78 768.34h0M471.4 746.78h0M462.89 735.77h0M473.82 744.19h0M413.24 772.85h0M398.23 777.66h0M465.06 748.18h0M508.86 728.6h0M461.82 753.25h0M427.77 759.75h0M402.39 771.98h0M423.72 767.13h0M407.62 774.87h0M421.36 769.01h0M447.11 750.74h0M429.66 769.86h0M464.77 753.3h0M469.06 737.87h0M474.8 743.4h0M441.62 761.58h0M465.93 747.32h0M427.2 759.9h0M451.24 753.74h0M511.55 725.35h0M469.43 738.61h0M442.48 752.06h0M468.96 744.53h0M464.42 742.8h0M401.38 780.66h0M432.5 763.17h0M420.68 765.8h0M482.87 737.27h0M474.54 732.57h0M500.58 726.92h0M413.42 775.4h0M446.07 751.88h0M465.98 745.41h0M501.27 735.28h0M414.64 763.91h0M466.99 743.41h0M447.57 746.47h0M502.66 725.11h0M434.36 765.6h0M467.35 741.73h0M440.28 766.92h0M392.83 780.39h0M482.72 743.24h0M496.96 731.42h0M494.82 739h0M481.95 738.96h0M404.76 778.6h0M495.15 727.02h0M507.98 729.61h0M481.32 734.74h0M464.32 741.43h0M509.44 739.41h0M483.68 737.66h0M512.99 731.26h0M417.58 767.82h0M400.46 782.18h0M497.34 736.83h0M459.21 751.48h0M486.98 719.64h0M437.12 762.48h0M397.56 772.4h0M501.92 737.56h0M473.31 745.53h0M424.62 766.21h0M474.34 747.42h0M387.8 783.5h0M452.6 748.29h0M481.25 755.12h0M447.25 753.81h0M488.93 740.36h0M418.8 763.86h0M499.64 725.67h0M447.87 739.56h0M399.25 781.61h0M464.99 753.48h0M489.16 727.57h0M441.1 752.78h0M485.41 738.97h0M432.48 772.74h0M465.12 750.4h0M466.22 743.82h0M458.29 748.74h0M452.85 755.48h0M442.96 758.69h0M399.47 778.83h0M503.04 733.79h0M396.76 775.38h0M469.27 740.04h0M414.2 767.44h0M471.65 754.41h0M511.8 724.69h0M462.2 749.69h0M479.61 738.58h0M504.77 741.78h0M457.94 746.99h0M469.66 751.11h0M397.08 777.34h0M479.22 740.46h0M402.78 772.32h0M391.12 771.29h0M403.33 772.13h0M462.52 753.55h0M481.11 751.08h0M509.85 729.91h0M463.75 751.58h0M511.6 722.83h0M474.06 740.64h0M444.78 758.7h0M506.4 720.3h0M445.55 748.08h0M473.58 738.96h0M489.83 738.15h0M489.22 729.71h0M411.68 776.61h0M467.67 747.55h0M443.89 751.92h0M409.09 768.62h0M444.13 751.5h0M502.79 725.47h0M426.32 767.43h0M388.76 777.66h0M430.66 764.29h0M479.57 740.01h0M467.12 747.05h0M454.4 744.26h0M482.72 734.57h0M435.32 760.41h0M500.33 734.8h0M469.13 748.02h0M508.05 719.09h0M453.33 772.58h0M481.81 744.12h0M499.26 735.29h0M503 728.76h0M452.5 751.36h0M508.88 724.44h0M410.24 768.42h0M475.22 752.77h0M390.59 784.76h0M486.18 742.46h0M450.15 751.63h0M479.69 737.76h0M395.74 772.82h0M467.66 740.79h0M454.73 751.97h0M421.88 762.41h0M394.83 780.26h0M446.45 771.49h0M398.67 777.04h0M426.24 761.25h0M503.44 720.43h0M428.49 761.26h0M439.53 770.07h0M463.26 742.1h0M460.13 745.24h0M404.25 771.68h0M476.75 752.32h0M441.55 748.57h0M455.16 759.02h0M403.74 776.99h0M394.9 790.27h0M411.19 765.21h0M453.04 747.99h0M395.45 776.49h0M445.52 760.03h0M489.65 728.14h0M468.5 747.1h0M432.73 758.39h0M478.23 747.65h0M404.23 775.82h0M408 769.44h0M480.09 739.63h0M393.77 773.18h0M509.1 735.53h0M445.68 762.18h0M428.47 754.87h0M432.7 768.94h0M397.44 778.72h0M505.94 728.44h0M414.02 765.06h0M413.04 764.61h0M386.61 779.68h0M444.76 746.3h0M385.84 779.83h0M416.98 769.39h0M457.22 747.78h0M384.79 780.33h0M491.81 743.6h0M475.13 737.73h0M489.79 743.71h0M408.5 762.11h0M464.19 761.21h0M419.39 761.68h0M390.56 782.25h0M485.59 728.11h0M500.43 727.36h0M405.5 769.35h0M487.96 729.98h0M481.86 744.8h0M497.87 726.36h0M489.04 730.68h0M418.96 769.32h0M440.57 766.84h0M414.23 774.31h0M409.4 781h0M433.99 755.44h0M495.63 734.58h0M444.71 750.91h0M429.67 765.05h0M510.67 724.34h0M443.2 757.24h0M397.77 779.17h0M412.68 774.23h0M438.64 763.26h0M456.11 746.54h0M460.07 745.85h0M470.85 744.1h0M458.51 743.06h0M456.87 752.89h0M490.1 739.35h0M412.27 771.35h0M458.59 741.23h0M471.55 735.71h0M499.66 732.09h0M496.13 733h0M483.62 740.44h0M394.07 778.3h0M480.71 744.31h0M439.04 753.6h0M414.43 780.66h0M472.68 740.37h0M482.81 740.56h0M432.06 761.58h0M426.66 759.27h0M410.34 763.02h0M454.27 759.34h0M413.49 778.58h0M415.91 776.55h0M473.39 750.69h0M429.04 767.98h0M426.58 774.9h0M506.98 726.4h0M391.99 780.49h0M511.33 721.96h0M453.09 750.25h0M388.84 771.23h0M440.17 755.4h0M454.79 748.81h0M490.79 729h0M422.39 769.32h0M443.6 750.61h0M385.51 781.66h0M487.55 740.06h0M420.29 769.25h0M407.1 770.34h0M476.86 743.64h0M444.94 759.31h0M395.59 784.11h0M435.78 763.49h0M429.75 760.85h0M402.64 774.7h0M454.89 744.38h0M460.79 746.45h0M477.53 743.54h0M494.01 723.09h0M435.24 762.08h0M471.71 734.21h0M425.97 773.62h0M415.4 764.94h0M442.76 754.72h0M457.09 751.08h0M456.27 739.25h0M487.15 734.34h0M407.06 774.05h0M407.53 782.04h0M412.31 782.43h0M435.71 745.34h0M462.04 761.07h0M407.81 769.81h0M471.38 742h0M392.13 789.04h0M402.59 772.54h0M423.7 758.17h0M496.8 728.42h0M415.16 771.93h0M423.62 764.76h0M485.04 733.53h0M397.27 779.29h0M487.02 742.58h0M480.95 745.94h0M452.59 756.94h0M503.49 723.38h0M457.01 739.06h0M447.83 767.9h0M498.46 730.34h0M386.48 780.09h0M461.19 746.23h0M470.5 735.95h0M505.71 730.42h0M400.18 780.63h0M489.42 729.26h0M386.38 777.23h0M411.93 767.21h0M478.49 733.29h0M437.94 768.08h0M464.56 748.92h0M419.89 765.73h0M417.19 756.16h0M443.4 766.78h0M456.1 745.35h0M501.3 729.73h0M486.84 721.6h0M478.25 734.15h0M477.82 741.63h0M483.63 734.02h0M508.04 729.17h0M426.82 768.43h0M479.22 739.1h0M424.34 763.43h0M496.59 741.4h0M406.45 775.04h0M430.2 759.98h0M428.71 770.81h0M452.8 756.34h0M495.67 739.66h0M457.88 748.37h0M450.74 773.33h0M454.48 751.75h0M402.71 771.55h0M502.6 736.4h0M476.02 760.97h0M398.94 778.69h0M456.1 745.81h0M397.7 775.89h0M425.73 761.8h0M488.93 733.29h0M473.59 739.8h0M464.08 744.84h0M480.64 738.45h0M468.39 748.13h0M446.3 750.32h0M436.22 760.7h0M423.22 778.99h0M496.18 732.78h0M496.1 728.47h0M467.84 755.16h0M462.57 739.7h0M427.31 764.65h0M498.37 728.54h0M457.69 744.52h0M465.46 752.98h0M445.25 750.94h0M497.02 724.83h0M454.65 751.28h0M478.5 746.48h0M403.36 768.5h0M409.37 770.04h0M440.74 766.39h0M471.1 752.34h0M494.35 726.25h0M385.95 792.24h0M409.85 769.9h0M434.73 758.5h0M461.82 740.62h0M471.86 728.55h0M392.16 778.51h0M461.14 739.25h0M447.19 752.42h0M395.33 773.7h0M404.87 771.04h0M497.54 736.31h0M475.37 736.65h0M388.3 772.41h0M471.24 743.32h0M506.7 732.77h0M481.23 741.75h0M489.46 732.06h0M417.04 774.08h0M512.82 735.05h0M481.89 742.52h0M378.82 788.32h0M393.59 782.53h0M486.42 741.83h0M497.28 736.39h0M445.55 752.21h0M460.98 742.02h0M512.11 734.15h0M464.35 748.01h0M428.54 754.44h0M459.33 751.42h0M389.59 782.45h0M503.08 723.33h0M410.27 763.73h0M397.14 772.58h0M419.28 772.66h0M399.91 784.42h0M431.86 755.85h0M487.02 730.62h0M377.27 781.79h0M417.39 765.43h0M403.98 780.3h0M422.16 768.14h0M501.85 737.8h0M429.83 765.15h0M430.38 759.87h0M501.32 730.01h0M493.61 742.18h0M417.09 759.35h0M503.36 735.31h0M407.07 782.49h0M388.58 789.39h0M430.37 753.75h0M435.04 761.73h0M390.88 780.87h0M391.43 785.22h0M416.03 769.08h0M485.49 735.98h0M432.2 760.98h0M505.14 722.97h0M478.7 744.99h0M419.27 766.35h0M387.1 790.83h0M421.7 757.38h0M460.92 746.26h0M461.96 750h0M492.81 736.96h0M444.38 750.21h0M442.69 762.74h0M445.71 752.39h0M489.29 737.25h0M381.25 782.11h0M465.15 738.58h0M489.26 737.11h0M483.75 731.21h0M476.19 739.93h0M437.39 760.6h0M494.8 729.43h0M471.29 756.91h0M402.57 775.72h0M488.02 736.88h0M436.91 760.41h0M410.25 774.79h0M416.53 771.37h0M451.25 756.88h0M497.59 728.64h0M424.63 762.29h0M461.18 768.81h0M495.74 750.37h0M426.78 781.67h0M411.7 772.95h0M420.14 771.57h0M468.66 749.21h0M403.37 775.95h0M395.14 766.88h0M482.08 736.9h0M387.04 786.37h0M431.8 770.67h0M458.57 758.2h0M398.6 786.04h0M509.14 718.41h0M456.26 749.01h0M409.41 773.69h0M391.3 786.41h0M452.39 760.09h0M418.77 764.5h0M402.16 782.82h0M399.24 788.13h0M486.2 741.78h0M423.64 761.96h0M431.45 766.66h0M446.6 750.38h0M474.76 730.18h0M497.18 734.69h0M475.41 744.15h0M503.21 732.99h0M409.91 769.22h0M467.73 751.42h0M496.2 732.37h0M442.95 762.31h0M482.18 742.4h0M406.99 774.84h0M418.63 763.48h0M452.67 751.98h0M496.32 727.9h0M483.31 747.14h0M409.93 776.34h0M466.87 744.54h0M442.29 759.61h0M426.2 762.73h0M406.72 777.19h0M450.44 757.42h0M484.73 739.87h0M453.53 747.54h0M482.12 743.93h0M416.03 775.24h0M491.53 737.19h0M457.49 737.53h0M471.44 740.65h0M477.52 743.13h0M414.5 762.83h0M387.3 772.79h0M489.17 742.79h0M429.22 759.91h0M486.65 734.49h0M491.45 733.32h0M482.92 744.2h0M465.67 741.97h0M432.03 756.08h0M424.48 763.58h0M410.8 777.11h0M432.44 761.77h0M488.48 736.83h0M469.13 750.12h0M507.4 731.69h0M408.43 785.46h0M415.47 764.89h0M452.19 748.76h0M476.31 740.14h0M441.18 758.32h0M488.87 738.58h0M455.77 742.95h0M421.81 755.94h0M426.61 770.85h0M387.8 781.98h0M496.3 727.24h0M376.66 788.34h0M492.83 731.01h0M427.33 772.13h0M484.16 741.6h0M397.22 785.53h0M463.13 756.49h0M407.21 774.03h0M498.77 724.05h0M391.74 778.44h0M454.62 755.77h0M381.41 793.65h0M406.89 763.4h0M426.8 775.72h0M392.16 784.99h0M434.68 763.54h0M403.62 777.3h0M484.49 731.36h0M422.14 759.66h0M441.26 749.28h0M419.29 758.27h0M424.49 760.57h0M485.14 740.12h0M401.94 772.01h0M405.21 774.21h0M482.69 726.6h0M391.59 782.9h0M421.11 759.52h0M419.69 772.74h0M423.95 773.39h0M504.47 735.17h0M443.91 761.9h0M431.04 767.36h0M424.74 780.95h0M440.1 763.81h0M402.63 771.87h0M390.95 768.66h0M475.6 736.01h0M483.38 732.61h0M458.18 760.49h0M413.81 766.07h0M400.16 777.47h0M406.78 761.36h0M492.03 723.07h0M495.78 735.71h0M442.45 762.59h0M448.75 749.97h0M393.89 778.68h0M434.16 757.41h0M439.64 764.58h0M510.36 727.71h0M416.04 766.07h0M430.09 757.49h0M423.39 757.35h0M426.55 759.27h0M478.44 735.83h0M441.86 762.29h0M487.4 742.78h0M444.72 752.27h0M499.64 724.79h0M427.59 764.25h0M420.24 763.46h0M401.55 749.91h0M420.77 765.18h0M384.61 778.33h0M419.02 771.95h0M459.89 735.89h0M450.01 749.89h0M431.66 748.81h0M482.48 743.11h0M495.62 724.88h0M491.32 747.54h0M412.22 777.17h0M448.55 752.75h0M481.85 746.41h0M445.11 754.79h0M387.85 771.3h0M479.49 752.86h0M405.97 770.26h0M474.04 741.38h0M438.17 761.28h0M508.5 733.53h0M503.29 725.49h0M485.96 720.82h0M453.73 761.42h0M472.77 743.83h0M395.32 782.61h0M451.95 757.55h0M470.81 730.29h0M372.95 785.16h0M410.18 769.52h0M484.4 740.14h0M408.38 771.75h0M503.45 722.07h0M419.29 753.88h0M502.21 735.14h0M417.89 751.64h0M396.73 775.38h0M416.08 780.33h0M408.21 776.65h0M435.77 763.72h0M394.06 770.58h0M467.14 745.66h0M510.42 728.74h0M390.59 780.19h0M492.35 737.59h0M491.1 735.8h0M392.03 780.12h0M414.95 767.57h0M453.82 756.5h0M474.08 739.71h0M451.24 755.39h0M425.84 763.39h0M463.59 748.12h0M473.88 745.76h0M437.36 744.04h0M389.08 768.41h0M426.48 759.7h0M411.18 776.04h0M413.78 771h0M434.42 753.06h0M425.24 766.54h0M419.8 772.68h0M394.6 781.22h0M421.51 764.64h0M493.04 735.6h0M393.64 788.52h0M396.87 774.28h0M483.83 751.53h0M465.17 735.27h0M418.97 769.6h0M469.87 739.35h0M506.48 722.59h0M473 738h0M450.03 754.51h0M414.8 770.61h0M494.37 730.98h0M386.11 784.19h0M380.88 780.96h0M397.77 779.36h0M419.01 770.29h0M438.61 761.98h0M475.69 745.79h0M476.62 734.56h0M438.05 762.97h0M495.75 727.22h0M468.82 739.97h0M395.96 785.25h0M439.99 750.14h0M468.02 745.29h0M420.17 773.24h0M463.82 744.26h0M481.51 738.77h0M475.51 739.24h0M448.34 760.67h0M431.44 747.14h0M468.88 737.68h0M454.97 757.39h0M446.06 759.95h0M389.33 781.58h0M467.83 746.56h0M467.18 744.05h0M393.37 783.58h0M394.21 781.15h0M512.86 727.46h0M440.2 755.64h0M448.47 745.45h0M421.33 763.71h0M387.49 790.32h0M498.92 729.98h0M491.87 729.14h0M446.46 766.32h0M431.98 761.23h0M416.77 767.9h0M435.03 757.42h0M422.75 760.77h0M481.83 740.08h0M374.92 776.23h0M423.74 759.12h0M450.44 756.94h0M477.35 750.44h0M396.88 775.01h0M413.75 762.78h0M444.19 756.03h0M424.52 764.01h0M409.63 776.22h0M508 739.39h0M396.89 781.21h0M470.88 750.55h0M388.61 763.91h0M442.15 755.44h0M475.84 729.41h0M408.28 770.93h0M486.74 749.63h0M424.13 757.13h0M421.58 755.12h0M504.29 727.3h0M435.58 759.5h0M415.53 768.06h0M401.34 789.23h0M467.18 754.66h0M486.86 727.16h0M399.36 774.51h0M466.77 742.29h0M448.22 752.2h0M499.21 729.86h0M473.25 745.82h0M413.36 775.36h0M494 728.64h0M411.37 766.68h0M431.55 761.07h0M457.75 753.12h0M435.3 758.53h0M427.62 755.91h0M452.71 753.17h0M430.8 766.7h0M485.96 732.72h0M428.68 770.07h0M428.34 757.78h0M389.78 780.95h0M512.38 732.06h0M395.17 773.51h0M487.87 733.76h0M464.86 746.98h0M404.8 774.75h0M433.3 761.75h0M481.98 745.43h0M495.32 729.13h0M459.32 757.41h0M443.42 749.23h0M434.01 759.7h0M483.72 738.7h0M465.2 752.52h0M474.18 734.54h0M473.28 747.54h0M399.45 772.69h0M508.77 722.46h0M387.1 785.59h0M427.51 753.56h0M452.89 746.09h0M426.28 767.82h0M404.43 767.96h0M373.34 770.25h0M459.17 751.8h0M401.08 781.36h0M477.57 735.74h0M498.81 725.29h0M422.32 768.96h0M406.88 771.76h0M387.92 783.19h0M482.37 747.47h0M430.53 775.51h0M495.28 748.98h0M469.49 743.1h0M511.56 736.43h0M407.38 771.13h0M482.92 731.35h0M447.94 746.78h0M448.92 749.25h0M497.41 729.86h0M431.96 753.15h0M469.7 749.59h0M401.84 773.11h0M428.89 769.13h0M495.47 749.14h0M462.53 758.67h0M386.3 774.76h0M446.83 750.43h0M467.33 754.14h0M398.92 784.56h0M422.5 763.34h0M400.5 780.49h0M392.45 777.78h0M400.14 768.68h0M462.16 747.06h0M476.99 731.71h0M509 730.41h0M415.69 768.93h0M386.68 786.96h0M403.8 776.98h0M454.43 749.98h0M506.54 731.65h0M419.28 779.85h0M492.66 744.21h0M406.75 780.22h0M476.92 739.21h0M411.8 779.8h0M492.42 741.44h0M444.92 763.02h0M461.97 751.88h0M465.61 762.37h0M502.39 743.33h0M437.89 758.99h0M403.58 777.36h0M409.86 772.49h0M432.38 750.45h0M478.12 740.03h0M405.83 769.45h0M396.91 781.25h0M472.13 751.8h0M504.77 726.9h0M376.98 792.54h0M443.82 747.76h0M397.01 786.54h0M500.77 727.57h0M424.14 781.55h0M430.13 755.06h0M459.75 734.9h0M378.03 780.18h0M426.01 769.27h0M480.54 739.12h0M500.57 733.65h0M400.81 779.19h0M428.48 760.08h0M397.21 779.08h0M473.17 744.17h0M440.4 753.41h0M425.21 763.95h0M472.49 738.04h0M388.14 786.13h0M397.09 779h0M478.26 743.93h0M485.31 736.02h0M438.85 754.65h0M435.2 772.59h0M443.36 757.48h0M404.24 772.53h0M467.3 740.87h0M405.24 769.53h0M421.93 753.2h0M480.42 736.25h0M511.11 725.69h0M444.79 755.75h0M457.44 744.27h0M405.97 773.28h0M406.34 782.55h0M398.29 783.22h0M428.06 762.01h0M429.3 759.46h0M395.03 786.59h0M480.86 737.87h0M466.43 751.73h0M411.39 768.96h0M480.53 749.97h0M422.98 762.55h0M408.65 763.43h0M417.78 779.39h0M449.36 761.27h0M456.52 746.82h0M403.76 770.24h0M494.49 723.71h0M439.69 754.83h0M431.64 756.12h0M417.61 774.55h0M473.69 741.38h0M480.2 737.84h0M509.31 741.48h0M453.51 744.28h0M405.24 769.8h0M407.01 761.94h0M414.99 772.04h0M427.01 768.15h0M505.16 730.57h0M457.67 749.08h0M446.31 747.74h0M453.77 749h0M445.25 759.7h0M454.12 750.21h0M417.52 766.15h0M494.52 727.62h0M437.79 762.8h0M472.51 746.5h0M402.6 776.93h0M406.19 780.94h0M403.74 773.5h0M502.33 740.55h0M489.08 730.34h0M457.06 758.11h0M428.6 770.08h0M398.81 778.08h0M421.37 767.89h0M417.77 762.39h0M464.26 737.66h0M415.06 768.74h0M497.24 729.6h0M410.7 767.5h0M396.74 781.36h0M477.81 739.67h0M482.52 741.4h0M409.44 772.22h0M464.95 743.34h0M478.75 748.33h0M458.85 742.46h0M454.07 748.92h0M470.63 740.51h0M430.44 758.12h0M486.27 733.77h0M389.28 783.28h0M479.45 749.49h0M458.26 757.95h0M468.15 749.53h0M478.5 739.09h0M439.22 758.11h0M495.63 735.3h0M491.71 737.5h0M430.93 764.12h0M407.87 785.91h0M440.41 760.83h0M432.44 755.78h0M459.64 761.95h0M400.37 772.74h0M416.89 776.28h0M438.94 754.57h0M387.37 777.75h0M388.18 777.61h0M390.3 779.72h0M419.71 774.04h0M399.89 783.28h0M422.39 764.52h0M436.83 758.71h0M494.68 735.46h0M395.71 775.54h0M427.77 776.16h0M411.16 775.56h0M419.61 760.96h0M460.64 740h0M496.96 739.04h0M409.27 775.86h0M407.94 789.89h0M486.88 744.12h0M450.72 749.42h0M484.36 736.34h0M405.67 774.51h0M432.56 759.58h0M413.32 776.46h0M412.15 774.44h0M439.85 754.96h0M451.6 750.41h0M489.31 741.85h0M442.98 758.43h0M476.18 735.29h0M456.34 747.77h0M410.88 772.32h0M442.18 753.54h0M429.3 763.04h0M445.52 757.04h0M390.78 782.7h0M474.38 744.09h0M452.8 753.43h0M447.17 749.26h0M461.3 745.6h0M411.37 763.52h0M377.92 777.77h0M466.96 745.72h0M479.84 750.24h0M376.41 792.81h0M402.86 785.62h0M447.46 761.01h0M480.93 731.22h0M451.8 751.29h0M433.39 758.23h0M378.11 776.55h0M492.67 735.99h0M463.11 748.6h0M491.09 730.87h0M410.36 776.43h0M485.04 746.89h0M423.5 776.34h0M402.19 764.71h0M484.69 736.71h0M424.05 767.78h0M390.04 777.05h0M481.44 737.83h0M443.35 753.64h0M385.93 799.46h0M449.84 757.31h0M410.85 772.38h0M501.67 725.99h0M456.25 762.01h0M398.92 780.35h0M420.02 768.6h0M481.18 732.82h0M442.21 760.48h0M397.62 772.34h0M408.73 771.34h0M488.25 740.63h0M411.85 780.13h0M393.66 781.45h0M432.89 754.22h0M465.1 747.97h0M446.99 755.85h0M424.17 767.23h0M434.38 755.94h0M471.67 745h0M415 770.27h0M464.32 748.79h0M470.36 736.97h0M494.47 729.13h0M497.05 730.43h0M490.1 742.4h0M490.65 724.06h0M467.84 739.44h0M426.71 760.69h0M455.45 752.41h0M403.7 783.66h0M470.04 743.31h0M479.82 739.79h0M502.47 738.41h0M434.78 751.06h0M416.2 763.27h0M460.87 744.53h0M493.03 728.98h0M489.83 732.49h0M390.69 770.38h0M393.91 772.55h0M387.62 788.61h0M451.97 751.53h0M481.01 742.4h0M485.19 747.38h0M479.31 740.79h0M491.56 739.56h0M426.68 753.1h0M488.75 739.79h0M453.91 748.49h0M502.28 727.82h0M472.98 751.32h0M496.65 743.04h0M436.75 771.26h0M486.65 728.44h0M411.84 775.32h0M382.37 783.2h0M438.95 745.75h0M409.29 785.71h0M378.35 797.48h0M407.11 769.08h0M507.82 733.36h0M483.09 738.23h0M425.18 771.23h0M411.8 776.19h0M417.49 767.05h0M422.6 768.24h0M427.28 762.04h0M413.91 775.26h0M443.7 762.56h0M470.52 749.24h0M400.87 780.52h0M505.83 736.03h0M500.76 725.06h0M512.1 722.54h0M511.17 723.54h0M460.73 740.88h0M497.47 727.7h0M425.87 758.97h0M419.37 764.4h0M391.67 780.37h0M436.07 753.58h0M483.52 737.64h0M498.08 731.44h0M468.93 749.49h0M463.59 745.36h0M432.47 761.33h0M487.64 730.83h0M512.91 718.78h0M458.1 740.1h0M438.71 757.62h0M498.65 727.07h0M386.63 776.11h0M410.53 769.42h0M410.17 766.13h0M480.18 742.45h0M376.21 783.25h0M422.63 768.9h0M435.13 756.28h0M372.16 792.29h0M496.65 729.37h0M427.54 762.41h0M470.19 750.41h0M438.52 758.11h0M424.24 756.38h0M434.76 752.42h0M434.08 762.07h0M412.25 776.02h0M494.26 725.21h0M467.47 746.29h0M448.26 755.93h0M400.07 779.63h0M436.55 754.4h0M448.34 768.04h0M466.46 750.4h0M486.05 743.37h0M512.76 728.98h0M469.46 741.26h0M441.24 762.61h0M406.06 769.13h0M484.69 733.17h0M496.49 735.27h0M438.2 760.71h0M458.01 748.79h0M485.51 742.54h0M420.54 766.83h0M378.33 785.36h0M393.81 768.98h0M437.39 754.81h0M395.62 774.15h0M391.99 770.51h0M388.32 781.08h0M393.41 770.12h0M420.03 767.22h0M487.54 738.3h0M504.47 733.59h0M425.78 763.86h0M491.03 732.41h0M430.14 776.18h0M501.73 725.43h0M399.73 768.51h0M471.5 739.77h0M500.08 723.96h0M394.4 778.37h0M387.92 780.94h0M439.5 756.54h0M446.42 754.95h0M502.81 748.77h0M391.19 783.31h0M396.46 777.96h0M453.29 747.85h0M423.37 752.59h0M399.39 775.51h0M419.45 759.09h0M485.05 744.1h0M499.59 728.02h0M390.22 785.93h0M449.79 760.47h0M408.32 768.88h0M462.71 750.76h0M376.27 791.53h0M447.74 743.99h0M378.3 785.95h0M414.34 775.28h0M456.91 746.35h0M465.55 768.85h0M402.81 774.33h0M435.96 766.79h0M406.28 784.33h0M464.47 759.23h0M494.57 726.6h0M427.21 761.57h0M382.06 780.37h0M478.73 736.47h0M390.68 768.83h0M422.7 764.47h0M481.99 729.08h0M497.64 742.59h0M403.85 768.85h0M436.36 751.46h0M392 784.06h0M472.7 747.27h0M443.78 763.36h0M453.33 755.24h0M401.2 773.94h0M439.32 760.41h0M427.9 762.67h0M472.03 748.17h0M481.18 736.6h0M439.4 754.69h0M392.23 794.08h0M496.5 731.49h0M496.07 727.99h0M484.12 735.74h0M489.4 733.19h0M388.75 780.33h0M498.73 735.03h0M424.4 767.55h0M398.44 778.91h0M431.2 767.47h0M480.9 737.55h0M477.85 737.68h0M458.24 763.64h0M401.8 780.08h0M487.04 738.84h0M442.35 747.56h0M435.53 765.71h0M479.07 740.29h0M486.39 736.63h0M462.59 753.44h0M413.16 765.77h0M447.8 763.86h0M432.1 767.06h0M387.51 781.48h0M412.71 767.66h0M418.88 775.48h0M410.07 764.51h0M463.89 732.66h0M410.74 761.55h0M501.48 736.3h0M492.65 733.72h0M415.3 777.99h0M409.98 761.17h0M503.58 726.4h0M387.43 787.59h0M465.85 742.34h0M394.97 781.12h0M501.62 732.2h0M407.95 766.16h0M409.44 778.68h0M426.47 766.27h0M492.24 740.05h0M379.52 790.97h0M476.59 734.5h0M478.72 734.46h0M477.09 740.47h0M509.53 726.93h0M503.2 721.01h0M401.65 775.95h0M383.74 775.41h0M385.9 783.19h0M436.24 754.01h0M508.32 726.97h0M497.42 738.8h0M447.84 752.57h0M412.87 760.68h0M427.69 755.2h0M476.38 745.6h0M483.55 738.3h0M491.89 738.57h0M433.92 755.74h0M410.9 758.5h0M426.13 773.68h0M499.69 725.21h0M442.24 761.57h0M425.38 768.59h0M486.12 731.69h0M443.65 767.09h0M412.34 766.78h0M452.88 750.32h0M414.82 773.16h0M437.91 740.61h0M437.94 763h0M394.37 767.52h0M473.9 742.53h0M493.58 729.81h0M416.83 774.55h0M425.89 764.49h0M424.8 762.21h0M481.26 741.72h0M495.8 729.81h0M449.09 754.5h0M480.8 739.8h0M479.38 744.05h0M457.18 754.67h0M388.52 784.61h0M474.37 750.05h0M424.64 766.33h0M435.25 766.87h0M456.53 746.41h0M477.82 737.76h0M469.24 757.16h0M438.28 750.36h0M461.92 738.44h0M468.35 750.9h0M428.18 772.77h0M418.49 766.36h0M434.76 754.04h0M448.06 757.64h0M401.5 780.98h0M401.73 769.51h0M440.82 747.31h0M408.28 780.59h0M470.07 745.14h0M500.71 728.88h0M427.05 764.93h0M480.43 734.1h0M432.15 756.75h0M441.42 765.66h0M479.28 730.14h0M495.5 732.87h0M489.3 734.25h0M467.41 754.55h0M448.67 745.99h0M470.4 742.02h0M403.99 775.62h0M456.74 760.28h0M441.13 758.63h0M470.35 736.24h0M411.13 768.83h0M400.97 774.14h0M460.81 745.84h0M394.95 773.06h0M410.65 768.18h0M465.92 748.77h0M413.36 765.34h0M482.5 740.78h0M402.51 759.23h0M390.51 783.27h0M458.78 752.63h0M429.38 754.73h0M425.57 764.12h0M491.1 737.12h0M439.49 757.6h0M411.95 769.49h0M469.86 741.01h0M409.3 775.55h0M416.51 766.35h0M394.8 794.08h0M417.41 757.6h0M379.89 792.19h0M495.29 735.2h0M436.84 759.32h0M420.61 764.79h0M478.35 749.34h0M408.14 766.35h0M373.87 789.42h0M481.02 737.23h0M412 772.8h0M437.09 759.09h0M390.1 785.25h0M459.26 746.83h0M432 759.84h0M494.58 731.98h0M413.05 770.34h0M400.74 773.14h0M495.35 733.71h0M408.51 776.16h0M501.83 728.09h0M428.76 757.31h0M413.15 767.38h0M493.33 736.24h0M467.24 743.46h0M400.16 767.54h0M485.82 748.27h0M497.69 730.41h0M385.86 788.87h0M398.76 774.44h0M478.64 743.16h0M441.31 757.33h0M457.81 750.28h0M493.12 735.77h0M504.67 734.66h0M444.21 748.45h0M483.72 739.14h0M503.74 731.9h0M461.1 737.84h0M467.19 748.25h0M452.77 749.92h0M507.36 733.41h0M443.2 757.83h0M467.88 746.66h0M421.9 764.81h0M416.37 763.5h0M452.67 762.5h0M389.47 774.85h0M488.58 724.03h0M385.34 786.64h0M434.14 753.66h0M442.54 749.9h0M483.38 729.49h0M472.42 739.36h0M465.83 736.7h0M489.97 730.08h0M476.53 734.6h0M413.73 773.16h0M389.57 783.51h0M487.44 740.89h0M439.96 745.63h0M465.91 740.22h0M470.25 745.76h0M381.37 786.49h0M418.09 765.36h0M381.04 785.1h0M485.84 736.17h0M469.2 747.63h0M388.1 773.83h0M487.42 739.35h0M391.6 783.14h0M386.97 775.8h0M501.21 725.37h0M419.71 773.84h0M469.57 740.25h0M420.73 761.19h0M498.05 740.07h0M399.91 784.2h0M512.81 720.5h0M446.14 754.82h0M395.41 763.58h0M461.94 749.05h0M392.69 773.94h0M408.61 773.77h0M401.44 768.68h0M395.35 788.45h0M459.39 749.12h0M494.23 730.43h0M507.36 725.11h0M393.62 783.88h0M409.12 763.63h0M486.01 733.57h0M463.28 758.51h0M464.13 737.83h0M476.62 736.1h0M457.72 750.92h0M388.02 779.24h0M414.67 772.44h0M401.64 773.54h0M385.91 775.67h0M383.39 789.68h0M509.08 728.86h0M458.19 750.8h0M508.17 731.83h0M507.26 735.97h0M417.71 773.04h0M446.28 754.99h0M454.93 757.68h0M434.27 766.29h0M459.96 752.16h0M449.1 759.46h0M488.29 730.58h0M390.78 781.13h0M510.46 730.09h0M392.98 770.63h0M459.01 760.73h0M497.71 736.47h0M440.57 756.86h0M476.24 754.63h0M446.85 757.29h0M463.32 746.68h0M399.61 773.31h0M433.31 765.17h0M396.8 776.8h0M447.13 755.42h0M457.41 755.9h0M480.77 737.18h0M432.69 763.69h0M406.25 775.9h0M410.31 770.45h0M489.43 722.85h0M465.58 752.23h0M485.91 736.68h0M430.53 754.54h0M398.99 776.05h0M446.92 749.72h0M456.33 746.6h0M449.32 750.74h0M484.39 735.95h0M427.06 762.47h0M445.52 760.47h0M486.86 735.48h0M463.93 752h0M496.96 736.08h0M392.13 779.78h0M469.15 744.86h0M468.34 743.6h0M503.39 729.29h0M404.97 774.75h0M502.04 722.59h0M430.33 763.63h0M390.18 786.6h0M467.11 737.68h0M492.77 726.71h0M492.7 734.61h0M412.86 774.99h0M487.44 734.32h0M474.07 740.38h0M513.23 730.93h0M462.64 745.94h0M414.15 779.49h0M476.94 745.68h0M439.56 747.13h0M416.32 767.35h0M403.36 775.62h0M407.14 779.44h0M499.27 732.61h0M487.31 738.81h0M440.66 753.75h0M459.6 744.34h0M476.24 738.66h0M436 767.26h0M406.34 775.82h0M505.4 724.06h0M453.93 748.65h0M459 740.88h0M512.12 717.96h0M445.19 750.58h0M391.82 772.09h0M454.99 757.97h0M424.42 755.37h0M388.92 781.81h0M402.4 771.87h0M463.33 751.94h0M448.7 746.72h0M402.84 778.98h0M434.08 755.35h0M413.98 785.39h0M453.9 756.3h0M431.32 761.44h0M385.46 780.62h0M503.06 736.36h0M474.8 736.95h0M479.39 737.02h0M449.51 745.07h0M411.39 774.36h0M501.83 733.3h0M406.26 785.71h0M432.09 758.04h0M400.09 771.71h0M481.06 741.3h0M469.05 751.16h0M414.35 784.41h0M417.83 772.29h0M461.01 748.11h0M417.87 775.07h0M493.82 731.2h0M466.98 740.28h0M419.71 778.43h0M415.23 770.97h0M478.9 744.97h0M502.39 726.51h0M504.64 740.2h0M428.22 768.43h0M473.49 743.56h0M488.14 733.76h0M392.1 783.98h0M493.57 738.17h0M391.44 773.98h0M400.65 780.8h0M497.64 731.52h0M416.69 767.14h0M478.52 736.42h0M489.94 737.94h0M498.09 725.1h0M407.46 778.97h0M501.88 736.8h0M491.78 735.58h0M399.88 771.63h0M505.26 722.68h0M412.97 763.04h0M458.28 742.47h0M400.78 768.15h0M485.4 738.39h0M415.22 775.05h0M447.63 751.37h0M445.37 758.03h0M479.5 745.39h0M456.54 754.82h0M447.46 757.73h0M508.46 736.47h0M395.42 779.77h0M429.02 756.41h0M466.85 739.64h0M488.72 733.59h0M446.59 754.27h0M450.59 750.8h0M458.4 755.17h0M434.07 755.3h0M491.17 738.19h0M452.65 748.83h0M446.56 761.14h0M401.18 773.81h0M444.46 749.45h0M450.23 769.37h0M463.31 748.1h0M474.23 735.12h0M473.54 742.29h0M510.04 731h0M493.53 726h0M465.52 747.67h0M419.91 763.09h0M458.42 747.24h0M484.78 750.16h0M493.83 738.05h0M501.81 722.61h0M454.66 745.72h0M404.41 768h0M466.69 748.84h0M451.71 751.73h0M437.92 765.51h0M390.74 789.71h0M403.36 775.35h0M434.72 759.7h0M494.23 733.82h0M423.34 764.49h0M501.29 722.71h0M467.48 737.86h0M452.92 754.17h0M477.53 747.1h0M415.15 770.08h0M417.67 770.13h0M422.32 762.55h0M427.2 759.3h0M448 749.61h0M466.96 746.34h0M477.42 739.66h0M383.53 779.58h0M440.04 755.68h0M421.19 769.55h0M476.48 737.58h0M386.22 781.71h0M468.35 745.1h0M397.12 782.86h0M477.4 744.27h0M454.85 753.82h0M406.92 770.73h0M496.22 740.61h0M423.27 761.28h0M425.65 763.28h0M441.43 753.39h0M442.62 756.24h0M475.1 741.05h0M427.24 759.14h0M497.24 737.29h0M474.13 750.07h0M408.97 771.62h0M408.22 773.63h0M450.82 763.21h0M401.17 774.69h0M408.37 768.97h0M383.17 781.36h0M489.84 746.75h0M454.18 759.78h0M505.29 732.71h0M498.64 723.78h0M477.56 740.34h0M398.63 770.19h0M466.75 740.64h0M481.06 742.58h0M390.93 769.76h0M414.56 762.33h0M394.92 779.36h0M464.5 745.78h0M399.95 768.35h0M436.65 762.78h0M407.34 781.71h0M418.34 763.85h0M435.03 761.96h0M434.31 757.24h0M402.49 781.03h0M403.03 788.05h0M440.21 754.42h0M409.79 781h0M507.15 730.84h0M500.67 746.52h0M489.06 736.46h0M462.4 746.16h0M412.15 767.5h0M468.25 750.3h0M454.28 747.68h0M468.6 750.04h0M430.07 766.47h0M418.95 761.39h0M427.72 763.57h0M442.59 748.95h0M488.09 735.55h0M459.54 745.42h0M474.22 750.78h0M490.78 746.59h0M503.28 740.16h0M397.14 774.9h0M387.09 781.46h0M489.67 737.7h0M397.93 774.93h0M399.56 783.84h0M509.91 717.86h0M428.09 774.14h0M476.77 746.02h0M491.77 729.58h0M387.86 774.8h0M398.47 758.5h0M486.1 738.06h0M403.06 775.37h0M424.47 750.88h0M462.38 758.96h0M412.03 767.94h0M473.79 752.51h0M430.53 774.24h0M505.75 720.12h0M423.82 772.74h0M425.37 749.52h0M408.2 764.73h0M409.19 761.78h0M490.58 743.73h0M471.13 741.03h0M474.71 740.16h0M497.27 736.58h0M484.29 737.96h0M387.07 776.99h0M426.38 766.8h0M483.5 738.02h0M443.15 755.7h0M387.7 778.48h0M458.98 747.07h0M408.22 772.03h0M379.42 780.49h0M483.38 738.37h0M475.15 734.58h0M494.45 732.66h0M453.12 753.97h0M468.63 749.69h0M398.74 781.6h0M435.21 761.18h0M443.66 747.57h0M443.74 747.47h0M394.13 772.02h0M503.31 729.29h0M392.98 789.48h0M503.98 724.5h0M456.49 743.09h0M460.12 741.14h0M445.15 750.71h0M425.12 769.31h0M407.15 783.42h0M504.51 720.84h0M414.41 774.72h0M430.22 766.91h0M496.32 732.24h0M491.77 734.89h0M409.07 768.86h0M437.44 757.25h0M411.29 769.32h0M509.07 735.4h0M469.66 737.46h0M494.76 736.18h0M447.64 765.11h0M503.1 727.84h0M419.96 761.28h0M501.83 742.15h0M505.89 727.66h0M414.46 770.04h0M449.74 751.5h0M500.16 727.32h0M438.91 756.1h0M424.82 766.98h0M389.1 783.05h0M432.4 766.84h0M409.79 767.34h0M499.26 718.13h0M408.66 763.33h0M502.45 742.48h0M427.78 756.64h0M382.3 785.81h0M488.96 741.74h0M461.85 745.65h0M392.65 776.37h0M381.26 789.95h0M458.62 750.39h0M455.31 754.15h0M451.57 754.1h0M386.73 783.79h0M491.47 729.62h0M405.31 783.31h0M456.07 752.13h0M393.54 774.49h0M508.98 733.44h0M495.73 744.32h0M445.17 751.64h0M442.98 759.63h0M420.28 771.5h0M451.49 753.26h0M484.36 743.42h0M450.42 743.64h0M468.54 742.84h0M508.45 740.17h0M431.13 769.67h0M410.27 774.77h0M429.59 755.35h0M398.66 770.33h0M440.53 754.29h0M422.74 753.4h0M397.07 766.34h0M462.88 755.15h0M501.62 727.18h0M500.91 732.87h0M398.2 783.18h0M395.36 781.01h0M448.79 754.21h0M443.66 747.72h0M421.82 765.48h0M498.22 735.69h0M381.98 772.17h0M507.74 740.05h0M470.97 733.89h0M473.5 734.84h0M399.09 776.69h0M415.22 768.09h0M402.91 743.97h0M454.58 745.51h0M483.6 730.57h0M393.96 765.56h0M414.59 771.92h0M479.53 740.1h0M416.09 760.17h0M486.97 736.48h0M452.53 748.77h0M492.08 730.61h0M481.68 748.11h0M437.59 754.49h0M450.24 760.63h0M426.74 752.11h0M433.56 767.68h0M499.61 732.52h0M447.31 754.96h0M441.85 765.02h0M438.31 768.02h0M386.39 776.72h0M415.43 754.14h0M419.43 761.5h0M418.76 771.05h0M476.7 744.51h0M422.66 760.61h0M505.14 727.43h0M426.54 772.88h0M393.77 779.23h0M389.28 775.86h0M399.29 773.34h0M493.41 734.68h0M398.59 770.28h0M467.64 744.39h0M494.33 735.71h0M418.82 763.94h0M486.38 739.9h0M500.74 727.61h0M410.3 776.39h0M487.95 729.44h0M375.64 789.09h0M399.59 778.58h0M416.3 762.86h0M457.29 750.47h0M477.67 751.04h0M409.78 767.49h0M411.06 771.48h0M436.47 749.95h0M394.87 775.78h0M452.63 750.91h0M496.69 734.99h0M401.48 771.74h0M428.94 772.37h0M446.35 753.17h0M400.16 772.98h0M394.61 781.02h0M503.91 727.51h0M437.84 760.17h0M394.08 776.54h0M406.03 786.22h0M404.85 775.4h0M450.24 748.29h0M476.8 737.21h0M411.44 764.34h0M444.91 755.37h0M405.18 772.15h0M474.6 737.08h0M403.52 783.94h0M493.91 727.54h0M501.63 729.58h0M412.2 780.61h0M428.58 750h0M416.85 759.57h0M434.11 759.65h0M423.64 763.05h0M501.16 735.46h0M422.55 765.79h0M405.05 766.55h0M376.47 781.15h0M458.21 733.78h0M479.73 740.78h0M406.23 779.59h0M504.94 735.45h0M434.66 754.21h0M496.48 734.34h0M506.05 731.33h0M403.89 774.32h0M423.44 769.45h0M460.93 754.66h0M399.81 779.26h0M506.14 735.46h0M413.77 768.97h0M503.25 726.98h0M493.07 744.01h0M456.72 751.3h0M397.5 780.32h0M468.16 749.43h0M478.65 737.94h0M391.39 777.4h0M481.75 728.89h0M436.71 751.16h0M388.32 787.23h0M450.73 757.08h0M492.62 733.23h0M456.29 750.4h0M401.11 795.95h0M408.16 770.99h0M471.45 747.32h0M477.7 745.08h0M427.07 764.36h0M461.06 737.83h0M483.69 737.36h0M497.08 730.19h0M389.98 777.79h0M444.76 750.91h0M496.59 731.17h0M495.53 731.22h0M452.26 754.76h0M409.77 772.27h0M404.46 776.49h0M446.92 757.99h0M437.34 760.66h0M474.81 737.45h0M469.82 746.73h0M400.37 774.67h0M476.76 744.48h0M449.37 768.76h0M447.03 753.39h0M454.19 743.07h0M497.08 731.09h0M458.38 746.19h0M398.55 776.52h0M418.18 762.04h0M486.16 739.39h0M389.8 789.89h0M404.48 777.82h0M386.91 791.1h0M397.52 776.84h0M429.86 764.18h0M428.23 762.37h0M477.64 758.69h0M505.7 728.28h0M386.92 789.79h0M475.8 741.13h0M507.83 724.28h0M449.36 761.24h0M448.38 750.33h0M409.34 766.79h0M435.57 756.99h0M431.79 762.38h0M486.85 747.3h0M475.17 740.43h0M403.38 781.14h0M479.13 735.3h0M452.99 767.08h0M408.37 773.59h0M463.36 742.31h0M451.06 762.46h0M453.14 742.08h0M411.62 773.51h0M493.71 741.83h0M413.71 766.85h0M476.53 748.25h0M498.33 733.98h0M496.73 725.37h0M431.74 756.99h0M470.43 744.85h0M443.67 749.86h0M425.7 767.44h0M479.93 740.72h0M495.28 743.77h0M481.6 729.57h0M385.86 781.69h0M411.93 766.44h0M491.91 732.39h0M459.97 746.27h0M412.75 769.3h0M403.52 766.81h0M463.71 743.34h0M413.5 764.9h0M463.73 748.8h0M396.27 777.77h0M420.25 762.05h0M428.29 762.09h0M466.69 740.23h0M469.49 746.98h0M501.36 731.53h0M405.29 771.03h0M484.91 748.15h0M461.07 755.2h0M395.44 788.94h0M498.3 730.1h0M388.83 785.07h0M390.36 790.33h0M476.98 742.07h0M422.07 762.9h0M433.96 770.51h0M385.97 765.71h0M449.51 749.51h0M398.39 784.12h0M490.57 746.06h0M447.13 750.87h0M388.29 773.93h0M432.15 754.59h0M439.54 752.57h0M459.8 737.29h0M427.41 765.11h0M451.14 750.97h0M440.16 755.82h0M465.69 746.96h0M431.26 759.66h0M393.24 779.31h0M465.43 746.28h0M441.87 767.13h0M395.74 760.71h0M439.17 766.66h0M412 767.89h0M494.16 736.63h0M409.44 775.52h0M403.55 776.51h0M499.29 733.13h0M486.62 732.23h0M470.07 746.67h0M470.34 742.94h0M462.89 759.6h0M388.83 786.25h0M454.09 749.58h0M488.74 733.41h0M418.46 775.17h0M443.14 754.3h0M411.66 772.54h0M388.39 786.26h0M499.98 736.21h0M449.24 749h0M429.41 755.83h0M461.37 755.39h0M413.37 764.7h0M470.83 750.74h0M413.45 759.28h0M490.1 728.12h0M458.24 759.09h0M471.75 741.77h0M408.33 770.53h0M496.93 719.94h0M501.71 731.42h0M478.65 733.13h0M512.47 729.3h0M497.98 718.15h0M401.61 778.89h0M382.21 777.49h0M406.54 772.28h0M491.21 748.63h0M453.54 752.13h0M479.5 734.98h0M473.27 745.86h0M391.82 778.79h0M498.51 728.08h0M475.63 725.94h0M481.31 743.95h0M396.05 774.42h0M477.99 745.39h0M503.54 722.88h0M478.4 759.91h0M500.51 738.16h0M452.29 750.27h0M375.04 785.67h0M494.94 735.8h0M506.33 723.44h0M440.14 755.93h0M471.57 736.17h0M462.82 751.06h0M507.28 724.88h0M404.27 779.09h0M484.41 730.95h0M446.25 760.87h0M472.97 745.19h0M443.33 750.83h0M497.29 732.89h0M418.09 773.81h0M421.22 763.31h0M401.18 779.01h0M430.68 757.11h0M475.84 738.1h0M461.45 744.28h0M401.35 776.5h0M480.05 741.32h0M458.85 757.38h0M425.62 761.45h0M408.81 777.96h0M501.53 735.57h0M500.85 727.18h0M457.05 757.49h0M433.21 763.48h0M437.87 756.64h0M484.74 747.39h0M434.83 764.8h0M485.03 732.7h0M466.92 749.83h0M500.29 732.41h0M396.15 777.51h0M489.81 740.22h0M456.84 751.44h0M448.61 742.07h0M389.9 782.59h0M510.48 724.76h0M458.3 749.24h0M509.88 729.02h0M417.62 770.54h0M485.79 740.22h0M406.58 771.46h0M454.62 736.7h0M452.58 755.67h0M433.97 757.24h0M396.72 775.53h0M436.61 765.29h0M413.62 768.12h0M474.06 744.51h0M505.6 722.74h0M446.46 754.74h0M422.24 761.93h0M418.96 754.58h0M401.51 772.34h0M429.97 759.48h0M497.33 735.68h0M442.95 754.78h0M400.96 770.17h0M460.39 753.11h0M489 749.71h0M481.32 728.98h0M455.16 752.86h0M381.71 781.14h0M487.05 737.03h0M413.54 762.42h0M469.92 744.86h0M479.09 746.58h0M454.1 751.29h0M460.56 758.27h0M495 736.83h0M456.2 751.84h0M404.48 776.81h0M460.13 754.3h0M503.55 729.45h0M435.65 760.95h0M418.21 765.91h0M450.89 745.86h0M469.76 743.92h0M501.95 731.74h0M420.63 765.87h0M416.73 774.36h0M500.68 751.55h0M397.88 782.84h0M484.43 745.74h0M452.99 748.04h0M467.07 734.73h0M484 739.26h0M461.07 756.69h0M487.95 735.95h0M388.9 780.94h0M495.66 744.47h0M392.28 770.92h0M480.84 733.58h0M479.37 746.96h0M416.37 774.03h0M443.58 763.31h0M504.86 731.41h0M407.78 766.32h0M505.31 728.72h0M490.64 732.94h0M500.08 728.34h0M508.57 720.89h0M509.86 732.77h0M462.31 742.06h0M504.26 728.56h0M469.69 750.95h0M427.24 764.94h0M496.61 733.72h0M484.52 732.23h0M429.76 771.35h0M428.77 764.81h0M473.7 736.04h0M443.33 755.88h0M416.87 770.52h0M436.79 753.13h0M477.77 735.84h0M489.21 744.13h0M511.91 722.23h0M497.27 730.77h0M447.21 753.09h0M478.63 744.12h0M435.04 771.65h0M441.62 766h0M450.73 758.73h0M427.81 775.85h0M442.85 760.71h0M435.03 766.19h0M422.01 768.19h0M433.87 767.7h0M487.05 728.37h0M419.34 772.51h0M446.71 763.95h0M403.55 777.16h0M412.42 772.12h0M497.91 742.78h0M402.29 779.39h0M415.43 776.61h0M430.56 764.04h0M466.5 744.59h0M423.52 768.29h0M389.38 781.83h0M451.83 754.15h0M512.75 720.67h0M496.84 731.32h0M480.51 749.23h0M473.7 744.08h0M490.23 721.57h0M445.97 771.86h0M473.64 740.42h0M386.12 784.3h0M457.19 747.47h0M453.52 747.44h0M418.95 768.39h0M422.13 768.1h0M410.83 767.24h0M460.11 736.1h0M501.29 742.78h0M463.41 743.67h0M408.4 764.86h0M421.6 762.87h0M495.06 740.61h0M374.64 785.18h0M473.42 749.7h0M484.63 739.82h0M486.7 743.88h0M428.2 768.02h0M419.32 773.81h0M385.76 783.11h0M391.77 771.04h0M484.46 732.37h0M426.34 757h0M437.32 758.39h0M433.43 758.18h0M504.11 726.03h0M429.9 756.39h0M395.38 773.82h0M442.24 750.03h0M491.9 742.33h0M470.04 759.21h0M509.93 734.7h0M459.95 752.76h0M416.04 777.64h0M389.8 779.13h0M489.67 740.08h0M513.26 736.03h0M424.89 765.04h0M451.48 764.54h0M412.23 757.43h0M491.92 752.73h0M481.93 746.27h0M453.26 739.04h0M424.71 770.3h0M403.13 768.8h0M392.31 762.21h0M500.57 723.68h0M475.08 732.22h0M394.98 781.21h0M495.87 733.46h0M467.01 758.53h0M454.92 751.99h0M468.91 737.49h0M445.01 762.27h0M430.22 766.94h0M449.96 759.12h0M491.88 736.95h0M497.29 737.84h0M415.55 773.86h0M501.85 738.35h0M483.7 733.83h0M418.14 760.81h0M405.87 764.79h0M433.85 767.27h0M437.15 749.72h0M449 751.01h0M488.5 734.91h0M444.1 758.33h0M459.02 746.61h0M440.55 771.75h0M482 744.41h0M403.87 783.26h0M480.63 736.78h0M476.93 735.68h0M474.44 740.72h0M419.13 767.44h0M489.31 721.51h0M481.3 756.54h0M483.97 742.2h0M507.84 729.49h0M394.38 777.53h0M491.64 739.91h0M512.4 738.86h0M463.87 752.02h0M479.86 739.21h0M470.89 737.75h0M452.38 754.46h0M458.55 753.71h0M444.4 746.46h0M401.35 774.68h0M393.7 775.92h0M492.6 734.11h0M512.36 718.28h0M479.69 740.63h0M494.76 724.61h0M506.57 727.33h0M487.44 737.4h0M374.73 788.21h0M468.78 746.81h0M472.58 743.08h0M438.15 749.17h0M425.9 766.63h0M497.49 725.18h0M477.42 745.33h0M463.62 746.53h0M455.73 745.94h0M408.16 769.9h0M393.41 782.1h0M421.5 767.27h0M501.91 718.91h0M409.41 766.94h0M486.9 737.49h0M450.93 769.02h0M429.11 759.77h0M504.02 726.37h0M424.18 766.64h0M403.71 774.86h0M403.91 758.93h0M408.95 781.08h0M387.47 769.77h0M461.46 745.04h0M425.75 764.21h0M499.38 734.76h0M437.72 761.6h0M494.54 739.03h0M488.51 738.63h0M465.49 751.68h0M440.96 751.73h0M501 731.84h0M489.92 735.89h0M442.91 757.37h0M422.04 763.97h0M395.08 781.12h0M463.17 747.1h0M396.31 787.55h0M394.03 769.89h0M462.63 745.06h0M399.26 784.04h0M385.76 786.99h0M429.23 767.08h0M502.55 731.73h0M493.9 735.47h0M490.99 727.51h0M507.96 734.37h0M450.81 748.69h0M401.18 780.81h0M457.4 748.72h0M447.22 756.32h0M398.77 782.38h0M495.99 728.37h0M480.73 749.8h0M396.25 774.2h0M444.82 768.52h0M467.15 749.15h0M478.69 741.69h0M405.58 768.61h0M452.76 742.38h0M452.44 759.51h0M389.96 774.93h0M417.44 762.34h0M498.96 745.22h0M497.27 721.04h0M428.1 763.35h0M466.78 754.27h0M486.16 729.86h0M510.22 719.27h0M470.96 731.48h0M452.36 757.23h0M466.04 755.45h0M413.22 774.55h0M459.69 751.77h0M470.83 745.67h0M434.22 755.15h0M459.47 739.19h0M502.3 739.17h0M448.57 753.24h0M415.94 766h0M467.25 761.34h0M443.02 752.11h0M410.85 768.05h0M421.39 764.58h0M493.9 742.76h0M468.39 751.45h0M406.21 785.83h0M440.66 761.14h0M409.02 775.67h0M386.07 769.88h0M426.99 765.54h0M399.01 775.9h0M444.37 761.34h0M497.44 737.11h0M399.3 785.83h0M408.67 775.14h0M394.63 772.46h0M465.2 751.12h0M431.91 756.63h0M410.74 779.05h0M378.82 795.57h0M466.02 750.21h0M400.35 771.1h0M414.61 768.61h0M401.56 777.81h0M397.25 785.77h0M401.85 766.54h0M410.94 769.73h0M405.1 774.69h0M402.73 780.79h0M454.98 740.67h0M395.11 779.22h0M405.18 776.39h0M498.68 738.72h0M396.04 774.71h0M475.71 734.33h0M441.72 759.03h0M397.51 772.97h0M488.59 730.62h0M445.31 759.65h0M503.07 732.04h0M432.44 768.81h0M429.24 764.84h0M445.1 753.41h0M497.42 732.68h0M415.93 765.83h0M482.4 744.42h0M408.49 770.21h0M454.03 753.95h0M452.02 756.4h0M491.69 744.68h0M396.42 779.4h0M421.08 772.74h0M510.56 720.61h0M465.96 750.7h0M422.83 775.3h0M449.37 747.43h0M414.09 762.14h0M442.59 764.68h0M483.55 743.74h0M442.42 749.65h0M470.1 743.43h0M478.81 739.43h0M480.12 738.57h0M433.39 752.42h0M498.08 734.61h0M433.47 762.21h0M450.8 750.51h0M440.08 755.46h0M492.49 737.02h0M442.27 754.77h0M437.45 761.67h0M397.2 775.29h0M473.44 749.87h0M434.79 766.97h0M428.55 763.71h0M410.98 772.27h0M477.82 743.95h0M496.96 726.83h0M487.02 742.78h0M382.52 777.62h0M499.42 733.01h0M469.01 742.71h0M428.38 751.96h0M408.18 780.26h0M456.73 737.63h0M497.59 730.1h0M472.29 734.51h0M440 759.28h0M491.33 737.03h0M397.64 776.28h0M460.57 745.1h0M436.77 760.24h0M413.25 772.03h0M511.19 727.15h0M386.3 778.47h0M413.78 767.12h0M412.4 765.37h0M475.54 742.61h0M504.54 729.65h0M486.48 742.44h0M470.12 735.91h0M456.96 748.99h0M500.01 731.44h0M463.47 756.98h0M377.4 792.09h0M511.53 731.05h0M416.79 762.53h0M403.55 774.44h0M478.79 748h0M398.73 774.62h0M463.44 748.76h0M414.45 775.21h0M488.32 741.57h0M493.95 729.56h0M476.02 740.06h0M499.53 734.12h0M463.19 748.76h0M495.61 731.3h0M500.02 733.99h0M492.93 727.05h0M463.96 760.76h0M444.88 745.8h0M441.89 756.89h0M421.83 772.76h0M468.91 746.23h0M470.12 733.62h0M478.04 741.24h0M415.8 764.03h0M491.81 732.85h0M395.59 792.31h0M502.43 738.41h0M406.46 768.29h0M491.87 738.88h0M503.77 726.7h0M415.91 768.57h0M389.59 777.96h0M471.43 759.21h0M457.11 762.08h0M474.42 740.83h0M461.05 745.42h0M425.96 769.16h0M411.68 759.82h0M464.25 746.07h0M479.99 747.6h0M425.82 756.48h0M433.02 759.47h0M438.14 757.98h0M390.2 784.12h0M418.9 774.8h0M446.56 754.34h0M429.85 765.58h0M426.26 760.13h0M469.17 745.79h0M400.97 766.69h0M450.81 745.25h0M412.47 780.91h0M399.96 769.13h0M418.39 757.08h0M393.3 767.88h0M451.34 752.46h0M416.1 769.02h0M422.58 759.46h0M505.14 739.84h0M483.96 727.05h0M482.16 734.06h0M395.5 778.71h0M438.18 766.64h0M415.86 761.91h0M476.13 743.5h0M443.25 757.7h0M425.63 757.07h0M427.15 768.57h0M470.44 740.4h0M471.18 763.43h0M398.98 763.31h0M476.36 741.42h0M501.56 728.66h0M472.76 749.12h0M415 764.47h0M474.6 734.91h0M498.05 732.28h0M456.58 765.34h0M513.19 726.49h0M448.48 767.79h0M393.03 785.08h0M433.68 756.89h0M448.74 755.59h0M433.47 768.56h0M406.32 776.45h0M497.2 730.76h0M500.84 732.74h0M386.14 777.26h0M494.61 743.98h0M501.95 721.71h0M396.2 769.76h0M373.07 792.81h0M435.07 752.78h0M434.6 764.84h0M421.59 761.83h0M410.65 768.03h0M447.51 761.01h0M502.35 738.94h0M498.79 739.96h0M438.93 766.89h0M385.76 792.65h0M458.51 749.07h0M386.41 785.69h0M419.32 772.94h0M449.02 758.2h0M400.19 773.21h0M455.71 750.97h0M498.4 734.74h0M506.12 731.15h0M477.13 744.76h0M504.03 725.01h0M480.07 739.31h0M486.74 736.88h0M471.1 740.46h0M415.79 763h0M383.6 783.47h0M474.85 744.62h0M442.65 756.08h0M427.28 763.3h0M432.46 737.38h0M414.59 772.53h0M457.15 752.27h0M421.49 770.48h0M397.7 773.74h0M411.96 777.85h0M482.26 744.43h0M371.08 775.67h0M373.45 786.87h0M385.3 796.21h0M390.04 757.92h0M377.4 784.54h0M503.8 716.82h0" stroke="#000" stroke-width="3.2" stroke-linecap="round" fill="none"/>
<line x1="372.8" y1="796.9" x2="512.3" y2="716.5" stroke="#3a9a2c" stroke-width="1.7" />
<text x="369.5" y="809" font-size="7.7" text-anchor="middle" fill="#6e6e6e" textLength="12.89" lengthAdjust="spacingAndGlyphs">-50</text>
<text x="409" y="809" font-size="7.7" text-anchor="middle" fill="#6e6e6e" textLength="4.75" lengthAdjust="spacingAndGlyphs">0</text>
<text x="448.5" y="809" font-size="7.7" text-anchor="middle" fill="#6e6e6e" textLength="9.5" lengthAdjust="spacingAndGlyphs">50</text>
<text x="488" y="809" font-size="7.7" text-anchor="middle" fill="#6e6e6e" textLength="14.25" lengthAdjust="spacingAndGlyphs">100</text>
<text x="364.2" y="733.1" font-size="7.7" text-anchor="end" fill="#6e6e6e" textLength="14.25" lengthAdjust="spacingAndGlyphs">100</text>
<text x="364.2" y="756.9" font-size="7.7" text-anchor="end" fill="#6e6e6e" textLength="9.5" lengthAdjust="spacingAndGlyphs">50</text>
<text x="364.2" y="779.9" font-size="7.7" text-anchor="end" fill="#6e6e6e" textLength="4.75" lengthAdjust="spacingAndGlyphs">0</text>
<text x="364.2" y="803.1" font-size="7.7" text-anchor="end" fill="#6e6e6e" textLength="12.89" lengthAdjust="spacingAndGlyphs">-50</text>
<text x="384.6" y="711.1" font-size="9.8" textLength="102.1" lengthAdjust="spacingAndGlyphs">All 90 models (n=184)</text>
<text x="377.7" y="731.8" font-size="9.3" fill="#222" textLength="36.9" lengthAdjust="spacingAndGlyphs"><tspan font-style="italic">r</tspan> = 0.98</text>
<text x="388.3" y="817.9" font-size="9.8" textLength="107.3" lengthAdjust="spacingAndGlyphs">%Cell Death (observed)</text>
<text x="339" y="765" font-size="9.8" text-anchor="middle" textLength="54.8" lengthAdjust="spacingAndGlyphs" transform="rotate(-90 339 765)">%Cell Death</text>
<text x="350.3" y="763" font-size="9.8" text-anchor="middle" textLength="49.4" lengthAdjust="spacingAndGlyphs" transform="rotate(-90 350.3 763)">(predicted)</text>
<path d="M392.4,433V520M405.5,433V520M418.8,433V520M433.2,433V520M446.5,433V520M460.4,433V520M472.9,433V520M380,516.2H486.7M380,506.78H486.7M380,497.35H486.7M380,487.93H486.7M380,478.5H486.7M380,469.08H486.7M380,459.65H486.7M380,450.23H486.7M380,440.8H486.7" stroke="#ececec" stroke-width="0.6" fill="none"/>
<path d="M433.2,516.95 C440.53,516.92 469.03,517.05 477.2,516.77 C485.37,516.48 481.45,515.67 482.2,515.26 C482.95,514.85 482.5,515.13 481.7,514.32 C480.9,513.5 479.2,512.08 477.4,510.36 C475.6,508.63 473.05,506.12 470.9,503.95 C468.75,501.78 466.1,499.52 464.5,497.35 C462.9,495.18 462.42,492.79 461.3,490.94 C460.18,489.09 458.75,487.83 457.8,486.23 C456.85,484.63 456.2,482.93 455.6,481.33 C455,479.73 454.98,478.22 454.2,476.62 C453.42,475.01 452.27,473.35 450.9,471.71 C449.53,470.08 447.67,468.95 446,466.81 C444.33,464.68 442.18,461.54 440.9,458.9 C439.62,456.26 438.95,453.68 438.3,450.98 C437.65,448.28 437.28,444.7 437,442.69 C436.72,440.67 437.23,439.61 436.6,438.92 C435.97,438.22 433.77,438.6 433.2,438.54 C432.63,438.48 433.77,438.48 433.2,438.54 C432.63,438.6 430.43,438.22 429.8,438.92 C429.17,439.61 429.68,440.67 429.4,442.69 C429.12,444.7 428.75,448.28 428.1,450.98 C427.45,453.68 426.78,456.26 425.5,458.9 C424.22,461.54 422.07,464.68 420.4,466.81 C418.73,468.95 416.87,470.08 415.5,471.71 C414.13,473.35 412.98,475.01 412.2,476.62 C411.42,478.22 411.4,479.73 410.8,481.33 C410.2,482.93 409.55,484.63 408.6,486.23 C407.65,487.83 406.22,489.09 405.1,490.94 C403.98,492.79 403.5,495.18 401.9,497.35 C400.3,499.52 397.65,501.78 395.5,503.95 C393.35,506.12 390.8,508.63 389,510.36 C387.2,512.08 385.5,513.5 384.7,514.32 C383.9,515.13 383.45,514.85 384.2,515.26 C384.95,515.67 381.03,516.48 389.2,516.77 C397.37,517.05 425.87,516.92 433.2,516.95 C440.53,516.99 425.87,516.99 433.2,516.95Z" fill="#f6ece6" stroke="#333" stroke-width="0.8"/>
<line x1="401.2" y1="497.35" x2="465.2" y2="497.35" stroke="#222" stroke-width="0.7" stroke-dasharray="1,1"/>
<path d="M434.67 516.54h0M436.74 516.82h0M436.08 516.79h0M427.55 516.15h0M438.52 516.41h0M438.01 515.66h0M432.83 515.85h0M433.73 516.3h0M427.36 515.8h0M430.55 516.78h0M436.39 515.72h0M436.77 515.69h0M434.61 515.68h0M427.22 516.72h0M429.71 515.8h0M438.99 516.72h0M430.67 516.85h0M433.67 516.45h0M429.66 516.82h0M435.49 516.85h0M437.92 515.92h0M431.53 515.73h0M428.95 515.59h0M430.82 516.34h0M427.24 516.45h0M431.25 515.93h0M437.02 516.17h0M430.99 516.17h0M435.66 515.58h0M438.9 515.53h0M436.2 516.68h0M427.42 516.6h0M431.59 516.31h0M427.31 515.57h0M430.01 509.11h0M430.17 508.83h0M437.5 509.09h0M431.64 508.27h0M433.45 508.86h0M429.28 508.82h0M436.17 508.98h0M428.57 509.1h0M429.11 508.25h0M434.31 509.06h0M431.6 509.07h0M433.65 508.21h0M431.18 496.9h0M428.56 496.86h0M435.28 498.05h0M429.48 496.72h0M438.55 497.4h0M432.16 496.98h0M434.23 497.81h0M432.71 497.24h0M428.31 497.93h0M428.06 497.34h0M436.92 496.83h0M435.75 497.98h0M434.63 497.75h0M428.87 497.26h0M429.34 497.83h0M430.94 497.28h0M438.69 497.84h0M438.44 497.28h0M433.07 497.67h0M432.97 497.06h0M432.14 496.86h0M431.85 498.03h0M436.42 493h0M433.2 492.6h0M430.32 492.51h0M435.17 493.34h0M432.23 493.23h0M435.12 493.1h0M434.35 493.19h0M431.83 478.79h0M431.01 478.48h0M435.9 478.77h0M431.14 479.12h0M434.7 478.61h0M428.32 478.57h0M430.71 478.74h0M432.83 478.94h0M434.67 478.92h0M431.68 478.7h0M435.58 478.96h0M431.7 478.98h0M436.9 478.76h0M437.96 479.14h0M433.38 478.54h0M429.86 478.97h0M435.82 475.45h0M434.35 475.79h0M434.58 475.02h0M434.88 475.6h0M434.19 475.37h0M433.94 460.03h0M434.02 459.96h0M430.37 459.17h0M432.91 457.6h0M431.8 457.65h0M434.12 440.16h0M433 440.42h0M430.08 440.29h0M428.8 467.19h0M430.7 440.42h0" stroke="#000" stroke-width="2.4" stroke-linecap="round" fill="none"/>
<circle cx="433.2" cy="497.35" r="1.4" fill="#e8301c"/>
<text x="374.4" y="519.1" font-size="8.2" text-anchor="middle" fill="#6e6e6e" textLength="5.06" lengthAdjust="spacingAndGlyphs">1</text>
<text x="374.4" y="500.25" font-size="8.2" text-anchor="middle" fill="#6e6e6e" textLength="5.06" lengthAdjust="spacingAndGlyphs">2</text>
<text x="374.4" y="481.4" font-size="8.2" text-anchor="middle" fill="#6e6e6e" textLength="5.06" lengthAdjust="spacingAndGlyphs">3</text>
<text x="374.4" y="462.55" font-size="8.2" text-anchor="middle" fill="#6e6e6e" textLength="5.06" lengthAdjust="spacingAndGlyphs">4</text>
<text x="374.4" y="443.7" font-size="8.2" text-anchor="middle" fill="#6e6e6e" textLength="5.06" lengthAdjust="spacingAndGlyphs">5</text>
<text x="371.6" y="425.5" font-size="9.8" textLength="112.4" lengthAdjust="spacingAndGlyphs">Distance to max VI index</text>
<text x="432.2" y="532.9" font-size="9.8" text-anchor="middle" textLength="25.8" lengthAdjust="spacingAndGlyphs">Model</text>
<text x="364.2" y="476.8" font-size="9.8" text-anchor="middle" textLength="83.2" lengthAdjust="spacingAndGlyphs" transform="rotate(-90 364.2 476.8)">Euclidean distance</text>
<text x="556" y="425.3" font-size="9.8" textLength="73.7" lengthAdjust="spacingAndGlyphs">Measured values</text>
<rect x="548.5" y="432.7" width="7.8" height="7.66" fill="#e83e42" stroke="#444" stroke-width="0.5" />
<rect x="548.5" y="440.36" width="7.8" height="7.66" fill="#e84c52" stroke="#444" stroke-width="0.5" />
<rect x="548.5" y="448.02" width="7.8" height="7.66" fill="#ea6c5c" stroke="#444" stroke-width="0.5" />
<rect x="548.5" y="455.68" width="7.8" height="7.66" fill="#ee8474" stroke="#444" stroke-width="0.5" />
<rect x="548.5" y="463.34" width="7.8" height="7.66" fill="#f09c8e" stroke="#444" stroke-width="0.5" />
<rect x="548.5" y="471" width="7.8" height="7.66" fill="#f3c4b4" stroke="#444" stroke-width="0.5" />
<rect x="548.5" y="478.66" width="7.8" height="7.66" fill="#e8e8e1" stroke="#444" stroke-width="0.5" />
<rect x="548.5" y="486.32" width="7.8" height="7.66" fill="#c3d0d4" stroke="#444" stroke-width="0.5" />
<rect x="548.5" y="493.98" width="7.8" height="7.66" fill="#a6bbc5" stroke="#444" stroke-width="0.5" />
<rect x="548.5" y="501.64" width="7.8" height="7.66" fill="#6f94aa" stroke="#444" stroke-width="0.5" />
<rect x="558.4" y="512" width="7.66" height="7.7" fill="#6f94aa" stroke="#444" stroke-width="0.5" />
<rect x="566.06" y="512" width="7.66" height="7.7" fill="#a6bbc5" stroke="#444" stroke-width="0.5" />
<rect x="573.72" y="512" width="7.66" height="7.7" fill="#c3d0d4" stroke="#444" stroke-width="0.5" />
<rect x="581.38" y="512" width="7.66" height="7.7" fill="#e8e8e1" stroke="#444" stroke-width="0.5" />
<rect x="589.04" y="512" width="7.66" height="7.7" fill="#f3c4b4" stroke="#444" stroke-width="0.5" />
<rect x="596.7" y="512" width="7.66" height="7.7" fill="#f09c8e" stroke="#444" stroke-width="0.5" />
<rect x="604.36" y="512" width="7.66" height="7.7" fill="#ee8474" stroke="#444" stroke-width="0.5" />
<rect x="612.02" y="512" width="7.66" height="7.7" fill="#ea6c5c" stroke="#444" stroke-width="0.5" />
<rect x="619.68" y="512" width="7.66" height="7.7" fill="#e84c52" stroke="#444" stroke-width="0.5" />
<rect x="627.34" y="512" width="7.66" height="7.7" fill="#e83e42" stroke="#444" stroke-width="0.5" />
<rect x="558.4" y="432.7" width="76.6" height="76.6" fill="#fbfbfb" />
<rect x="627.34" y="432.7" width="7.66" height="7.66" fill="#e83a3e" />
<rect x="619.68" y="440.36" width="7.66" height="7.66" fill="#e84444" />
<rect x="612.02" y="448.02" width="7.66" height="7.66" fill="#e85555" />
<rect x="604.36" y="455.68" width="7.66" height="7.66" fill="#ea7474" />
<rect x="596.7" y="463.34" width="7.66" height="7.66" fill="#ee9a94" />
<rect x="589.04" y="471" width="7.66" height="7.66" fill="#f2b8b0" />
<rect x="581.38" y="478.66" width="7.66" height="7.66" fill="#f0c8c0" />
<rect x="573.72" y="486.32" width="7.66" height="7.66" fill="#cfbcc0" />
<rect x="566.06" y="493.98" width="7.66" height="7.66" fill="#a7b0bd" />
<rect x="558.4" y="501.64" width="7.66" height="7.66" fill="#7896aa" />
<path d="M566.06,432.7v76.6M558.4,440.36h76.6M573.72,432.7v76.6M558.4,448.02h76.6M581.38,432.7v76.6M558.4,455.68h76.6M589.04,432.7v76.6M558.4,463.34h76.6M596.7,432.7v76.6M558.4,471h76.6M604.36,432.7v76.6M558.4,478.66h76.6M612.02,432.7v76.6M558.4,486.32h76.6M619.68,432.7v76.6M558.4,493.98h76.6M627.34,432.7v76.6M558.4,501.64h76.6" stroke="#8a8a8a" stroke-width="0.6" fill="none"/>
<rect x="558.4" y="432.7" width="76.6" height="76.6" fill="none" stroke="#444" stroke-width="0.9" />
<text x="541.9" y="471.2" font-size="9.8" text-anchor="middle" textLength="29" lengthAdjust="spacingAndGlyphs" transform="rotate(-90 541.9 471.2)">Drug 2</text>
<text x="598.9" y="529" font-size="9.8" text-anchor="middle" textLength="29.5" lengthAdjust="spacingAndGlyphs">Drug 1</text>
<rect x="640" y="432.7" width="5" height="31.5" fill="url(#cbar)" stroke="#555" stroke-width="0.4" />
<text x="646.4" y="439.3" font-size="9.8" textLength="25.2" lengthAdjust="spacingAndGlyphs">100%</text>
<text x="646.4" y="464.3" font-size="9.8" textLength="14.7" lengthAdjust="spacingAndGlyphs">0%</text>
<text x="628.7" y="431" font-size="9.8" textLength="45.6" lengthAdjust="spacingAndGlyphs">Cell Death</text>
<line x1="595.8" y1="534" x2="595.8" y2="568" stroke="#222" stroke-width="0.8" />
<path d="M595.8,570 L593.6,563.5 L598,563.5 Z" fill="#222"/>
<polygon points="559.5,531.7 562.26,538.1 569.2,538.75 563.97,543.35 565.5,550.15 559.5,546.6 553.5,550.15 555.03,543.35 549.8,538.75 556.74,538.1" fill="url(#star)" stroke="#333" stroke-width="0.8" stroke-linejoin="round"/>
<text x="533.4" y="560" font-size="9.8" textLength="54.8" lengthAdjust="spacingAndGlyphs">Apply model</text>
<rect x="548.5" y="575.5" width="7.8" height="7.66" fill="#e83e42" stroke="#444" stroke-width="0.5" />
<rect x="548.5" y="583.16" width="7.8" height="7.66" fill="#e84c52" stroke="#444" stroke-width="0.5" />
<rect x="548.5" y="590.82" width="7.8" height="7.66" fill="#ea6c5c" stroke="#444" stroke-width="0.5" />
<rect x="548.5" y="598.48" width="7.8" height="7.66" fill="#ee8474" stroke="#444" stroke-width="0.5" />
<rect x="548.5" y="606.14" width="7.8" height="7.66" fill="#f09c8e" stroke="#444" stroke-width="0.5" />
<rect x="548.5" y="613.8" width="7.8" height="7.66" fill="#f3c4b4" stroke="#444" stroke-width="0.5" />
<rect x="548.5" y="621.46" width="7.8" height="7.66" fill="#e8e8e1" stroke="#444" stroke-width="0.5" />
<rect x="548.5" y="629.12" width="7.8" height="7.66" fill="#c3d0d4" stroke="#444" stroke-width="0.5" />
<rect x="548.5" y="636.78" width="7.8" height="7.66" fill="#a6bbc5" stroke="#444" stroke-width="0.5" />
<rect x="548.5" y="644.44" width="7.8" height="7.66" fill="#6f94aa" stroke="#444" stroke-width="0.5" />
<rect x="558.4" y="654.8" width="7.66" height="7.7" fill="#6f94aa" stroke="#444" stroke-width="0.5" />
<rect x="566.06" y="654.8" width="7.66" height="7.7" fill="#a6bbc5" stroke="#444" stroke-width="0.5" />
<rect x="573.72" y="654.8" width="7.66" height="7.7" fill="#c3d0d4" stroke="#444" stroke-width="0.5" />
<rect x="581.38" y="654.8" width="7.66" height="7.7" fill="#e8e8e1" stroke="#444" stroke-width="0.5" />
<rect x="589.04" y="654.8" width="7.66" height="7.7" fill="#f3c4b4" stroke="#444" stroke-width="0.5" />
<rect x="596.7" y="654.8" width="7.66" height="7.7" fill="#f09c8e" stroke="#444" stroke-width="0.5" />
<rect x="604.36" y="654.8" width="7.66" height="7.7" fill="#ee8474" stroke="#444" stroke-width="0.5" />
<rect x="612.02" y="654.8" width="7.66" height="7.7" fill="#ea6c5c" stroke="#444" stroke-width="0.5" />
<rect x="619.68" y="654.8" width="7.66" height="7.7" fill="#e84c52" stroke="#444" stroke-width="0.5" />
<rect x="627.34" y="654.8" width="7.66" height="7.7" fill="#e83e42" stroke="#444" stroke-width="0.5" />
<rect x="558.4" y="575.5" width="76.6" height="76.6" fill="#fbfbfb" />
<rect x="558.4" y="575.5" width="7.66" height="7.66" fill="#e84e52" />
<rect x="566.06" y="575.5" width="7.66" height="7.66" fill="#e84d51" />
<rect x="573.72" y="575.5" width="7.66" height="7.66" fill="#e84d51" />
<rect x="581.38" y="575.5" width="7.66" height="7.66" fill="#e84c50" />
<rect x="589.04" y="575.5" width="7.66" height="7.66" fill="#e84c50" />
<rect x="596.7" y="575.5" width="7.66" height="7.66" fill="#e84b4f" />
<rect x="604.36" y="575.5" width="7.66" height="7.66" fill="#e84b4f" />
<rect x="612.02" y="575.5" width="7.66" height="7.66" fill="#e84a4e" />
<rect x="619.68" y="575.5" width="7.66" height="7.66" fill="#e84a4e" />
<rect x="627.34" y="575.5" width="7.66" height="7.66" fill="#e8494d" />
<rect x="558.4" y="583.16" width="7.66" height="7.66" fill="#ea6367" />
<rect x="566.06" y="583.16" width="7.66" height="7.66" fill="#ea6266" />
<rect x="573.72" y="583.16" width="7.66" height="7.66" fill="#ea6064" />
<rect x="581.38" y="583.16" width="7.66" height="7.66" fill="#e95d61" />
<rect x="589.04" y="583.16" width="7.66" height="7.66" fill="#e95b5f" />
<rect x="596.7" y="583.16" width="7.66" height="7.66" fill="#e95a5e" />
<rect x="604.36" y="583.16" width="7.66" height="7.66" fill="#e9585c" />
<rect x="612.02" y="583.16" width="7.66" height="7.66" fill="#e9565a" />
<rect x="619.68" y="583.16" width="7.66" height="7.66" fill="#e95458" />
<rect x="627.34" y="583.16" width="7.66" height="7.66" fill="#e84c50" />
<rect x="558.4" y="590.82" width="7.66" height="7.66" fill="#ec7b7b" />
<rect x="566.06" y="590.82" width="7.66" height="7.66" fill="#ec7879" />
<rect x="573.72" y="590.82" width="7.66" height="7.66" fill="#eb7576" />
<rect x="581.38" y="590.82" width="7.66" height="7.66" fill="#eb7173" />
<rect x="589.04" y="590.82" width="7.66" height="7.66" fill="#eb6e70" />
<rect x="596.7" y="590.82" width="7.66" height="7.66" fill="#eb6b6e" />
<rect x="604.36" y="590.82" width="7.66" height="7.66" fill="#ea686b" />
<rect x="612.02" y="590.82" width="7.66" height="7.66" fill="#ea6569" />
<rect x="619.68" y="590.82" width="7.66" height="7.66" fill="#e95d61" />
<rect x="627.34" y="590.82" width="7.66" height="7.66" fill="#e84d51" />
<rect x="558.4" y="598.48" width="7.66" height="7.66" fill="#f09a96" />
<rect x="566.06" y="598.48" width="7.66" height="7.66" fill="#ef9592" />
<rect x="573.72" y="598.48" width="7.66" height="7.66" fill="#ee8f8d" />
<rect x="581.38" y="598.48" width="7.66" height="7.66" fill="#ee8987" />
<rect x="589.04" y="598.48" width="7.66" height="7.66" fill="#ed8282" />
<rect x="596.7" y="598.48" width="7.66" height="7.66" fill="#ec7e7e" />
<rect x="604.36" y="598.48" width="7.66" height="7.66" fill="#ec797a" />
<rect x="612.02" y="598.48" width="7.66" height="7.66" fill="#eb7072" />
<rect x="619.68" y="598.48" width="7.66" height="7.66" fill="#ea6064" />
<rect x="627.34" y="598.48" width="7.66" height="7.66" fill="#e84e52" />
<rect x="558.4" y="606.14" width="7.66" height="7.66" fill="#f2bab4" />
<rect x="566.06" y="606.14" width="7.66" height="7.66" fill="#f1b3ae" />
<rect x="573.72" y="606.14" width="7.66" height="7.66" fill="#f1aca7" />
<rect x="581.38" y="606.14" width="7.66" height="7.66" fill="#f0a4a0" />
<rect x="589.04" y="606.14" width="7.66" height="7.66" fill="#f09c98" />
<rect x="596.7" y="606.14" width="7.66" height="7.66" fill="#ef9693" />
<rect x="604.36" y="606.14" width="7.66" height="7.66" fill="#ed8684" />
<rect x="612.02" y="606.14" width="7.66" height="7.66" fill="#eb7576" />
<rect x="619.68" y="606.14" width="7.66" height="7.66" fill="#ea6367" />
<rect x="627.34" y="606.14" width="7.66" height="7.66" fill="#e84f53" />
<rect x="558.4" y="613.8" width="7.66" height="7.66" fill="#f0d4cc" />
<rect x="566.06" y="613.8" width="7.66" height="7.66" fill="#f1cdc6" />
<rect x="573.72" y="613.8" width="7.66" height="7.66" fill="#f1c6c0" />
<rect x="581.38" y="613.8" width="7.66" height="7.66" fill="#f2bfb8" />
<rect x="589.04" y="613.8" width="7.66" height="7.66" fill="#f2b6b0" />
<rect x="596.7" y="613.8" width="7.66" height="7.66" fill="#f0a49f" />
<rect x="604.36" y="613.8" width="7.66" height="7.66" fill="#ee8d8b" />
<rect x="612.02" y="613.8" width="7.66" height="7.66" fill="#ec797a" />
<rect x="619.68" y="613.8" width="7.66" height="7.66" fill="#ea666a" />
<rect x="627.34" y="613.8" width="7.66" height="7.66" fill="#e85155" />
<rect x="558.4" y="621.46" width="7.66" height="7.66" fill="#d5c8c7" />
<rect x="566.06" y="621.46" width="7.66" height="7.66" fill="#deccc9" />
<rect x="573.72" y="621.46" width="7.66" height="7.66" fill="#e7d1cc" />
<rect x="581.38" y="621.46" width="7.66" height="7.66" fill="#f0d5cd" />
<rect x="589.04" y="621.46" width="7.66" height="7.66" fill="#f2bfb8" />
<rect x="596.7" y="621.46" width="7.66" height="7.66" fill="#f1aca7" />
<rect x="604.36" y="621.46" width="7.66" height="7.66" fill="#ef9491" />
<rect x="612.02" y="621.46" width="7.66" height="7.66" fill="#ec7e7e" />
<rect x="619.68" y="621.46" width="7.66" height="7.66" fill="#ea696c" />
<rect x="627.34" y="621.46" width="7.66" height="7.66" fill="#e85256" />
<rect x="558.4" y="629.12" width="7.66" height="7.66" fill="#b9b6bd" />
<rect x="566.06" y="629.12" width="7.66" height="7.66" fill="#c2bcc0" />
<rect x="573.72" y="629.12" width="7.66" height="7.66" fill="#ccc2c4" />
<rect x="581.38" y="629.12" width="7.66" height="7.66" fill="#e7d1cc" />
<rect x="589.04" y="629.12" width="7.66" height="7.66" fill="#f1c6c0" />
<rect x="596.7" y="629.12" width="7.66" height="7.66" fill="#f2b5af" />
<rect x="604.36" y="629.12" width="7.66" height="7.66" fill="#f09b97" />
<rect x="612.02" y="629.12" width="7.66" height="7.66" fill="#ed8483" />
<rect x="619.68" y="629.12" width="7.66" height="7.66" fill="#eb6c6f" />
<rect x="627.34" y="629.12" width="7.66" height="7.66" fill="#e95458" />
<rect x="558.4" y="636.78" width="7.66" height="7.66" fill="#a2acb9" />
<rect x="566.06" y="636.78" width="7.66" height="7.66" fill="#adb0bb" />
<rect x="573.72" y="636.78" width="7.66" height="7.66" fill="#c3bdc1" />
<rect x="581.38" y="636.78" width="7.66" height="7.66" fill="#dfcdc9" />
<rect x="589.04" y="636.78" width="7.66" height="7.66" fill="#f1cdc5" />
<rect x="596.7" y="636.78" width="7.66" height="7.66" fill="#f2bbb5" />
<rect x="604.36" y="636.78" width="7.66" height="7.66" fill="#f0a09c" />
<rect x="612.02" y="636.78" width="7.66" height="7.66" fill="#ee8887" />
<rect x="619.68" y="636.78" width="7.66" height="7.66" fill="#eb6f71" />
<rect x="627.34" y="636.78" width="7.66" height="7.66" fill="#e95559" />
<rect x="558.4" y="644.44" width="7.66" height="7.66" fill="#84a0b2" />
<rect x="566.06" y="644.44" width="7.66" height="7.66" fill="#9fabb9" />
<rect x="573.72" y="644.44" width="7.66" height="7.66" fill="#b9b6bd" />
<rect x="581.38" y="644.44" width="7.66" height="7.66" fill="#d5c8c7" />
<rect x="589.04" y="644.44" width="7.66" height="7.66" fill="#f0d4cc" />
<rect x="596.7" y="644.44" width="7.66" height="7.66" fill="#f2c2bb" />
<rect x="604.36" y="644.44" width="7.66" height="7.66" fill="#f1a7a2" />
<rect x="612.02" y="644.44" width="7.66" height="7.66" fill="#ee8d8b" />
<rect x="619.68" y="644.44" width="7.66" height="7.66" fill="#eb7173" />
<rect x="627.34" y="644.44" width="7.66" height="7.66" fill="#e9565a" />
<path d="M566.06,575.5v76.6M558.4,583.16h76.6M573.72,575.5v76.6M558.4,590.82h76.6M581.38,575.5v76.6M558.4,598.48h76.6M589.04,575.5v76.6M558.4,606.14h76.6M596.7,575.5v76.6M558.4,613.8h76.6M604.36,575.5v76.6M558.4,621.46h76.6M612.02,575.5v76.6M558.4,629.12h76.6M619.68,575.5v76.6M558.4,636.78h76.6M627.34,575.5v76.6M558.4,644.44h76.6" stroke="#333" stroke-width="0.6" fill="none" stroke-opacity="0.75"/>
<rect x="558.4" y="575.5" width="76.6" height="76.6" fill="none" stroke="#444" stroke-width="0.9" />
<text x="541.9" y="614" font-size="9.8" text-anchor="middle" textLength="29" lengthAdjust="spacingAndGlyphs" transform="rotate(-90 541.9 614)">Drug 2</text>
<text x="598.9" y="671.8" font-size="9.8" text-anchor="middle" textLength="29.5" lengthAdjust="spacingAndGlyphs">Drug 1</text>
<rect x="640" y="575.5" width="5" height="31.5" fill="url(#cbar)" stroke="#555" stroke-width="0.4" />
<text x="646.4" y="582.1" font-size="9.8" textLength="25.2" lengthAdjust="spacingAndGlyphs">100%</text>
<text x="646.4" y="607.1" font-size="9.8" textLength="14.7" lengthAdjust="spacingAndGlyphs">0%</text>
<text x="628.7" y="570.3" font-size="9.8" textLength="45.6" lengthAdjust="spacingAndGlyphs">Cell Death</text>
<line x1="595.8" y1="675.3" x2="595.8" y2="709.5" stroke="#222" stroke-width="0.8" />
<path d="M595.8,711.5 L593.6,705 L598,705 Z" fill="#222"/>
<text x="543.5" y="689.4" font-size="9.8" textLength="37.8" lengthAdjust="spacingAndGlyphs">Quantify</text>
<text x="546" y="698.8" font-size="9.8" textLength="36" lengthAdjust="spacingAndGlyphs">Synergy</text>
<rect x="548.5" y="719.1" width="7.8" height="7.66" fill="#6e93a7" stroke="#444" stroke-width="0.5" />
<rect x="548.5" y="726.76" width="7.8" height="7.66" fill="#6e93a7" stroke="#444" stroke-width="0.5" />
<rect x="548.5" y="734.42" width="7.8" height="7.66" fill="#6e93a7" stroke="#444" stroke-width="0.5" />
<rect x="548.5" y="742.08" width="7.8" height="7.66" fill="#6e93a7" stroke="#444" stroke-width="0.5" />
<rect x="548.5" y="749.74" width="7.8" height="7.66" fill="#6e93a7" stroke="#444" stroke-width="0.5" />
<rect x="548.5" y="757.4" width="7.8" height="7.66" fill="#6e93a7" stroke="#444" stroke-width="0.5" />
<rect x="548.5" y="765.06" width="7.8" height="7.66" fill="#6e93a7" stroke="#444" stroke-width="0.5" />
<rect x="548.5" y="772.72" width="7.8" height="7.66" fill="#6e93a7" stroke="#444" stroke-width="0.5" />
<rect x="548.5" y="780.38" width="7.8" height="7.66" fill="#6e93a7" stroke="#444" stroke-width="0.5" />
<rect x="548.5" y="788.04" width="7.8" height="7.66" fill="#6e93a7" stroke="#444" stroke-width="0.5" />
<rect x="558.4" y="798.4" width="7.66" height="7.7" fill="#6e93a7" stroke="#444" stroke-width="0.5" />
<rect x="566.06" y="798.4" width="7.66" height="7.7" fill="#6e93a7" stroke="#444" stroke-width="0.5" />
<rect x="573.72" y="798.4" width="7.66" height="7.7" fill="#6e93a7" stroke="#444" stroke-width="0.5" />
<rect x="581.38" y="798.4" width="7.66" height="7.7" fill="#6e93a7" stroke="#444" stroke-width="0.5" />
<rect x="589.04" y="798.4" width="7.66" height="7.7" fill="#6e93a7" stroke="#444" stroke-width="0.5" />
<rect x="596.7" y="798.4" width="7.66" height="7.7" fill="#6e93a7" stroke="#444" stroke-width="0.5" />
<rect x="604.36" y="798.4" width="7.66" height="7.7" fill="#6e93a7" stroke="#444" stroke-width="0.5" />
<rect x="612.02" y="798.4" width="7.66" height="7.7" fill="#6e93a7" stroke="#444" stroke-width="0.5" />
<rect x="619.68" y="798.4" width="7.66" height="7.7" fill="#6e93a7" stroke="#444" stroke-width="0.5" />
<rect x="627.34" y="798.4" width="7.66" height="7.7" fill="#6e93a7" stroke="#444" stroke-width="0.5" />
<rect x="558.4" y="719.1" width="7.66" height="7.66" fill="#6f94aa" />
<rect x="566.06" y="719.1" width="7.66" height="7.66" fill="#6f94aa" />
<rect x="573.72" y="719.1" width="7.66" height="7.66" fill="#7195ab" />
<rect x="581.38" y="719.1" width="7.66" height="7.66" fill="#7698ad" />
<rect x="589.04" y="719.1" width="7.66" height="7.66" fill="#7e9eb0" />
<rect x="596.7" y="719.1" width="7.66" height="7.66" fill="#89a5b4" />
<rect x="604.36" y="719.1" width="7.66" height="7.66" fill="#8ea7b7" />
<rect x="612.02" y="719.1" width="7.66" height="7.66" fill="#89a5b4" />
<rect x="619.68" y="719.1" width="7.66" height="7.66" fill="#7e9eb0" />
<rect x="627.34" y="719.1" width="7.66" height="7.66" fill="#7698ad" />
<rect x="558.4" y="726.76" width="7.66" height="7.66" fill="#6f94aa" />
<rect x="566.06" y="726.76" width="7.66" height="7.66" fill="#7095aa" />
<rect x="573.72" y="726.76" width="7.66" height="7.66" fill="#7397ac" />
<rect x="581.38" y="726.76" width="7.66" height="7.66" fill="#7d9db0" />
<rect x="589.04" y="726.76" width="7.66" height="7.66" fill="#91a9b8" />
<rect x="596.7" y="726.76" width="7.66" height="7.66" fill="#abb6c1" />
<rect x="604.36" y="726.76" width="7.66" height="7.66" fill="#babcc2" />
<rect x="612.02" y="726.76" width="7.66" height="7.66" fill="#abb6c1" />
<rect x="619.68" y="726.76" width="7.66" height="7.66" fill="#91a9b8" />
<rect x="627.34" y="726.76" width="7.66" height="7.66" fill="#7d9db0" />
<rect x="558.4" y="734.42" width="7.66" height="7.66" fill="#6f94aa" />
<rect x="566.06" y="734.42" width="7.66" height="7.66" fill="#7195ab" />
<rect x="573.72" y="734.42" width="7.66" height="7.66" fill="#7799ad" />
<rect x="581.38" y="734.42" width="7.66" height="7.66" fill="#88a4b4" />
<rect x="589.04" y="734.42" width="7.66" height="7.66" fill="#b0b8c1" />
<rect x="596.7" y="734.42" width="7.66" height="7.66" fill="#e3cdc9" />
<rect x="604.36" y="734.42" width="7.66" height="7.66" fill="#f1cec7" />
<rect x="612.02" y="734.42" width="7.66" height="7.66" fill="#e3cdc9" />
<rect x="619.68" y="734.42" width="7.66" height="7.66" fill="#b0b8c1" />
<rect x="627.34" y="734.42" width="7.66" height="7.66" fill="#88a4b4" />
<rect x="558.4" y="742.08" width="7.66" height="7.66" fill="#6f94aa" />
<rect x="566.06" y="742.08" width="7.66" height="7.66" fill="#7195ab" />
<rect x="573.72" y="742.08" width="7.66" height="7.66" fill="#7a9bae" />
<rect x="581.38" y="742.08" width="7.66" height="7.66" fill="#94abb9" />
<rect x="589.04" y="742.08" width="7.66" height="7.66" fill="#d4c6c5" />
<rect x="596.7" y="742.08" width="7.66" height="7.66" fill="#f4b2ae" />
<rect x="604.36" y="742.08" width="7.66" height="7.66" fill="#ef8788" />
<rect x="612.02" y="742.08" width="7.66" height="7.66" fill="#f4b2ae" />
<rect x="619.68" y="742.08" width="7.66" height="7.66" fill="#d4c6c5" />
<rect x="627.34" y="742.08" width="7.66" height="7.66" fill="#94abb9" />
<rect x="558.4" y="749.74" width="7.66" height="7.66" fill="#6f94aa" />
<rect x="566.06" y="749.74" width="7.66" height="7.66" fill="#7296ab" />
<rect x="573.72" y="749.74" width="7.66" height="7.66" fill="#7c9caf" />
<rect x="581.38" y="749.74" width="7.66" height="7.66" fill="#9bafbc" />
<rect x="589.04" y="749.74" width="7.66" height="7.66" fill="#e4cec9" />
<rect x="596.7" y="749.74" width="7.66" height="7.66" fill="#ef8a8b" />
<rect x="604.36" y="749.74" width="7.66" height="7.66" fill="#e84b53" />
<rect x="612.02" y="749.74" width="7.66" height="7.66" fill="#ef8a8b" />
<rect x="619.68" y="749.74" width="7.66" height="7.66" fill="#e4cec9" />
<rect x="627.34" y="749.74" width="7.66" height="7.66" fill="#9bafbc" />
<rect x="558.4" y="757.4" width="7.66" height="7.66" fill="#6f94aa" />
<rect x="566.06" y="757.4" width="7.66" height="7.66" fill="#7296ab" />
<rect x="573.72" y="757.4" width="7.66" height="7.66" fill="#7b9caf" />
<rect x="581.38" y="757.4" width="7.66" height="7.66" fill="#99aebb" />
<rect x="589.04" y="757.4" width="7.66" height="7.66" fill="#e0ccc8" />
<rect x="596.7" y="757.4" width="7.66" height="7.66" fill="#f19695" />
<rect x="604.36" y="757.4" width="7.66" height="7.66" fill="#e95a60" />
<rect x="612.02" y="757.4" width="7.66" height="7.66" fill="#f19695" />
<rect x="619.68" y="757.4" width="7.66" height="7.66" fill="#e0ccc8" />
<rect x="627.34" y="757.4" width="7.66" height="7.66" fill="#99aebb" />
<rect x="558.4" y="765.06" width="7.66" height="7.66" fill="#6f94aa" />
<rect x="566.06" y="765.06" width="7.66" height="7.66" fill="#7195ab" />
<rect x="573.72" y="765.06" width="7.66" height="7.66" fill="#799aae" />
<rect x="581.38" y="765.06" width="7.66" height="7.66" fill="#90a8b7" />
<rect x="589.04" y="765.06" width="7.66" height="7.66" fill="#c8c1c3" />
<rect x="596.7" y="765.06" width="7.66" height="7.66" fill="#f2c4be" />
<rect x="604.36" y="765.06" width="7.66" height="7.66" fill="#f3a7a5" />
<rect x="612.02" y="765.06" width="7.66" height="7.66" fill="#f2c4be" />
<rect x="619.68" y="765.06" width="7.66" height="7.66" fill="#c8c1c3" />
<rect x="627.34" y="765.06" width="7.66" height="7.66" fill="#90a8b7" />
<rect x="558.4" y="772.72" width="7.66" height="7.66" fill="#6f94aa" />
<rect x="566.06" y="772.72" width="7.66" height="7.66" fill="#7095ab" />
<rect x="573.72" y="772.72" width="7.66" height="7.66" fill="#7598ac" />
<rect x="581.38" y="772.72" width="7.66" height="7.66" fill="#84a1b2" />
<rect x="589.04" y="772.72" width="7.66" height="7.66" fill="#a1b2bf" />
<rect x="596.7" y="772.72" width="7.66" height="7.66" fill="#cfc4c4" />
<rect x="604.36" y="772.72" width="7.66" height="7.66" fill="#dfccc8" />
<rect x="612.02" y="772.72" width="7.66" height="7.66" fill="#cfc4c4" />
<rect x="619.68" y="772.72" width="7.66" height="7.66" fill="#a1b2bf" />
<rect x="627.34" y="772.72" width="7.66" height="7.66" fill="#84a1b2" />
<rect x="558.4" y="780.38" width="7.66" height="7.66" fill="#6f94aa" />
<rect x="566.06" y="780.38" width="7.66" height="7.66" fill="#7094aa" />
<rect x="573.72" y="780.38" width="7.66" height="7.66" fill="#7296ab" />
<rect x="581.38" y="780.38" width="7.66" height="7.66" fill="#7a9bae" />
<rect x="589.04" y="780.38" width="7.66" height="7.66" fill="#88a4b4" />
<rect x="596.7" y="780.38" width="7.66" height="7.66" fill="#9aaebc" />
<rect x="604.36" y="780.38" width="7.66" height="7.66" fill="#a3b3bf" />
<rect x="612.02" y="780.38" width="7.66" height="7.66" fill="#9aaebc" />
<rect x="619.68" y="780.38" width="7.66" height="7.66" fill="#88a4b4" />
<rect x="627.34" y="780.38" width="7.66" height="7.66" fill="#7a9bae" />
<rect x="558.4" y="788.04" width="7.66" height="7.66" fill="#6f94aa" />
<rect x="566.06" y="788.04" width="7.66" height="7.66" fill="#6f94aa" />
<rect x="573.72" y="788.04" width="7.66" height="7.66" fill="#7095ab" />
<rect x="581.38" y="788.04" width="7.66" height="7.66" fill="#7397ac" />
<rect x="589.04" y="788.04" width="7.66" height="7.66" fill="#7a9bae" />
<rect x="596.7" y="788.04" width="7.66" height="7.66" fill="#819fb1" />
<rect x="604.36" y="788.04" width="7.66" height="7.66" fill="#84a2b3" />
<rect x="612.02" y="788.04" width="7.66" height="7.66" fill="#819fb1" />
<rect x="619.68" y="788.04" width="7.66" height="7.66" fill="#7a9bae" />
<rect x="627.34" y="788.04" width="7.66" height="7.66" fill="#7397ac" />
<path d="M566.06,719.1v76.6M558.4,726.76h76.6M573.72,719.1v76.6M558.4,734.42h76.6M581.38,719.1v76.6M558.4,742.08h76.6M589.04,719.1v76.6M558.4,749.74h76.6M596.7,719.1v76.6M558.4,757.4h76.6M604.36,719.1v76.6M558.4,765.06h76.6M612.02,719.1v76.6M558.4,772.72h76.6M619.68,719.1v76.6M558.4,780.38h76.6M627.34,719.1v76.6M558.4,788.04h76.6" stroke="#333" stroke-width="0.6" fill="none" stroke-opacity="0.75"/>
<rect x="558.4" y="719.1" width="76.6" height="76.6" fill="none" stroke="#444" stroke-width="0.8" />
<text x="541.9" y="757.6" font-size="9.8" text-anchor="middle" textLength="29" lengthAdjust="spacingAndGlyphs" transform="rotate(-90 541.9 757.6)">Drug 2</text>
<text x="598.9" y="817.7" font-size="9.8" text-anchor="middle" textLength="29.5" lengthAdjust="spacingAndGlyphs">Drug 1</text>
<linearGradient id="synbar" x1="0" y1="0" x2="0" y2="1"><stop offset="0" stop-color="#e8343c"/><stop offset="0.45" stop-color="#f0d2cb"/><stop offset="1" stop-color="#6e93a7"/></linearGradient>
<rect x="639.6" y="718.4" width="4.8" height="31" fill="url(#synbar)" stroke="#555" stroke-width="0.4" />
<text x="632.1" y="713.4" font-size="9.8" textLength="36.3" lengthAdjust="spacingAndGlyphs">Synergy</text>
<text x="645.8" y="722.6" font-size="9.8" textLength="19.6" lengthAdjust="spacingAndGlyphs">High</text>
<text x="645.8" y="751.9" font-size="9.8" textLength="16.4" lengthAdjust="spacingAndGlyphs">Low</text>
</svg>
</body></html>
